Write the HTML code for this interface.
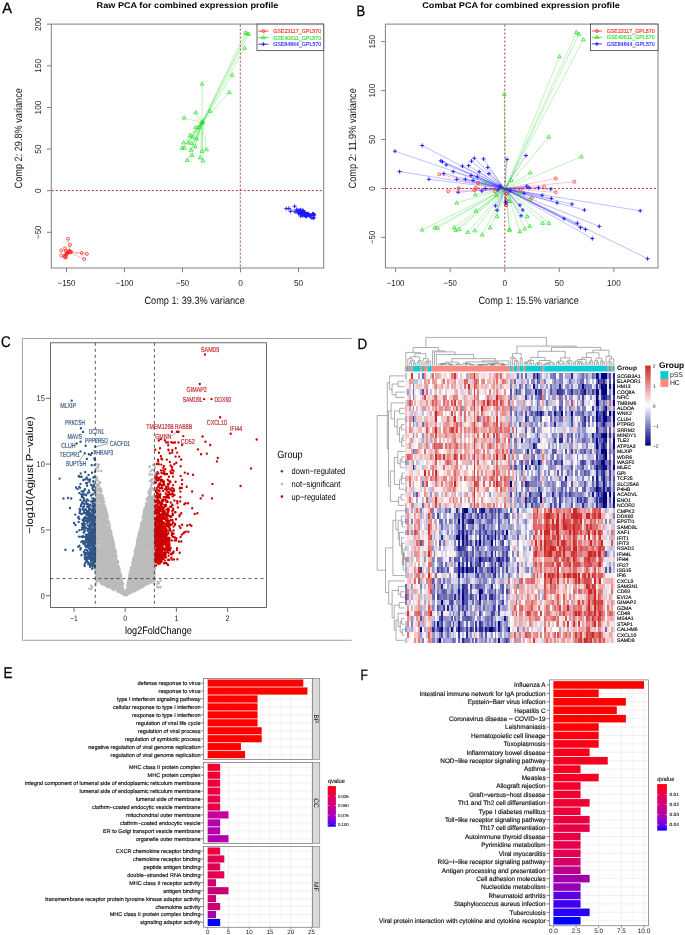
<!DOCTYPE html>
<html><head><meta charset="utf-8"><style>
html,body{margin:0;padding:0;background:#fff;width:685px;height:935px;overflow:hidden}
svg{display:block;font-family:"Liberation Sans",sans-serif;text-rendering:geometricPrecision;will-change:transform}
</style></head><body>
<svg width="685" height="935" viewBox="0 0 685 935">
<rect width="685" height="935" fill="#fff"/>
<g>
<text x="187.45" y="8.00" font-size="8.30" text-anchor="middle" font-weight="bold" textLength="181.70" lengthAdjust="spacingAndGlyphs">Raw PCA for combined expression profile</text>
<text x="2.20" y="12.80" font-size="15.00" textLength="9.80" lengthAdjust="spacingAndGlyphs" stroke="#000" stroke-width="0.3">A</text>
<path d="M68.1 238.7L69.3 252.4M70.1 244.8L69.3 252.4M65.0 248.3L69.3 252.4M61.1 250.4L69.3 252.4M61.3 255.5L69.3 252.4M81.8 253.0L69.3 252.4M86.9 253.9L69.3 252.4M84.2 259.0L69.3 252.4M66.0 251.0L69.3 252.4M67.5 252.5L69.3 252.4M69.0 251.0L69.3 252.4M70.5 251.5L69.3 252.4M66.5 254.0L69.3 252.4M65.0 256.5L69.3 252.4M65.5 255.0L69.3 252.4M67.0 253.5L69.3 252.4M68.0 252.0L69.3 252.4M64.5 257.0L69.3 252.4M66.0 257.5L69.3 252.4M70.0 252.5L69.3 252.4M71.0 251.8L69.3 252.4" stroke="#ff4040" stroke-width="0.45" fill="none" opacity="0.7"/>
<path d="M245.4 32.8L202.1 122.7M247.0 33.6L202.1 122.7M248.6 34.1L202.1 122.7M244.6 48.1L202.1 122.7M232.2 75.0L202.1 122.7M229.4 92.2L202.1 122.7M202.1 83.9L202.1 122.7M210.1 111.1L202.1 122.7M195.7 112.6L202.1 122.7M184.1 117.9L202.1 122.7M195.7 127.5L202.1 122.7M198.9 127.2L202.1 122.7M190.0 135.5L202.1 122.7M192.5 137.1L202.1 122.7M196.5 138.7L202.1 122.7M183.6 142.7L202.1 122.7M188.5 142.7L202.1 122.7M191.7 143.5L202.1 122.7M195.3 146.7L202.1 122.7M182.0 148.0L202.1 122.7M184.4 148.0L202.1 122.7M190.9 150.0L202.1 122.7M202.1 151.2L202.1 122.7M206.6 149.6L202.1 122.7M192.1 155.2L202.1 122.7M200.2 157.7L202.1 122.7M187.3 160.4L202.1 122.7M202.9 160.9L202.1 122.7M201.5 122.5L202.1 122.7M202.5 123.0L202.1 122.7M203.0 121.5L202.1 122.7" stroke="#33dd33" stroke-width="0.45" fill="none" opacity="0.7"/>
<path d="M286.2 208.7L304.0 213.6M294.6 206.3L304.0 213.6M290.6 211.4L304.0 213.6M313.6 215.4L304.0 213.6M305.4 216.2L304.0 213.6M300.8 214.2L304.0 213.6M303.8 213.5L304.0 213.6M313.5 217.6L304.0 213.6M304.8 215.3L304.0 213.6M310.1 216.1L304.0 213.6M307.6 213.9L304.0 213.6M303.3 213.1L304.0 213.6M299.0 210.1L304.0 213.6M297.7 211.4L304.0 213.6M304.2 213.6L304.0 213.6M305.3 212.5L304.0 213.6M304.6 214.5L304.0 213.6M308.4 214.3L304.0 213.6M303.2 210.8L304.0 213.6M302.7 210.4L304.0 213.6M298.6 213.6L304.0 213.6M295.1 211.9L304.0 213.6M306.5 214.4L304.0 213.6M307.1 215.8L304.0 213.6M309.7 215.7L304.0 213.6M302.3 212.5L304.0 213.6M300.6 212.7L304.0 213.6M301.5 214.5L304.0 213.6M296.6 209.8L304.0 213.6M300.7 209.8L304.0 213.6M313.6 214.0L304.0 213.6M303.7 213.1L304.0 213.6M312.5 214.2L304.0 213.6M309.8 215.0L304.0 213.6M304.3 213.1L304.0 213.6M307.9 213.7L304.0 213.6M304.6 214.7L304.0 213.6M313.3 213.9L304.0 213.6M311.9 218.1L304.0 213.6M302.8 214.0L304.0 213.6M302.9 215.9L304.0 213.6M305.9 214.3L304.0 213.6M304.0 213.7L304.0 213.6M304.2 212.8L304.0 213.6M314.3 214.9L304.0 213.6M288.8 208.4L304.0 213.6M304.3 214.6L304.0 213.6M304.1 213.8L304.0 213.6M306.5 216.2L304.0 213.6M303.0 213.1L304.0 213.6M313.7 218.1L304.0 213.6M300.6 216.0L304.0 213.6M308.5 214.7L304.0 213.6M299.7 212.8L304.0 213.6M301.3 211.5L304.0 213.6M299.2 211.5L304.0 213.6M310.0 215.5L304.0 213.6M298.5 212.9L304.0 213.6M305.3 215.6L304.0 213.6" stroke="#3333ff" stroke-width="0.45" fill="none" opacity="0.7"/>
<path d="M240.3 24.6V268.0" stroke="#a52a2a" stroke-width="1" stroke-dasharray="2 2" opacity="0.9"/>
<path d="M51.8 190.6H323.7" stroke="#a52a2a" stroke-width="1" stroke-dasharray="2 2" opacity="0.9"/>
<path d="M66.6 238.7a1.5 1.5 0 1 0 3 0a1.5 1.5 0 1 0 -3 0M68.6 244.8a1.5 1.5 0 1 0 3 0a1.5 1.5 0 1 0 -3 0M63.5 248.3a1.5 1.5 0 1 0 3 0a1.5 1.5 0 1 0 -3 0M59.6 250.4a1.5 1.5 0 1 0 3 0a1.5 1.5 0 1 0 -3 0M59.8 255.5a1.5 1.5 0 1 0 3 0a1.5 1.5 0 1 0 -3 0M80.3 253.0a1.5 1.5 0 1 0 3 0a1.5 1.5 0 1 0 -3 0M85.4 253.9a1.5 1.5 0 1 0 3 0a1.5 1.5 0 1 0 -3 0M82.7 259.0a1.5 1.5 0 1 0 3 0a1.5 1.5 0 1 0 -3 0M64.5 251.0a1.5 1.5 0 1 0 3 0a1.5 1.5 0 1 0 -3 0M66.0 252.5a1.5 1.5 0 1 0 3 0a1.5 1.5 0 1 0 -3 0M67.5 251.0a1.5 1.5 0 1 0 3 0a1.5 1.5 0 1 0 -3 0M69.0 251.5a1.5 1.5 0 1 0 3 0a1.5 1.5 0 1 0 -3 0M65.0 254.0a1.5 1.5 0 1 0 3 0a1.5 1.5 0 1 0 -3 0M63.5 256.5a1.5 1.5 0 1 0 3 0a1.5 1.5 0 1 0 -3 0M64.0 255.0a1.5 1.5 0 1 0 3 0a1.5 1.5 0 1 0 -3 0M65.5 253.5a1.5 1.5 0 1 0 3 0a1.5 1.5 0 1 0 -3 0M66.5 252.0a1.5 1.5 0 1 0 3 0a1.5 1.5 0 1 0 -3 0M63.0 257.0a1.5 1.5 0 1 0 3 0a1.5 1.5 0 1 0 -3 0M64.5 257.5a1.5 1.5 0 1 0 3 0a1.5 1.5 0 1 0 -3 0M68.5 252.5a1.5 1.5 0 1 0 3 0a1.5 1.5 0 1 0 -3 0M69.5 251.8a1.5 1.5 0 1 0 3 0a1.5 1.5 0 1 0 -3 0" stroke="#ff2020" stroke-width="0.75" fill="none"/>
<path d="M245.4 30.7l1.9 3.3h-3.8zM247.0 31.5l1.9 3.3h-3.8zM248.6 32.0l1.9 3.3h-3.8zM244.6 46.0l1.9 3.3h-3.8zM232.2 72.9l1.9 3.3h-3.8zM229.4 90.1l1.9 3.3h-3.8zM202.1 81.8l1.9 3.3h-3.8zM210.1 109.0l1.9 3.3h-3.8zM195.7 110.5l1.9 3.3h-3.8zM184.1 115.8l1.9 3.3h-3.8zM195.7 125.4l1.9 3.3h-3.8zM198.9 125.1l1.9 3.3h-3.8zM190.0 133.4l1.9 3.3h-3.8zM192.5 135.0l1.9 3.3h-3.8zM196.5 136.6l1.9 3.3h-3.8zM183.6 140.6l1.9 3.3h-3.8zM188.5 140.6l1.9 3.3h-3.8zM191.7 141.4l1.9 3.3h-3.8zM195.3 144.6l1.9 3.3h-3.8zM182.0 145.9l1.9 3.3h-3.8zM184.4 145.9l1.9 3.3h-3.8zM190.9 147.9l1.9 3.3h-3.8zM202.1 149.1l1.9 3.3h-3.8zM206.6 147.5l1.9 3.3h-3.8zM192.1 153.1l1.9 3.3h-3.8zM200.2 155.6l1.9 3.3h-3.8zM187.3 158.3l1.9 3.3h-3.8zM202.9 158.8l1.9 3.3h-3.8zM201.5 120.4l1.9 3.3h-3.8zM202.5 120.9l1.9 3.3h-3.8zM203.0 119.4l1.9 3.3h-3.8z" stroke="#22dd22" stroke-width="0.75" fill="none"/>
<path d="M284.2 208.7h4M286.2 206.7v4M292.6 206.3h4M294.6 204.3v4M288.6 211.4h4M290.6 209.4v4M311.6 215.4h4M313.6 213.4v4M303.4 216.2h4M305.4 214.2v4M298.8 214.2h4M300.8 212.2v4M301.8 213.5h4M303.8 211.5v4M311.5 217.6h4M313.5 215.6v4M302.8 215.3h4M304.8 213.3v4M308.1 216.1h4M310.1 214.1v4M305.6 213.9h4M307.6 211.9v4M301.3 213.1h4M303.3 211.1v4M297.0 210.1h4M299.0 208.1v4M295.7 211.4h4M297.7 209.4v4M302.2 213.6h4M304.2 211.6v4M303.3 212.5h4M305.3 210.5v4M302.6 214.5h4M304.6 212.5v4M306.4 214.3h4M308.4 212.3v4M301.2 210.8h4M303.2 208.8v4M300.7 210.4h4M302.7 208.4v4M296.6 213.6h4M298.6 211.6v4M293.1 211.9h4M295.1 209.9v4M304.5 214.4h4M306.5 212.4v4M305.1 215.8h4M307.1 213.8v4M307.7 215.7h4M309.7 213.7v4M300.3 212.5h4M302.3 210.5v4M298.6 212.7h4M300.6 210.7v4M299.5 214.5h4M301.5 212.5v4M294.6 209.8h4M296.6 207.8v4M298.7 209.8h4M300.7 207.8v4M311.6 214.0h4M313.6 212.0v4M301.7 213.1h4M303.7 211.1v4M310.5 214.2h4M312.5 212.2v4M307.8 215.0h4M309.8 213.0v4M302.3 213.1h4M304.3 211.1v4M305.9 213.7h4M307.9 211.7v4M302.6 214.7h4M304.6 212.7v4M311.3 213.9h4M313.3 211.9v4M309.9 218.1h4M311.9 216.1v4M300.8 214.0h4M302.8 212.0v4M300.9 215.9h4M302.9 213.9v4M303.9 214.3h4M305.9 212.3v4M302.0 213.7h4M304.0 211.7v4M302.2 212.8h4M304.2 210.8v4M312.3 214.9h4M314.3 212.9v4M286.8 208.4h4M288.8 206.4v4M302.3 214.6h4M304.3 212.6v4M302.1 213.8h4M304.1 211.8v4M304.5 216.2h4M306.5 214.2v4M301.0 213.1h4M303.0 211.1v4M311.7 218.1h4M313.7 216.1v4M298.6 216.0h4M300.6 214.0v4M306.5 214.7h4M308.5 212.7v4M297.7 212.8h4M299.7 210.8v4M299.3 211.5h4M301.3 209.5v4M297.2 211.5h4M299.2 209.5v4M308.0 215.5h4M310.0 213.5v4M296.5 212.9h4M298.5 210.9v4M303.3 215.6h4M305.3 213.6v4" stroke="#1a1aff" stroke-width="0.95" fill="none"/>
<rect x="51.3" y="24.1" width="272.4" height="243.9" fill="none" stroke="#808080" stroke-width="1"/>
<text x="66.50" y="285.70" font-size="8.60" text-anchor="middle" textLength="17.90" lengthAdjust="spacingAndGlyphs" fill="#222">−150</text>
<text x="124.50" y="285.70" font-size="8.60" text-anchor="middle" textLength="17.90" lengthAdjust="spacingAndGlyphs" fill="#222">−100</text>
<text x="182.50" y="285.70" font-size="8.60" text-anchor="middle" textLength="13.20" lengthAdjust="spacingAndGlyphs" fill="#222">−50</text>
<text x="240.50" y="285.70" font-size="8.60" text-anchor="middle" textLength="4.60" lengthAdjust="spacingAndGlyphs" fill="#222">0</text>
<text x="298.50" y="285.70" font-size="8.60" text-anchor="middle" textLength="9.20" lengthAdjust="spacingAndGlyphs" fill="#222">50</text>
<text x="0.00" y="0.00" font-size="8.60" text-anchor="middle" textLength="13.80" lengthAdjust="spacingAndGlyphs" fill="#222" transform="translate(41.0 24.2) rotate(-90)">200</text>
<text x="0.00" y="0.00" font-size="8.60" text-anchor="middle" textLength="13.80" lengthAdjust="spacingAndGlyphs" fill="#222" transform="translate(41.0 65.8) rotate(-90)">150</text>
<text x="0.00" y="0.00" font-size="8.60" text-anchor="middle" textLength="13.80" lengthAdjust="spacingAndGlyphs" fill="#222" transform="translate(41.0 107.5) rotate(-90)">100</text>
<text x="0.00" y="0.00" font-size="8.60" text-anchor="middle" textLength="9.20" lengthAdjust="spacingAndGlyphs" fill="#222" transform="translate(41.0 149.1) rotate(-90)">50</text>
<text x="0.00" y="0.00" font-size="8.60" text-anchor="middle" textLength="4.60" lengthAdjust="spacingAndGlyphs" fill="#222" transform="translate(41.0 190.7) rotate(-90)">0</text>
<text x="0.00" y="0.00" font-size="8.60" text-anchor="middle" textLength="13.20" lengthAdjust="spacingAndGlyphs" fill="#222" transform="translate(41.0 232.3) rotate(-90)">−50</text>
<path d="M66.5 268.0v4.3M124.5 268.0v4.3M182.5 268.0v4.3M240.5 268.0v4.3M298.5 268.0v4.3M51.3 24.2h-4.3M51.3 65.8h-4.3M51.3 107.5h-4.3M51.3 149.1h-4.3M51.3 190.7h-4.3M51.3 232.3h-4.3" stroke="#808080" stroke-width="1" fill="none"/>
<text x="194.65" y="304.30" font-size="10.60" text-anchor="middle" textLength="100.30" lengthAdjust="spacingAndGlyphs" fill="#111">Comp 1: 39.3% variance</text>
<text x="0.00" y="0.00" font-size="10.60" text-anchor="middle" textLength="100.30" lengthAdjust="spacingAndGlyphs" fill="#111" transform="translate(22.4 138.3) rotate(-90)">Comp 2: 29.8% variance</text>
<rect x="257.0" y="24.1" width="66.7" height="26.5" fill="#fff" stroke="#555" stroke-width="0.9"/>
<path d="M258.3 31.1H268.5" stroke="#ff2020" stroke-width="0.8"/>
<path d="M261.9 31.1a1.5 1.5 0 1 0 3 0a1.5 1.5 0 1 0 -3 0" stroke="#ff2020" stroke-width="0.75" fill="none"/>
<text x="273.20" y="33.10" font-size="5.70" textLength="48.00" lengthAdjust="spacingAndGlyphs" fill="#ff2020" stroke="#ff2020" stroke-width="0.1">GSE23117_GPL570</text>
<path d="M258.3 37.6H268.5" stroke="#22dd22" stroke-width="0.8"/>
<path d="M263.4 35.5l1.9 3.3h-3.8z" stroke="#22dd22" stroke-width="0.75" fill="none"/>
<text x="273.20" y="39.60" font-size="5.70" textLength="48.00" lengthAdjust="spacingAndGlyphs" fill="#22dd22" stroke="#22dd22" stroke-width="0.1">GSE40611_GPL570</text>
<path d="M258.3 44.2H268.5" stroke="#1a1aff" stroke-width="0.8"/>
<path d="M261.4 44.2h4M263.4 42.2v4" stroke="#1a1aff" stroke-width="0.95" fill="none"/>
<text x="273.20" y="46.20" font-size="5.70" textLength="48.00" lengthAdjust="spacingAndGlyphs" fill="#1a1aff" stroke="#1a1aff" stroke-width="0.1">GSE84844_GPL570</text>
<text x="521.00" y="8.00" font-size="8.30" text-anchor="middle" font-weight="bold" textLength="197.60" lengthAdjust="spacingAndGlyphs">Combat PCA for combined expression profile</text>
<text x="356.40" y="15.90" font-size="15.00" textLength="8.70" lengthAdjust="spacingAndGlyphs" stroke="#000" stroke-width="0.3">B</text>
<path d="M439.3 174.3L505.0 188.6M458.6 188.2L505.0 188.6M448.2 191.2L505.0 188.6M478.0 183.0L505.0 188.6M476.0 188.0L505.0 188.6M474.3 190.2L505.0 188.6M495.1 191.4L505.0 188.6M505.8 205.1L505.0 188.6M507.0 193.4L505.0 188.6M555.8 178.5L505.0 188.6M574.4 181.8L505.0 188.6M544.2 186.7L505.0 188.6M555.8 192.2L505.0 188.6M531.8 197.9L505.0 188.6M520.6 189.7L505.0 188.6M506.2 205.1L505.0 188.6M506.0 200.0L505.0 188.6" stroke="#ff5050" stroke-width="0.45" fill="none" opacity="0.7"/>
<path d="M422.2 229.9L505.8 188.3M435.0 227.7L505.8 188.3M437.5 228.2L505.8 188.3M454.2 227.7L505.8 188.3M455.7 230.2L505.8 188.3M459.1 229.4L505.8 188.3M456.7 202.9L505.8 188.3M467.8 232.4L505.8 188.3M474.8 230.7L505.8 188.3M476.0 211.0L505.8 188.3M475.3 194.7L505.8 188.3M482.2 234.9L505.8 188.3M490.2 227.7L505.8 188.3M497.1 216.5L505.8 188.3M496.4 195.4L505.8 188.3M484.7 182.3L505.8 188.3M509.5 229.9L505.8 188.3M509.5 201.4L505.8 188.3M581.4 156.7L505.8 188.3M530.3 172.8L505.8 188.3M511.2 180.3L505.8 188.3M519.4 193.4L505.8 188.3M529.8 199.6L505.8 188.3M509.4 201.4L505.8 188.3M527.3 216.5L505.8 188.3M542.7 223.2L505.8 188.3M548.9 223.2L505.8 188.3M529.8 226.2L505.8 188.3M524.8 228.9L505.8 188.3M519.9 231.4L505.8 188.3M509.4 229.9L505.8 188.3M576.4 32.3L505.8 188.3M578.8 34.0L505.8 188.3M583.3 39.7L505.8 188.3M559.5 56.6L505.8 188.3M504.1 94.3L505.8 188.3M548.6 137.0L505.8 188.3" stroke="#33dd33" stroke-width="0.45" fill="none" opacity="0.7"/>
<path d="M394.9 151.2L504.6 188.6M422.2 145.5L504.6 188.6M399.6 171.6L504.6 188.6M428.9 179.3L504.6 188.6M440.8 160.9L504.6 188.6M442.5 161.7L504.6 188.6M446.2 164.9L504.6 188.6M443.8 173.6L504.6 188.6M453.2 171.6L504.6 188.6M456.7 179.3L504.6 188.6M462.4 166.1L504.6 188.6M465.4 179.3L504.6 188.6M468.6 165.6L504.6 188.6M471.5 161.2L504.6 188.6M474.3 158.2L504.6 188.6M473.0 180.3L504.6 188.6M477.3 176.8L504.6 188.6M483.5 158.9L504.6 188.6M487.7 167.4L504.6 188.6M488.9 173.6L504.6 188.6M479.2 171.8L504.6 188.6M471.0 175.6L504.6 188.6M485.2 188.5L504.6 188.6M481.7 191.0L504.6 188.6M458.1 192.2L504.6 188.6M495.4 205.8L504.6 188.6M497.1 210.3L504.6 188.6M505.8 202.9L504.6 188.6M507.0 159.4L504.6 188.6M526.0 155.5L504.6 188.6M526.8 186.0L504.6 188.6M529.0 187.7L504.6 188.6M538.5 187.7L504.6 188.6M550.9 189.0L504.6 188.6M524.1 193.4L504.6 188.6M542.2 195.2L504.6 188.6M551.4 198.4L504.6 188.6M557.1 202.9L504.6 188.6M572.0 204.1L504.6 188.6M584.4 210.0L504.6 188.6M640.2 210.8L504.6 188.6M519.9 205.1L504.6 188.6M522.8 210.0L504.6 188.6M521.1 215.8L504.6 188.6M564.0 218.7L504.6 188.6M577.4 223.2L504.6 188.6M580.6 227.7L504.6 188.6M585.6 229.4L504.6 188.6M599.3 226.4L504.6 188.6M592.3 238.6L504.6 188.6M647.6 258.7L504.6 188.6M505.5 202.1L504.6 188.6M500.0 186.0L504.6 188.6M498.0 190.0L504.6 188.6M510.0 191.0L504.6 188.6" stroke="#3333ff" stroke-width="0.45" fill="none" opacity="0.7"/>
<path d="M504.8 24.6V267.9" stroke="#a52a2a" stroke-width="1" stroke-dasharray="2 2" opacity="0.9"/>
<path d="M385.9 188.5H658.0" stroke="#a52a2a" stroke-width="1" stroke-dasharray="2 2" opacity="0.9"/>
<path d="M437.8 174.3a1.5 1.5 0 1 0 3 0a1.5 1.5 0 1 0 -3 0M457.1 188.2a1.5 1.5 0 1 0 3 0a1.5 1.5 0 1 0 -3 0M446.7 191.2a1.5 1.5 0 1 0 3 0a1.5 1.5 0 1 0 -3 0M476.5 183.0a1.5 1.5 0 1 0 3 0a1.5 1.5 0 1 0 -3 0M474.5 188.0a1.5 1.5 0 1 0 3 0a1.5 1.5 0 1 0 -3 0M472.8 190.2a1.5 1.5 0 1 0 3 0a1.5 1.5 0 1 0 -3 0M493.6 191.4a1.5 1.5 0 1 0 3 0a1.5 1.5 0 1 0 -3 0M504.3 205.1a1.5 1.5 0 1 0 3 0a1.5 1.5 0 1 0 -3 0M505.5 193.4a1.5 1.5 0 1 0 3 0a1.5 1.5 0 1 0 -3 0M554.3 178.5a1.5 1.5 0 1 0 3 0a1.5 1.5 0 1 0 -3 0M572.9 181.8a1.5 1.5 0 1 0 3 0a1.5 1.5 0 1 0 -3 0M542.7 186.7a1.5 1.5 0 1 0 3 0a1.5 1.5 0 1 0 -3 0M554.3 192.2a1.5 1.5 0 1 0 3 0a1.5 1.5 0 1 0 -3 0M530.3 197.9a1.5 1.5 0 1 0 3 0a1.5 1.5 0 1 0 -3 0M519.1 189.7a1.5 1.5 0 1 0 3 0a1.5 1.5 0 1 0 -3 0M504.7 205.1a1.5 1.5 0 1 0 3 0a1.5 1.5 0 1 0 -3 0M504.5 200.0a1.5 1.5 0 1 0 3 0a1.5 1.5 0 1 0 -3 0" stroke="#ff2020" stroke-width="0.75" fill="none"/>
<path d="M422.2 227.8l1.9 3.3h-3.8zM435.0 225.6l1.9 3.3h-3.8zM437.5 226.1l1.9 3.3h-3.8zM454.2 225.6l1.9 3.3h-3.8zM455.7 228.1l1.9 3.3h-3.8zM459.1 227.3l1.9 3.3h-3.8zM456.7 200.8l1.9 3.3h-3.8zM467.8 230.3l1.9 3.3h-3.8zM474.8 228.6l1.9 3.3h-3.8zM476.0 208.9l1.9 3.3h-3.8zM475.3 192.6l1.9 3.3h-3.8zM482.2 232.8l1.9 3.3h-3.8zM490.2 225.6l1.9 3.3h-3.8zM497.1 214.4l1.9 3.3h-3.8zM496.4 193.3l1.9 3.3h-3.8zM484.7 180.2l1.9 3.3h-3.8zM509.5 227.8l1.9 3.3h-3.8zM509.5 199.3l1.9 3.3h-3.8zM581.4 154.6l1.9 3.3h-3.8zM530.3 170.7l1.9 3.3h-3.8zM511.2 178.2l1.9 3.3h-3.8zM519.4 191.3l1.9 3.3h-3.8zM529.8 197.5l1.9 3.3h-3.8zM509.4 199.3l1.9 3.3h-3.8zM527.3 214.4l1.9 3.3h-3.8zM542.7 221.1l1.9 3.3h-3.8zM548.9 221.1l1.9 3.3h-3.8zM529.8 224.1l1.9 3.3h-3.8zM524.8 226.8l1.9 3.3h-3.8zM519.9 229.3l1.9 3.3h-3.8zM509.4 227.8l1.9 3.3h-3.8zM576.4 30.2l1.9 3.3h-3.8zM578.8 31.9l1.9 3.3h-3.8zM583.3 37.6l1.9 3.3h-3.8zM559.5 54.5l1.9 3.3h-3.8zM504.1 92.2l1.9 3.3h-3.8zM548.6 134.9l1.9 3.3h-3.8z" stroke="#22dd22" stroke-width="0.75" fill="none"/>
<path d="M392.9 151.2h4M394.9 149.2v4M420.2 145.5h4M422.2 143.5v4M397.6 171.6h4M399.6 169.6v4M426.9 179.3h4M428.9 177.3v4M438.8 160.9h4M440.8 158.9v4M440.5 161.7h4M442.5 159.7v4M444.2 164.9h4M446.2 162.9v4M441.8 173.6h4M443.8 171.6v4M451.2 171.6h4M453.2 169.6v4M454.7 179.3h4M456.7 177.3v4M460.4 166.1h4M462.4 164.1v4M463.4 179.3h4M465.4 177.3v4M466.6 165.6h4M468.6 163.6v4M469.5 161.2h4M471.5 159.2v4M472.3 158.2h4M474.3 156.2v4M471.0 180.3h4M473.0 178.3v4M475.3 176.8h4M477.3 174.8v4M481.5 158.9h4M483.5 156.9v4M485.7 167.4h4M487.7 165.4v4M486.9 173.6h4M488.9 171.6v4M477.2 171.8h4M479.2 169.8v4M469.0 175.6h4M471.0 173.6v4M483.2 188.5h4M485.2 186.5v4M479.7 191.0h4M481.7 189.0v4M456.1 192.2h4M458.1 190.2v4M493.4 205.8h4M495.4 203.8v4M495.1 210.3h4M497.1 208.3v4M503.8 202.9h4M505.8 200.9v4M505.0 159.4h4M507.0 157.4v4M524.0 155.5h4M526.0 153.5v4M524.8 186.0h4M526.8 184.0v4M527.0 187.7h4M529.0 185.7v4M536.5 187.7h4M538.5 185.7v4M548.9 189.0h4M550.9 187.0v4M522.1 193.4h4M524.1 191.4v4M540.2 195.2h4M542.2 193.2v4M549.4 198.4h4M551.4 196.4v4M555.1 202.9h4M557.1 200.9v4M570.0 204.1h4M572.0 202.1v4M582.4 210.0h4M584.4 208.0v4M638.2 210.8h4M640.2 208.8v4M517.9 205.1h4M519.9 203.1v4M520.8 210.0h4M522.8 208.0v4M519.1 215.8h4M521.1 213.8v4M562.0 218.7h4M564.0 216.7v4M575.4 223.2h4M577.4 221.2v4M578.6 227.7h4M580.6 225.7v4M583.6 229.4h4M585.6 227.4v4M597.3 226.4h4M599.3 224.4v4M590.3 238.6h4M592.3 236.6v4M645.6 258.7h4M647.6 256.7v4M503.5 202.1h4M505.5 200.1v4M498.0 186.0h4M500.0 184.0v4M496.0 190.0h4M498.0 188.0v4M508.0 191.0h4M510.0 189.0v4" stroke="#1a1aff" stroke-width="0.95" fill="none"/>
<rect x="385.4" y="24.1" width="272.6" height="243.8" fill="none" stroke="#808080" stroke-width="1"/>
<text x="395.60" y="285.70" font-size="8.60" text-anchor="middle" textLength="17.90" lengthAdjust="spacingAndGlyphs" fill="#222">−100</text>
<text x="450.20" y="285.70" font-size="8.60" text-anchor="middle" textLength="13.20" lengthAdjust="spacingAndGlyphs" fill="#222">−50</text>
<text x="504.80" y="285.70" font-size="8.60" text-anchor="middle" textLength="4.60" lengthAdjust="spacingAndGlyphs" fill="#222">0</text>
<text x="559.30" y="285.70" font-size="8.60" text-anchor="middle" textLength="9.20" lengthAdjust="spacingAndGlyphs" fill="#222">50</text>
<text x="613.90" y="285.70" font-size="8.60" text-anchor="middle" textLength="13.80" lengthAdjust="spacingAndGlyphs" fill="#222">100</text>
<text x="0.00" y="0.00" font-size="8.60" text-anchor="middle" textLength="13.80" lengthAdjust="spacingAndGlyphs" fill="#222" transform="translate(374.7 41.7) rotate(-90)">150</text>
<text x="0.00" y="0.00" font-size="8.60" text-anchor="middle" textLength="13.80" lengthAdjust="spacingAndGlyphs" fill="#222" transform="translate(374.7 90.6) rotate(-90)">100</text>
<text x="0.00" y="0.00" font-size="8.60" text-anchor="middle" textLength="9.20" lengthAdjust="spacingAndGlyphs" fill="#222" transform="translate(374.7 139.5) rotate(-90)">50</text>
<text x="0.00" y="0.00" font-size="8.60" text-anchor="middle" textLength="4.60" lengthAdjust="spacingAndGlyphs" fill="#222" transform="translate(374.7 188.5) rotate(-90)">0</text>
<text x="0.00" y="0.00" font-size="8.60" text-anchor="middle" textLength="13.20" lengthAdjust="spacingAndGlyphs" fill="#222" transform="translate(374.7 237.4) rotate(-90)">−50</text>
<path d="M395.6 267.9v4.3M450.2 267.9v4.3M504.8 267.9v4.3M559.3 267.9v4.3M613.9 267.9v4.3M385.4 41.7h-4.3M385.4 90.6h-4.3M385.4 139.5h-4.3M385.4 188.5h-4.3M385.4 237.4h-4.3" stroke="#808080" stroke-width="1" fill="none"/>
<text x="528.65" y="304.30" font-size="10.60" text-anchor="middle" textLength="100.30" lengthAdjust="spacingAndGlyphs" fill="#111">Comp 1: 15.5% variance</text>
<text x="0.00" y="0.00" font-size="10.60" text-anchor="middle" textLength="100.30" lengthAdjust="spacingAndGlyphs" fill="#111" transform="translate(356.4 138.3) rotate(-90)">Comp 2: 11.9% variance</text>
<rect x="590.5" y="24.1" width="67.5" height="26.4" fill="#fff" stroke="#555" stroke-width="0.9"/>
<path d="M591.8 31.0H602.0" stroke="#ff2020" stroke-width="0.8"/>
<path d="M595.4 31.0a1.5 1.5 0 1 0 3 0a1.5 1.5 0 1 0 -3 0" stroke="#ff2020" stroke-width="0.75" fill="none"/>
<text x="606.70" y="33.00" font-size="5.70" textLength="48.00" lengthAdjust="spacingAndGlyphs" fill="#ff2020" stroke="#ff2020" stroke-width="0.1">GSE23117_GPL570</text>
<path d="M591.8 37.3H602.0" stroke="#22dd22" stroke-width="0.8"/>
<path d="M596.9 35.2l1.9 3.3h-3.8z" stroke="#22dd22" stroke-width="0.75" fill="none"/>
<text x="606.70" y="39.30" font-size="5.70" textLength="48.00" lengthAdjust="spacingAndGlyphs" fill="#22dd22" stroke="#22dd22" stroke-width="0.1">GSE40611_GPL570</text>
<path d="M591.8 43.9H602.0" stroke="#1a1aff" stroke-width="0.8"/>
<path d="M594.9 43.9h4M596.9 41.9v4" stroke="#1a1aff" stroke-width="0.95" fill="none"/>
<text x="606.70" y="45.90" font-size="5.70" textLength="48.00" lengthAdjust="spacingAndGlyphs" fill="#1a1aff" stroke="#1a1aff" stroke-width="0.1">GSE84844_GPL570</text>
<path d="M351.7 338.5H22.4V640.3H351.7" fill="none" stroke="#8a8a8a" stroke-width="0.8"/>
<text x="1.00" y="347.30" font-size="15.50" textLength="9.60" lengthAdjust="spacingAndGlyphs" stroke="#000" stroke-width="0.3">C</text>
<path d="M114.6 576.6h0M134.2 586.5h0M98.7 531.6h0M97.5 540.9h0M102.7 567.5h0M146.7 559.1h0M103.9 580.8h0M106.1 522.2h0M128.1 587.8h0M98.8 569.7h0M138.9 559.3h0M154.0 580.8h0M104.4 533.9h0M97.6 511.3h0M141.0 523.3h0M147.7 556.1h0M98.9 507.1h0M96.6 537.4h0M105.3 580.9h0M110.1 546.3h0M148.2 492.2h0M111.9 543.2h0M152.6 576.6h0M105.8 566.4h0M109.2 534.4h0M95.5 542.8h0M152.3 508.5h0M119.1 582.6h0M133.2 587.8h0M99.3 569.3h0M105.0 552.7h0M104.3 582.9h0M147.6 518.1h0M104.1 563.8h0M154.7 536.8h0M101.4 552.4h0M152.2 529.0h0M104.0 527.1h0M96.9 529.0h0M110.9 549.4h0M115.0 567.5h0M108.8 530.3h0M96.9 560.4h0M152.5 539.2h0M152.5 549.6h0M108.5 567.0h0M107.0 569.9h0M145.6 535.1h0M100.3 512.2h0M149.7 496.9h0M142.5 553.7h0M102.9 576.6h0M134.6 551.4h0M144.7 569.0h0M110.3 558.7h0M110.8 542.8h0M126.6 593.3h0M142.2 582.3h0M151.6 507.4h0M151.7 562.9h0M145.6 578.4h0M102.5 539.8h0M99.6 565.3h0M99.6 511.1h0M104.5 505.2h0M153.2 568.0h0M152.3 545.4h0M145.1 575.3h0M115.6 571.0h0M96.4 525.7h0M121.6 593.4h0M154.3 496.1h0M101.5 562.1h0M103.0 542.4h0M146.9 538.4h0M150.8 561.9h0M103.0 529.1h0M109.5 581.9h0M107.3 556.3h0M105.9 551.9h0M96.3 564.1h0M96.2 503.1h0M106.6 535.7h0M151.2 582.3h0M144.3 541.1h0M98.5 579.3h0M105.0 585.0h0M135.4 560.1h0M109.8 558.7h0M113.8 550.7h0M95.3 547.5h0M107.3 531.9h0M95.5 562.3h0M100.6 545.2h0M113.5 566.3h0M154.2 576.8h0M97.9 490.2h0M143.9 578.1h0M144.8 521.9h0M148.7 509.4h0M136.8 566.7h0M97.1 578.9h0M116.9 582.4h0M145.3 525.1h0M95.4 494.9h0M134.7 587.4h0M139.4 563.8h0M99.7 562.2h0M138.9 569.8h0M133.8 585.9h0M104.1 563.6h0M139.8 557.2h0M98.9 561.7h0M135.7 559.0h0M148.8 570.5h0M153.2 538.9h0M111.3 569.2h0M151.9 569.1h0M130.1 577.8h0M137.4 566.5h0M149.0 534.3h0M113.3 577.9h0M115.9 555.8h0M112.6 548.7h0M145.2 559.6h0M151.3 564.2h0M111.2 531.1h0M106.6 548.5h0M151.6 526.3h0M139.1 538.7h0M150.8 579.6h0M153.7 562.8h0M134.5 557.7h0M105.3 575.3h0M106.8 584.2h0M115.7 584.2h0M109.6 563.1h0M140.2 543.6h0M99.0 560.6h0M153.2 579.8h0M146.9 568.4h0M111.5 564.3h0M152.4 488.5h0M95.3 546.2h0M150.8 491.4h0M153.5 564.3h0M101.8 576.2h0M151.6 504.5h0M141.1 537.9h0M128.3 590.7h0M142.1 566.3h0M150.4 514.1h0M113.4 579.5h0M137.1 581.5h0M99.5 529.4h0M95.9 557.6h0M137.5 556.9h0M96.6 532.7h0M150.7 567.0h0M97.3 553.0h0M139.5 531.9h0M109.1 567.7h0M140.8 558.4h0M152.3 533.1h0M106.5 567.5h0M152.1 577.2h0M118.8 568.8h0M153.6 577.8h0M148.2 503.1h0M151.1 554.1h0M112.0 551.3h0M152.5 580.1h0M153.0 569.5h0M144.5 541.1h0M98.2 535.9h0M106.8 549.7h0M150.4 563.2h0M115.6 561.3h0M152.6 517.8h0M114.2 560.9h0M95.5 500.2h0M96.7 566.2h0M152.4 546.9h0M110.3 541.4h0M114.9 555.3h0M100.0 570.8h0M140.3 564.5h0M154.0 484.1h0M111.1 585.1h0M101.0 532.7h0M137.8 539.2h0M109.3 543.0h0M135.0 580.4h0M145.6 558.6h0M139.5 570.5h0M110.1 564.7h0M143.7 513.2h0M97.7 558.6h0M102.4 571.8h0M153.5 522.0h0M151.0 548.7h0M147.1 539.0h0M151.9 582.3h0M108.3 549.1h0M103.7 569.9h0M134.3 570.0h0M95.9 554.4h0M135.9 572.3h0M113.9 570.0h0M142.9 526.5h0M133.5 584.2h0M105.1 507.8h0M112.2 556.8h0M152.3 556.2h0M154.9 549.7h0M149.3 542.2h0M144.4 544.4h0M148.1 537.5h0M150.7 582.0h0M153.2 570.8h0M153.7 534.7h0M149.4 517.3h0M144.6 575.5h0M142.3 567.6h0M144.9 572.6h0M108.3 545.2h0M102.6 564.5h0M97.7 524.7h0M145.5 580.8h0M96.6 517.5h0M102.9 541.3h0M100.7 539.9h0M125.8 590.5h0M133.4 585.3h0M152.2 578.5h0M150.1 574.8h0M99.2 551.4h0M140.5 575.6h0M149.0 561.0h0M144.1 577.6h0M107.7 562.5h0M97.5 572.7h0M102.1 528.7h0M147.5 525.6h0M143.0 562.3h0M154.6 522.8h0M144.4 563.7h0M97.3 576.8h0M103.2 567.0h0M95.4 550.9h0M101.6 550.6h0M108.7 522.0h0M130.5 569.9h0M109.8 576.8h0M101.0 515.1h0M139.2 564.3h0M103.8 570.5h0M105.7 556.6h0M113.2 589.6h0M148.5 496.8h0M101.6 566.4h0M97.6 553.3h0M145.9 505.8h0M142.5 529.6h0M153.1 568.3h0M110.8 565.9h0M139.9 554.4h0M148.0 554.2h0M107.9 517.0h0M115.9 577.8h0M99.2 521.1h0M99.2 486.1h0M151.8 582.2h0M107.6 581.6h0M97.3 488.6h0M133.1 559.4h0M101.2 583.3h0M140.6 569.8h0M96.5 563.3h0M153.0 532.1h0M146.2 517.6h0M97.1 543.5h0M146.9 584.2h0M144.4 574.2h0M95.3 570.2h0M95.5 533.7h0M106.3 533.2h0M112.2 568.6h0M101.8 515.3h0M100.1 496.2h0M96.8 569.7h0M148.2 566.2h0M114.8 576.1h0M145.8 512.1h0M139.7 574.3h0M129.9 579.8h0M109.5 571.5h0M145.8 576.2h0M104.6 564.4h0M104.9 554.3h0M138.9 582.8h0M133.5 582.2h0M107.6 546.6h0M97.3 545.3h0M140.1 542.5h0M148.0 497.9h0M146.3 509.8h0M101.1 542.7h0M133.0 564.1h0M106.2 513.0h0M141.9 546.6h0M97.5 527.1h0M151.6 530.1h0M101.3 523.1h0M144.9 529.8h0M116.5 588.5h0M111.7 545.2h0M96.0 542.8h0M116.3 562.2h0M151.6 529.1h0M118.7 568.9h0M103.0 497.6h0M153.0 551.1h0M144.1 536.6h0M111.3 548.2h0M110.4 541.9h0M138.5 560.2h0M109.9 557.6h0M142.2 578.0h0M145.0 515.7h0M152.3 512.8h0M110.2 582.9h0M103.8 566.2h0M141.8 551.9h0M142.7 574.5h0M148.6 518.8h0M148.8 496.1h0M109.3 578.1h0M145.6 548.3h0M99.8 515.2h0M151.0 554.0h0M154.1 531.2h0M97.3 505.0h0M107.9 540.7h0M144.8 558.7h0M144.8 544.7h0M115.1 555.6h0M97.6 504.4h0M127.9 589.4h0M101.3 572.8h0M97.5 497.8h0M113.3 542.4h0M98.5 524.0h0M97.6 580.7h0M143.8 523.0h0M150.3 539.3h0M96.1 546.8h0M154.0 535.6h0M120.0 582.8h0M133.9 568.9h0M95.5 509.3h0M139.2 572.0h0M98.3 497.9h0M96.1 513.5h0M144.2 585.6h0M112.8 588.0h0M153.6 506.9h0M148.5 548.1h0M95.3 562.5h0M97.8 490.4h0M147.2 523.4h0M150.0 551.9h0M100.3 525.8h0M143.0 570.4h0M107.6 563.5h0M122.8 584.6h0M130.6 571.8h0M106.8 572.9h0M137.2 549.9h0M117.7 582.3h0M104.6 520.3h0M141.9 541.9h0M151.9 498.8h0M153.0 563.6h0M97.5 570.3h0M106.1 585.1h0M98.3 525.3h0M147.4 537.8h0M110.6 551.2h0M98.6 577.4h0M135.8 558.0h0M101.6 554.8h0M110.6 580.0h0M109.5 577.6h0M138.2 571.1h0M151.2 486.2h0M103.6 539.2h0M145.7 516.3h0M144.6 535.4h0M132.9 577.7h0M111.2 543.7h0M104.6 561.4h0M145.5 553.4h0M105.3 533.7h0M107.9 535.4h0M112.4 563.1h0M107.3 549.7h0M101.1 559.1h0M138.8 558.6h0M143.6 552.6h0M145.1 529.2h0M106.4 540.7h0M149.9 568.1h0M129.5 578.3h0M137.9 570.8h0M111.7 569.7h0M143.9 522.1h0M139.1 544.1h0M138.5 588.7h0M143.8 553.3h0M124.8 593.7h0M149.8 535.5h0M147.5 562.1h0M117.2 575.0h0M95.5 530.0h0M102.5 505.4h0M147.1 555.1h0M137.9 547.5h0M140.3 588.0h0M106.2 582.7h0M137.1 571.1h0M96.3 520.0h0M137.3 582.7h0M102.6 533.3h0M102.6 544.5h0M103.5 520.9h0M146.8 577.1h0M151.4 546.6h0M109.6 553.4h0M98.5 530.3h0M99.4 541.0h0M125.5 593.1h0M97.3 514.6h0M150.6 517.2h0M110.3 530.0h0M112.5 557.1h0M134.0 580.5h0M104.1 580.0h0M103.1 558.6h0M109.8 584.6h0M134.2 570.3h0M137.8 537.5h0M109.8 567.7h0M109.5 525.4h0M154.4 558.4h0M141.5 575.7h0M99.0 546.7h0M101.8 567.3h0M115.4 551.2h0M95.5 499.0h0M138.6 558.7h0M106.3 557.3h0M103.9 523.0h0M130.1 584.6h0M150.4 554.8h0M152.7 569.9h0M150.4 498.0h0M155.1 530.3h0M152.0 510.2h0M144.1 574.1h0M144.7 530.9h0M104.6 559.1h0M106.5 572.7h0M133.4 590.4h0M95.5 557.2h0M145.7 521.6h0M135.3 570.9h0M102.5 575.9h0M140.7 582.2h0M101.2 574.2h0M141.4 554.9h0M138.1 551.0h0M105.4 562.0h0M152.7 540.2h0M132.4 564.2h0M144.1 557.3h0M109.8 546.5h0M138.3 567.7h0M109.8 573.8h0M116.7 572.1h0M153.4 559.0h0M128.9 581.2h0M119.4 587.4h0M116.3 564.8h0M106.7 559.9h0M135.0 552.6h0M102.9 539.7h0M104.8 551.1h0M138.5 548.1h0M152.7 569.4h0M152.2 531.9h0M108.9 538.5h0M103.1 506.4h0M149.1 521.5h0M117.3 564.6h0M131.7 568.8h0M147.5 580.2h0M118.6 584.8h0M101.8 524.7h0M113.0 587.4h0M113.9 567.1h0M102.8 505.2h0M146.8 579.0h0M106.1 581.1h0M149.9 503.0h0M105.0 570.7h0M113.4 547.6h0M97.6 556.4h0M133.5 573.0h0M145.5 523.7h0M138.2 563.5h0M146.4 519.0h0M98.1 564.8h0M136.9 546.0h0M112.1 584.3h0M151.9 542.1h0M151.0 508.3h0M145.0 516.3h0M122.4 588.8h0M137.1 541.6h0M153.3 515.2h0M98.8 550.5h0M119.9 570.3h0M113.9 578.4h0M109.5 565.2h0M151.3 551.3h0M103.7 524.5h0M105.4 511.5h0M102.1 559.1h0M116.8 569.6h0M98.9 560.2h0M122.1 581.4h0M117.0 574.5h0M129.0 582.0h0M106.6 527.1h0M134.3 563.9h0M110.0 578.2h0M96.9 497.9h0M113.0 572.2h0M150.8 574.4h0M139.7 554.4h0M114.4 549.1h0M145.1 565.5h0M97.7 524.1h0M151.9 533.2h0M100.1 508.8h0M142.4 542.0h0M149.4 574.9h0M113.0 539.7h0M107.0 585.0h0M152.3 535.0h0M134.0 557.9h0M96.9 571.8h0M100.4 512.3h0M102.1 572.9h0M148.6 526.5h0M110.4 583.7h0M108.8 523.3h0M102.0 530.9h0M130.5 585.6h0M119.7 586.4h0M140.6 581.2h0M145.0 546.2h0M109.4 548.7h0M96.2 520.6h0M108.0 557.8h0M137.6 541.9h0M148.5 517.2h0M147.5 524.6h0M139.9 552.6h0M144.7 580.2h0M131.4 583.1h0M135.7 563.5h0M106.8 539.3h0M145.5 522.3h0M136.4 547.6h0M96.1 552.4h0M104.3 532.3h0M97.4 572.7h0M144.3 509.9h0M131.8 586.1h0M115.0 568.4h0M148.8 521.3h0M97.9 574.3h0M96.5 537.7h0M104.0 510.9h0M111.6 561.2h0M97.3 524.9h0M136.1 557.3h0M119.6 588.1h0M115.4 554.9h0M154.5 534.9h0M117.2 564.9h0M109.3 551.6h0M147.4 538.5h0M113.4 574.4h0M99.2 557.6h0M130.2 585.6h0M106.0 522.4h0M154.4 550.6h0M141.6 541.6h0M111.8 563.2h0M96.6 574.9h0M108.3 545.2h0M107.2 519.5h0M147.0 513.8h0M152.9 519.8h0M100.0 493.4h0M115.7 578.4h0M106.5 527.9h0M147.7 514.9h0M150.5 568.9h0M135.9 553.0h0M98.7 543.4h0M98.0 516.6h0M123.0 594.0h0M150.7 524.4h0M115.0 583.9h0M104.6 577.7h0M141.2 584.3h0M144.0 542.2h0M139.6 563.1h0M141.7 556.6h0M141.6 549.9h0M154.5 566.9h0M140.6 584.3h0M96.9 578.8h0M98.9 532.3h0M151.5 549.5h0M104.2 573.3h0M141.9 565.1h0M154.1 532.7h0M143.2 537.6h0M132.8 567.4h0M110.3 562.6h0M133.7 558.0h0M154.8 568.3h0M129.4 575.9h0M144.5 560.0h0M148.6 575.3h0M148.1 569.2h0M148.2 550.2h0M154.8 558.1h0M149.9 576.6h0M139.3 583.4h0M105.4 509.4h0M100.7 552.8h0M150.3 505.2h0M121.0 582.5h0M147.9 580.5h0M136.3 577.0h0M139.5 532.4h0M102.0 551.0h0M116.2 568.5h0M111.6 573.3h0M111.1 587.0h0M97.8 531.4h0M147.6 505.0h0M153.5 546.8h0M95.6 518.9h0M150.7 563.5h0M109.7 570.6h0M98.2 508.0h0M95.3 501.4h0M154.8 566.1h0M149.7 535.9h0M109.5 573.9h0M144.5 537.5h0M97.8 547.5h0M102.6 576.3h0M110.3 582.7h0M100.5 545.7h0M155.0 507.9h0M140.7 576.8h0M136.0 549.3h0M107.3 523.6h0M98.7 573.2h0M138.3 561.0h0M114.7 565.1h0M145.2 584.2h0M107.3 542.2h0M142.7 517.6h0M117.5 590.2h0M137.9 558.4h0M143.8 551.2h0M150.6 571.5h0M153.4 505.8h0M135.1 554.1h0M148.6 540.1h0M144.6 511.0h0M139.6 545.0h0M97.7 509.8h0M141.4 580.8h0M108.5 586.0h0M144.2 582.9h0M100.5 500.5h0M98.5 509.7h0M98.5 508.4h0M104.0 553.5h0M126.3 594.9h0M154.5 561.0h0M111.0 556.2h0M120.4 589.2h0M110.6 570.2h0M98.4 527.9h0M128.6 589.2h0M114.6 561.1h0M142.9 558.9h0M151.2 539.5h0M131.0 572.9h0M150.5 524.8h0M143.2 532.8h0M112.9 569.0h0M145.5 577.3h0M150.2 569.6h0M101.3 583.7h0M136.3 576.1h0M145.3 558.6h0M154.0 546.2h0M97.2 547.7h0M133.6 567.5h0M127.9 583.9h0M112.7 551.7h0M140.2 533.0h0M100.5 578.0h0M145.9 567.0h0M134.6 589.4h0M113.1 586.9h0M128.7 583.6h0M97.3 530.8h0M101.1 514.0h0M103.2 522.7h0M135.0 575.0h0M147.6 535.0h0M104.2 583.8h0M147.9 580.9h0M102.3 536.6h0M105.1 528.1h0M107.1 544.7h0M107.4 579.6h0M142.6 523.6h0M136.5 566.7h0M140.2 576.3h0M100.3 522.6h0M99.0 564.7h0M97.7 517.6h0M119.6 584.6h0M135.9 576.6h0M115.9 578.0h0M107.1 568.0h0M149.6 500.8h0M107.2 516.7h0M100.8 505.1h0M147.4 557.9h0M152.8 528.5h0M151.9 581.1h0M145.5 566.4h0M107.1 537.9h0M109.4 533.5h0M149.6 509.1h0M137.8 546.2h0M144.7 544.4h0M100.5 513.3h0M145.3 552.8h0M124.5 593.6h0M115.3 568.7h0M100.5 561.5h0M137.3 539.9h0M102.5 509.4h0M117.0 567.4h0M148.6 518.6h0M148.8 545.9h0M105.0 529.1h0M95.3 573.5h0M151.9 538.3h0M143.7 564.0h0M116.4 583.0h0M99.8 516.9h0M149.6 532.8h0M97.4 554.6h0M148.6 577.4h0M98.0 546.1h0M135.8 547.6h0M152.9 506.0h0M111.9 575.2h0M142.8 551.8h0M103.6 530.5h0M147.8 575.2h0M139.5 574.1h0M113.9 588.9h0M113.1 547.3h0M107.1 555.2h0M121.5 582.0h0M110.8 545.9h0M111.2 569.9h0M149.7 538.8h0M145.4 515.2h0M141.9 555.9h0M111.7 549.9h0M150.2 528.8h0M111.2 565.0h0M99.4 526.4h0M101.9 556.9h0M141.7 545.9h0M116.2 572.2h0M147.5 528.5h0M149.3 578.8h0M115.5 587.4h0M146.3 511.3h0M145.5 576.6h0M149.1 501.8h0M103.1 506.7h0M99.3 519.5h0M144.6 561.2h0M108.0 567.4h0M100.9 510.3h0M137.1 586.6h0M145.5 554.6h0M95.5 516.2h0M103.6 560.9h0M98.8 539.4h0M115.6 553.9h0M142.8 569.3h0M127.4 591.8h0M99.0 516.1h0M99.5 535.3h0M103.3 538.3h0M106.6 544.8h0M112.2 571.2h0M137.4 570.8h0M150.4 504.4h0M99.0 569.7h0M133.0 562.4h0M116.5 575.0h0M113.6 590.1h0M105.7 550.8h0M101.4 582.2h0M144.5 579.5h0M101.8 524.5h0M149.7 506.0h0M154.0 540.5h0M139.1 547.2h0M108.1 521.7h0M123.0 590.2h0M148.5 528.2h0M99.5 554.8h0M107.6 564.9h0M149.5 547.4h0M101.5 521.0h0M102.8 570.4h0M121.6 587.2h0M138.6 588.9h0M131.1 587.8h0M108.9 546.1h0M98.2 565.3h0M151.0 568.0h0M111.0 576.3h0M143.6 575.1h0M146.3 525.5h0M144.5 532.2h0M143.1 585.9h0M98.5 526.8h0M112.7 545.5h0M134.2 569.5h0M120.9 581.8h0M153.7 526.7h0M116.4 583.8h0M146.1 582.9h0M140.9 577.0h0M99.7 581.3h0M97.1 509.7h0M146.2 541.3h0M147.9 573.0h0M151.7 539.9h0M137.6 563.8h0M113.3 551.7h0M114.7 583.7h0M110.2 543.6h0M96.5 566.5h0M142.8 528.5h0M104.9 528.6h0M151.4 544.2h0M150.0 508.6h0M100.6 568.9h0M96.1 562.8h0M105.8 540.4h0M110.1 563.2h0M96.9 508.4h0M136.9 557.3h0M96.1 550.0h0M103.8 581.4h0M136.4 561.2h0M141.3 573.2h0M101.2 557.4h0M135.4 560.6h0M95.8 571.7h0M149.5 575.7h0M134.9 572.9h0M103.9 583.4h0M154.1 547.3h0M108.6 587.5h0M152.9 549.8h0M138.5 578.2h0M142.5 563.9h0M101.9 564.3h0M142.9 559.7h0M108.7 571.2h0M108.4 547.2h0M98.3 511.9h0M145.4 566.0h0M97.0 540.3h0M102.2 537.6h0M137.9 583.9h0M102.3 535.1h0M105.7 566.5h0M121.6 580.8h0M99.3 550.1h0M128.5 586.7h0M151.8 529.4h0M109.6 574.1h0M147.0 568.9h0M100.2 562.2h0M150.6 537.5h0M139.1 586.3h0M116.9 580.6h0M154.2 534.9h0M96.7 536.3h0M109.3 532.7h0M151.9 502.2h0M106.1 567.0h0M100.2 568.3h0M97.4 540.2h0M103.7 571.5h0M151.5 544.9h0M152.1 566.3h0M152.1 533.5h0M154.7 517.2h0M152.8 555.0h0M117.6 575.2h0M137.9 578.3h0M109.7 580.5h0M152.8 576.9h0M103.5 529.7h0M98.7 566.1h0M105.3 521.7h0M148.5 512.1h0M119.7 589.2h0M150.0 582.5h0M96.3 559.1h0M147.4 542.6h0M143.6 513.2h0M106.8 586.1h0M149.0 523.6h0M110.6 565.8h0M135.8 586.4h0M142.3 566.3h0M107.7 544.0h0M139.3 550.3h0M102.9 567.6h0M108.1 562.1h0M97.4 578.5h0M99.9 522.1h0M151.7 522.8h0M124.1 593.5h0M135.7 575.4h0M113.3 563.4h0M144.5 519.8h0M130.5 570.6h0M96.1 528.1h0M138.7 561.3h0M109.0 562.2h0M96.4 581.3h0M104.2 553.3h0M100.3 575.2h0M100.7 516.9h0M137.0 562.5h0M128.8 589.2h0M104.5 508.2h0M138.2 566.7h0M100.9 521.6h0M109.1 583.9h0M103.5 571.4h0M130.1 582.1h0M133.2 565.3h0M110.7 542.2h0M149.3 569.8h0M110.9 575.8h0M98.6 518.7h0M107.1 580.6h0M108.5 555.5h0M141.4 548.7h0M151.2 517.5h0M101.5 538.1h0M133.4 560.5h0M103.0 536.8h0M99.4 500.9h0M121.4 584.9h0M118.8 583.8h0M103.3 582.2h0M99.5 575.0h0M105.4 573.8h0M141.1 541.9h0M115.5 580.1h0M102.3 562.9h0M149.4 536.0h0M152.5 519.4h0M103.0 571.2h0M144.0 552.9h0M110.1 563.5h0M114.5 573.9h0M139.9 552.5h0M106.5 542.8h0M144.3 562.1h0M101.9 567.0h0M149.7 543.8h0M140.5 564.8h0M150.3 494.1h0M144.0 563.7h0M145.5 578.8h0M144.4 552.1h0M147.9 578.1h0M151.5 501.7h0M134.3 589.6h0M147.4 526.5h0M147.4 568.6h0M115.6 564.2h0M101.3 554.4h0M139.6 570.6h0M148.8 536.3h0M147.6 523.3h0M101.6 521.5h0M144.9 530.2h0M148.0 511.6h0M107.7 549.9h0M136.9 579.9h0M138.2 541.5h0M100.8 529.5h0M116.6 567.6h0M154.7 540.9h0M150.9 570.2h0M113.3 554.1h0M139.1 572.1h0M135.3 577.6h0M147.3 550.0h0M150.6 569.5h0M96.7 532.2h0M152.5 531.2h0M151.1 525.0h0M103.9 516.0h0M143.4 542.2h0M111.8 542.6h0M140.1 565.8h0M110.6 530.4h0M105.8 519.5h0M149.4 570.2h0M137.8 561.3h0M103.8 537.6h0M109.9 570.6h0M104.9 543.9h0M104.9 568.1h0M100.3 571.3h0M106.2 535.1h0M130.7 577.4h0M136.6 546.2h0M146.1 503.7h0M152.1 577.3h0M142.6 521.2h0M135.8 552.7h0M151.8 526.3h0M119.4 572.7h0M148.9 551.5h0M110.9 548.9h0M149.9 527.6h0M111.8 553.7h0M144.5 575.5h0M143.5 577.1h0M152.0 526.1h0M150.7 540.9h0M146.7 547.0h0M98.6 580.0h0M96.6 506.2h0M102.0 575.2h0M106.1 518.7h0M110.4 566.3h0M105.7 573.0h0M104.4 551.4h0M139.4 588.3h0M97.3 540.2h0M142.6 523.0h0M128.8 577.7h0M105.7 547.3h0M126.1 595.0h0M143.1 543.4h0M138.9 544.1h0M117.8 561.7h0M149.4 495.6h0M136.5 555.5h0M140.6 562.6h0M131.8 575.7h0M146.6 534.0h0M140.6 576.9h0M149.6 521.6h0M111.8 581.3h0M147.4 539.9h0M138.8 563.3h0M101.1 533.3h0M138.5 568.6h0M134.4 560.6h0M140.1 577.4h0M136.0 588.9h0M154.5 527.4h0M139.6 579.1h0M97.2 535.3h0M100.5 488.1h0M97.3 537.0h0M138.9 552.3h0M151.1 572.3h0M102.4 572.2h0M121.8 583.3h0M150.0 493.9h0M139.9 566.4h0M119.5 574.5h0M103.5 536.3h0M154.1 578.0h0M107.5 580.0h0M136.3 549.9h0M152.1 515.6h0M135.4 550.2h0M153.3 564.8h0M95.8 525.8h0M107.6 531.6h0M95.8 543.2h0M149.3 521.2h0M107.4 573.1h0M145.1 582.9h0M151.1 561.9h0M148.0 530.6h0M99.3 490.8h0M104.1 549.7h0M134.4 575.3h0M110.5 577.8h0M104.7 576.8h0M104.8 532.2h0M140.6 565.1h0M144.6 565.2h0M100.8 535.4h0M141.1 567.6h0M150.6 519.4h0M100.2 553.8h0M100.6 513.7h0M109.9 576.2h0M113.5 554.7h0M149.8 506.5h0M134.1 575.9h0M132.7 588.3h0M101.4 501.9h0M134.9 584.1h0M108.6 545.4h0M107.1 584.6h0M115.3 562.1h0M135.4 567.6h0M121.0 576.0h0M99.5 527.1h0M144.0 535.9h0M103.7 534.6h0M102.9 509.1h0M102.0 555.0h0M98.5 522.0h0M138.6 551.7h0M136.9 549.4h0M137.9 560.7h0M153.8 540.4h0M133.4 576.1h0M154.9 555.5h0M149.7 496.4h0M108.6 560.7h0M106.4 528.5h0M150.7 531.2h0M144.3 534.7h0M139.0 568.8h0M113.6 550.3h0M107.7 566.2h0M136.8 561.2h0M98.9 550.1h0M143.4 566.7h0M115.4 582.0h0M111.4 534.1h0M106.2 575.8h0M146.3 553.8h0M141.5 548.4h0M96.5 546.4h0M132.7 571.9h0M96.5 510.5h0M149.7 566.2h0M102.6 568.8h0M113.9 543.1h0M117.8 590.9h0M98.5 547.7h0M143.2 582.5h0M100.7 537.4h0M154.1 574.3h0M112.3 585.0h0M152.5 549.0h0M102.1 512.8h0M152.6 550.1h0M119.3 575.2h0M97.0 567.9h0M152.8 509.5h0M105.6 514.2h0M136.8 563.0h0M133.9 578.5h0M132.0 574.0h0M103.3 556.7h0M101.6 518.4h0M138.9 561.9h0M145.9 573.3h0M144.8 529.9h0M145.0 508.7h0M146.9 570.0h0M149.1 552.9h0M96.8 553.2h0M132.6 580.4h0M104.8 558.7h0M154.5 540.1h0M142.9 560.2h0M150.7 493.3h0M108.9 584.1h0M150.7 525.9h0M103.8 507.4h0M142.3 538.1h0M145.0 564.4h0M136.9 545.7h0M108.7 568.3h0M152.4 549.2h0M96.8 500.5h0M147.7 550.6h0M107.8 551.8h0M142.4 570.7h0M138.5 551.1h0M143.9 583.8h0M143.1 563.6h0M145.0 525.9h0M152.3 571.8h0M101.3 543.7h0M118.5 576.9h0M106.2 522.7h0M106.6 535.7h0M97.5 498.7h0M142.0 557.0h0M138.8 566.9h0M99.2 514.4h0M136.7 576.3h0M101.3 489.7h0M98.3 564.3h0M100.3 563.8h0M100.4 533.9h0M110.2 557.8h0M102.1 567.5h0M95.7 554.1h0M101.7 507.6h0M154.9 569.3h0M151.0 546.1h0M114.0 586.5h0M152.0 531.0h0M100.0 549.1h0M96.0 516.5h0M138.9 569.9h0M102.9 511.0h0M143.7 581.1h0M139.0 587.1h0M138.6 549.1h0M106.0 545.8h0M102.6 529.7h0M145.1 546.0h0M140.5 560.5h0M107.4 540.1h0M140.9 560.8h0M104.4 530.1h0M149.0 565.6h0M97.3 539.6h0M150.1 557.4h0M96.4 548.3h0M102.8 535.9h0M96.2 576.6h0M108.6 585.4h0M100.7 571.1h0M144.4 543.0h0M110.3 565.3h0M139.7 583.4h0M151.8 544.1h0M138.4 560.6h0M109.0 581.2h0M138.3 548.5h0M151.8 563.2h0M144.0 518.4h0M128.7 585.7h0M147.0 573.5h0M106.9 537.3h0M138.0 583.6h0M134.8 582.5h0M136.4 590.3h0M135.4 574.2h0M104.6 523.9h0M107.9 553.2h0M101.4 576.1h0M138.2 567.4h0M146.0 554.1h0M146.1 557.5h0M111.3 545.8h0M96.0 540.7h0M146.9 548.3h0M101.2 506.0h0M148.4 580.0h0M143.9 576.2h0M119.2 571.5h0M143.9 524.1h0M117.5 582.8h0M151.0 514.1h0M141.8 539.4h0M114.3 581.8h0M148.7 579.6h0M103.4 533.4h0M155.0 539.4h0M142.8 515.9h0M122.4 593.4h0M152.4 543.4h0M107.4 553.3h0M98.6 542.3h0M145.4 507.6h0M145.4 521.7h0M118.2 562.6h0M132.4 587.4h0M101.4 503.3h0M131.1 581.1h0M147.9 511.7h0M150.9 524.1h0M150.0 524.2h0M96.1 555.2h0M109.5 547.5h0M152.4 497.3h0M110.1 530.5h0M143.4 573.6h0M111.5 533.4h0M151.3 575.1h0M145.6 545.5h0M99.1 554.1h0M104.6 578.8h0M130.0 580.3h0M143.3 531.6h0M144.4 568.3h0M95.3 486.1h0M101.1 498.9h0M154.2 554.3h0M148.5 565.1h0M102.5 497.4h0M113.6 583.3h0M104.8 582.2h0M140.3 584.2h0M135.3 585.2h0M147.6 544.0h0M122.2 591.8h0M115.7 565.1h0M142.2 528.5h0M137.1 579.6h0M108.1 554.6h0M151.5 538.9h0M110.6 563.0h0M101.4 532.3h0M141.3 575.9h0M117.8 580.1h0M150.6 512.3h0M112.5 539.4h0M96.7 488.6h0M139.0 584.5h0M153.8 567.7h0M151.9 515.7h0M117.1 582.1h0M99.4 530.2h0M154.1 543.4h0M98.5 575.6h0M148.5 565.8h0M142.0 539.9h0M144.4 557.6h0M99.3 525.8h0M134.4 567.4h0M97.9 534.2h0M97.3 502.6h0M112.0 539.4h0M109.2 572.2h0M133.5 583.0h0M115.3 566.6h0M113.3 566.4h0M137.4 558.0h0M138.6 551.5h0M141.4 555.9h0M124.6 591.1h0M141.4 568.1h0M135.3 569.7h0M138.9 570.7h0M113.9 552.4h0M101.0 551.7h0M101.0 563.9h0M115.0 555.1h0M107.1 541.3h0M145.3 556.7h0M108.0 581.0h0M117.2 580.6h0M106.0 564.1h0M142.6 524.7h0M131.7 583.2h0M137.2 565.6h0M135.1 571.4h0M154.1 572.0h0M111.7 580.8h0M104.2 529.0h0M101.0 517.0h0M146.8 579.7h0M152.6 552.3h0M131.2 583.1h0M143.4 536.1h0M143.9 557.7h0M127.9 592.5h0M146.7 510.1h0M100.2 506.7h0M150.6 540.3h0M150.6 561.5h0M97.7 578.4h0M103.1 543.5h0M120.4 588.5h0M97.8 507.8h0M109.6 537.6h0M148.6 531.1h0M114.9 556.1h0M102.7 542.9h0M147.9 507.6h0M140.7 557.6h0M138.9 569.7h0M141.7 574.5h0M102.3 569.1h0M101.6 504.3h0M150.4 513.8h0M129.5 579.4h0M96.3 504.5h0M117.2 565.5h0M96.2 485.3h0M112.4 536.9h0M114.6 588.3h0M143.0 536.4h0M118.5 566.2h0M146.6 581.3h0M138.1 537.7h0M139.1 587.0h0M143.7 511.6h0M151.1 517.8h0M101.2 521.3h0M109.0 552.4h0M152.3 554.3h0M131.6 581.7h0M97.3 580.0h0M149.2 530.6h0M104.6 562.6h0M105.2 571.4h0M103.1 568.7h0M140.8 544.7h0M118.1 561.4h0M107.6 573.3h0M137.8 541.0h0M99.4 562.9h0M110.1 558.9h0M112.0 551.9h0M134.4 581.4h0M97.9 574.9h0M144.5 521.7h0M102.3 513.2h0M113.0 583.0h0M153.9 514.5h0M136.1 560.1h0M111.6 584.7h0M106.4 540.6h0M151.0 564.4h0M105.1 516.2h0M101.9 573.7h0M109.7 530.8h0M123.3 590.4h0M114.3 577.6h0M103.0 558.5h0M146.2 508.6h0M119.7 576.1h0M134.7 555.4h0M103.3 574.9h0M119.4 579.7h0M143.2 584.6h0M141.1 528.0h0M142.4 523.4h0M102.3 563.4h0M127.5 583.0h0M114.3 577.3h0M115.6 555.1h0M148.1 551.1h0M136.8 544.7h0M146.9 499.7h0M117.0 561.1h0M100.3 571.1h0M143.8 528.9h0M101.4 578.2h0M95.9 565.8h0M141.9 576.4h0M104.6 529.1h0M152.8 496.8h0M104.2 553.0h0M134.1 590.0h0M110.9 539.1h0M145.5 525.1h0M102.7 552.0h0M102.8 542.3h0M154.3 490.3h0M108.5 567.7h0M96.6 561.1h0M98.6 529.0h0M144.1 534.0h0M105.8 561.4h0M131.1 581.5h0M145.8 553.0h0M149.7 554.1h0M113.5 573.5h0M153.1 521.2h0M151.9 562.4h0M110.5 549.3h0M99.5 507.7h0M150.7 528.4h0M154.0 503.4h0M145.7 544.0h0M96.7 527.8h0M129.7 577.2h0M150.5 540.2h0M106.3 543.7h0M138.0 579.0h0M107.8 586.2h0M136.9 582.1h0M108.6 540.2h0M154.3 554.7h0M105.0 544.9h0M137.2 554.8h0M143.0 572.4h0M101.3 516.5h0M101.5 501.4h0M117.4 579.5h0M139.5 564.4h0M147.2 570.0h0M99.2 557.0h0M121.1 592.3h0M110.2 555.2h0M148.1 532.5h0M97.4 557.9h0M145.0 510.7h0M127.1 593.2h0M115.6 551.6h0M120.3 581.6h0M100.8 489.3h0M146.6 580.5h0M154.1 543.3h0M140.2 567.1h0M114.7 552.6h0M121.3 579.5h0M155.0 533.0h0M141.2 553.2h0M113.9 580.1h0M98.2 505.1h0M132.1 569.7h0M132.3 567.0h0M111.4 576.9h0M147.1 515.8h0M151.1 574.0h0M111.1 531.4h0M98.8 557.5h0M149.7 522.8h0M142.3 549.4h0M102.8 581.6h0M124.8 594.9h0M110.8 547.4h0M110.8 564.9h0M96.4 489.9h0M124.8 595.3h0M102.6 532.4h0M128.9 580.9h0M141.3 574.0h0M116.0 570.4h0M145.1 547.5h0M151.3 562.8h0M109.2 547.5h0M103.4 560.6h0M140.3 569.2h0M109.7 577.1h0M99.9 551.5h0M148.4 512.8h0M100.5 568.0h0M154.4 498.5h0M108.2 523.9h0M142.1 567.8h0M151.6 539.2h0M113.7 582.4h0M105.5 539.6h0M112.1 551.3h0M95.6 578.9h0M107.6 549.1h0M153.1 540.2h0M144.9 553.5h0M130.1 587.3h0M139.9 548.5h0M133.8 559.9h0M150.3 549.1h0M108.6 561.5h0M102.2 569.1h0M142.9 586.2h0M104.3 533.0h0M98.2 575.0h0M147.6 523.2h0M147.0 576.6h0M101.7 562.4h0M150.5 504.3h0M152.4 520.6h0M109.6 578.4h0M103.7 505.0h0M151.5 479.2h0M99.4 546.6h0M103.5 531.8h0M101.5 538.1h0M106.4 560.4h0M131.8 583.7h0M140.2 542.2h0M150.7 567.5h0M147.8 567.0h0M99.8 546.6h0M153.5 550.9h0M101.1 522.4h0M145.0 508.4h0M102.7 495.7h0M131.1 580.7h0M108.2 579.3h0M101.9 495.5h0M95.6 519.1h0M100.0 582.2h0M153.0 522.3h0M109.5 524.3h0M146.5 549.1h0M154.4 515.0h0M106.1 522.2h0M112.5 563.4h0M110.1 586.7h0M146.5 509.9h0M136.2 575.5h0M101.4 568.3h0M150.6 525.7h0M150.3 536.5h0M124.5 595.4h0M116.4 570.7h0M140.9 584.7h0M97.1 507.2h0M97.4 538.6h0M145.3 519.7h0M97.9 580.0h0M149.4 526.9h0M105.1 506.4h0M147.1 514.2h0M143.6 584.6h0M115.7 577.5h0M99.1 525.3h0M152.4 517.7h0M147.7 582.4h0M129.8 572.7h0M115.1 576.8h0M123.0 589.9h0M147.3 527.1h0M151.3 533.5h0M154.2 527.6h0M149.3 533.5h0M137.8 537.6h0M111.8 542.6h0M138.1 566.8h0M104.7 534.6h0M134.7 587.3h0M113.6 584.9h0M136.9 579.4h0M96.6 551.3h0M149.6 513.1h0M139.7 561.9h0M145.2 527.2h0M110.5 543.8h0M116.9 586.0h0M147.7 509.1h0M110.7 567.5h0M135.4 552.6h0M151.4 481.8h0M101.5 550.3h0M99.7 532.3h0M98.4 488.9h0M148.9 554.4h0M95.8 497.3h0M134.5 586.3h0M106.9 515.5h0M98.9 524.8h0M139.5 575.8h0M152.0 505.2h0M105.9 553.0h0M142.1 559.0h0M98.9 554.3h0M146.5 528.4h0M104.0 531.7h0M143.1 541.1h0M134.2 577.2h0M110.8 542.4h0M140.5 540.7h0M152.3 571.6h0M103.2 526.4h0M97.6 510.2h0M113.2 541.0h0M112.7 538.0h0M100.4 581.5h0M104.0 572.5h0M106.2 512.1h0M109.3 564.7h0M106.2 577.5h0M121.7 584.1h0M100.5 497.9h0M107.8 579.5h0M147.6 517.9h0M120.7 577.3h0M100.0 534.2h0M107.4 572.3h0M102.0 535.9h0M151.6 546.3h0M148.1 522.5h0M116.0 559.8h0M145.6 547.9h0M139.3 575.1h0M129.1 593.5h0M96.6 575.0h0M154.6 512.3h0M126.5 594.0h0M152.6 533.9h0M145.3 535.6h0M108.2 544.4h0M99.7 522.3h0M105.7 508.5h0M152.2 553.0h0M144.5 509.9h0M123.1 583.4h0M145.7 584.6h0M148.1 567.3h0M103.3 500.5h0M136.6 581.6h0M140.8 527.1h0M116.4 583.4h0M100.8 527.6h0M143.6 535.1h0M146.7 572.1h0M138.8 539.0h0M108.6 534.7h0M137.6 550.0h0M107.6 576.4h0M146.2 530.4h0M97.8 561.4h0M131.0 581.5h0M100.6 526.4h0M131.6 572.6h0M141.1 560.6h0M135.2 574.4h0M145.5 575.4h0M154.3 549.4h0M152.5 570.3h0M102.7 550.5h0M100.3 536.2h0M145.8 574.1h0M105.4 555.1h0M108.4 570.9h0M141.2 523.3h0M144.8 584.7h0M146.0 531.6h0M133.1 565.6h0M136.9 544.4h0M103.6 557.7h0M138.1 554.1h0M140.1 586.5h0M107.6 566.4h0M148.9 549.8h0M151.1 516.0h0M102.0 530.1h0M132.5 586.5h0M152.7 523.3h0M145.9 507.6h0M107.6 536.6h0M99.9 563.5h0M147.3 563.2h0M151.1 548.7h0M111.1 582.3h0M144.6 564.2h0M152.6 510.0h0M99.8 490.5h0M115.6 579.6h0M129.0 578.7h0M109.7 535.7h0M148.5 579.4h0M154.7 517.7h0M148.1 508.6h0M154.6 504.4h0M146.1 582.1h0M99.0 535.3h0M148.6 560.1h0M111.7 572.4h0M150.3 579.8h0M154.7 557.3h0M99.2 564.2h0M125.3 593.8h0M110.4 536.0h0M136.1 576.2h0M102.6 554.0h0M100.7 580.3h0M101.4 494.7h0M97.8 494.1h0M134.2 557.8h0M144.4 585.4h0M100.9 514.0h0M104.0 511.6h0M135.5 566.5h0M147.4 516.0h0M95.5 529.9h0M148.0 530.6h0M102.4 563.0h0M114.0 551.0h0M155.0 503.0h0M104.8 516.2h0M152.7 548.3h0M141.2 573.5h0M107.3 552.7h0M105.9 535.5h0M103.1 513.2h0M136.3 554.3h0M96.7 489.8h0M147.9 558.6h0M98.3 559.9h0M103.9 520.9h0M140.1 573.0h0M128.3 585.5h0M106.5 573.7h0M153.4 575.6h0M103.7 547.5h0M143.5 583.2h0M142.5 527.0h0M143.1 553.2h0M141.0 570.6h0M112.0 569.0h0M136.2 570.8h0M97.8 514.8h0M141.3 533.8h0M97.2 526.6h0M118.9 567.8h0M148.3 538.0h0M145.9 579.8h0M142.0 546.8h0M116.0 581.4h0M148.6 511.9h0M140.4 578.8h0M154.9 522.3h0M131.0 571.7h0M100.7 506.6h0M135.2 563.5h0M99.7 542.8h0M99.9 531.3h0M142.9 580.9h0M115.8 569.3h0M104.0 568.0h0M151.4 525.1h0M152.3 541.8h0M120.3 592.8h0M102.1 557.8h0M100.8 535.2h0M98.1 572.9h0M99.7 526.1h0M153.8 506.4h0M110.6 540.5h0M129.0 584.3h0M139.4 547.5h0M137.9 570.5h0M106.8 573.6h0M97.3 497.1h0M141.8 576.8h0M100.2 529.6h0M106.0 524.0h0M153.3 563.7h0M112.0 573.8h0M149.1 549.9h0M147.7 524.6h0M137.9 539.0h0M97.8 515.3h0M154.8 550.6h0M142.5 534.4h0M122.8 587.8h0M118.0 578.6h0M121.3 588.1h0M131.6 566.9h0M95.9 551.3h0M154.8 552.7h0M142.8 533.6h0M102.3 567.3h0M96.0 533.6h0M151.0 544.4h0M140.4 530.1h0M97.8 571.4h0M103.6 562.0h0M142.6 553.2h0M109.5 556.6h0M146.1 582.8h0M102.6 565.0h0M103.1 559.6h0M140.4 536.0h0M110.5 571.5h0M98.2 534.3h0M103.6 501.3h0M145.5 511.1h0M152.7 522.5h0M143.4 553.0h0M130.9 567.6h0M100.0 501.8h0M102.7 525.1h0M111.1 562.6h0M147.7 517.6h0M138.3 555.1h0M98.8 516.0h0M96.3 579.4h0M96.3 525.7h0M126.7 595.2h0M99.4 512.9h0M145.6 514.7h0M151.6 509.6h0M150.1 581.0h0M144.5 555.3h0M150.4 495.7h0M140.5 546.3h0M98.7 527.6h0M139.3 547.5h0M111.4 559.6h0M120.0 592.3h0M97.0 564.6h0M105.7 534.4h0M100.3 512.7h0M151.4 551.3h0M146.2 566.6h0M144.7 539.3h0M117.6 566.6h0M98.5 561.5h0M151.1 560.0h0M154.1 579.4h0M108.7 574.1h0M102.0 556.5h0M103.3 541.1h0M133.8 579.0h0M148.3 578.0h0M99.3 517.6h0M96.6 502.6h0M153.3 549.6h0M154.1 536.4h0M146.5 545.1h0M153.4 500.3h0M152.4 528.5h0M143.4 533.2h0M131.5 591.4h0M155.0 504.4h0M140.4 542.5h0M149.7 573.3h0M141.5 547.5h0M139.6 557.7h0M135.9 549.0h0M142.1 533.3h0M148.9 529.4h0M148.6 546.9h0M154.4 546.4h0M142.6 525.0h0M133.7 557.9h0M108.4 564.0h0M146.3 514.6h0M106.3 527.3h0M114.7 562.5h0M139.6 550.1h0M117.7 591.7h0M145.7 526.0h0M148.9 520.4h0M95.8 516.9h0M145.0 579.0h0M145.8 556.5h0M101.6 561.9h0M105.5 559.2h0M135.3 587.4h0M150.7 508.4h0M119.8 588.7h0M100.5 551.2h0M113.3 544.4h0M119.3 569.2h0M106.5 535.4h0M141.6 581.1h0M108.5 566.6h0M113.4 554.2h0M142.7 545.9h0M100.7 545.9h0M98.4 508.5h0M139.8 562.5h0M99.9 525.7h0M141.6 580.9h0M101.2 509.1h0M147.5 555.1h0M110.4 531.9h0M115.2 575.0h0M133.4 568.0h0M96.9 578.5h0M105.7 527.4h0M96.0 529.0h0M110.4 584.1h0M98.6 576.6h0M119.3 574.6h0M114.6 586.6h0M104.1 504.7h0M146.1 547.7h0M107.5 577.9h0M150.9 556.7h0M101.6 549.6h0M142.5 520.5h0M151.0 548.2h0M106.8 583.7h0M99.3 527.0h0M139.2 541.6h0M106.2 541.8h0M148.7 554.7h0M96.7 511.7h0M135.2 583.8h0M105.3 514.7h0M127.9 590.2h0M102.3 514.4h0M140.0 539.3h0M150.7 518.9h0M98.0 580.9h0M134.7 570.9h0M155.0 512.7h0M136.9 585.1h0M117.2 574.7h0M138.8 568.8h0M151.3 582.2h0M107.2 516.5h0M106.3 535.5h0M145.3 517.6h0M109.8 553.5h0M122.3 589.1h0M100.1 491.0h0M107.1 555.6h0M99.8 555.5h0M155.0 524.0h0M97.8 578.7h0M135.5 579.2h0M131.0 580.7h0M136.9 572.9h0M105.7 551.6h0M96.8 508.4h0M101.0 520.1h0M138.0 543.2h0M143.6 562.1h0M149.3 556.1h0M152.5 522.1h0M108.2 529.9h0M103.9 574.1h0M100.4 554.0h0M96.5 575.5h0M146.2 578.6h0M153.1 545.3h0M145.9 583.2h0M148.6 511.0h0M138.1 539.8h0M151.6 571.3h0M144.0 544.6h0M140.2 563.3h0M137.7 559.7h0M109.5 541.5h0M140.0 532.0h0M98.6 551.6h0M117.1 572.6h0M148.2 555.4h0M98.8 570.5h0M147.9 520.0h0M140.4 546.5h0M104.9 552.3h0M101.8 514.9h0M113.1 572.1h0M120.0 587.4h0M143.7 563.3h0M121.9 591.8h0M143.6 528.3h0M112.6 574.1h0M101.6 567.5h0M112.1 549.7h0M101.3 523.2h0M132.6 563.2h0M99.4 550.5h0M144.2 540.8h0M97.7 513.8h0M136.3 581.5h0M150.6 508.2h0M105.8 527.2h0M154.7 498.1h0M145.6 507.8h0M119.8 581.2h0M121.7 591.9h0M113.0 582.7h0M112.6 568.8h0M106.5 510.7h0M145.2 513.1h0M95.9 544.5h0M141.2 579.1h0M138.6 581.6h0M153.6 501.2h0M137.1 544.1h0M152.0 540.3h0M103.9 580.1h0M136.4 578.7h0M98.1 522.1h0M100.1 505.2h0M144.8 531.6h0M112.7 588.0h0M117.8 578.0h0M152.2 499.5h0M154.3 540.5h0M104.6 533.4h0M142.3 564.1h0M153.4 568.9h0M111.7 544.0h0M150.6 575.6h0M96.8 540.1h0M136.1 562.7h0M119.3 587.5h0M114.2 572.3h0M133.9 581.8h0M143.9 542.9h0M154.0 557.0h0M118.6 577.0h0M96.1 498.5h0M99.2 579.8h0M147.3 531.5h0M141.3 537.4h0M140.1 530.8h0M139.7 533.3h0M101.4 524.3h0M150.9 565.1h0M141.7 563.5h0M138.0 560.1h0M109.9 556.9h0M138.8 549.2h0M130.6 577.3h0M135.3 568.6h0M149.7 540.9h0M115.9 571.5h0M109.9 533.8h0M103.9 565.7h0M137.8 563.0h0M103.7 543.7h0M103.0 513.5h0M137.9 567.9h0M140.8 540.5h0M103.6 507.7h0M111.2 575.1h0M140.9 541.0h0M104.5 566.7h0M104.7 525.0h0M150.7 507.0h0M100.9 562.5h0M147.4 559.7h0M149.2 490.4h0M103.7 542.3h0M145.2 556.4h0M107.9 563.0h0M133.2 573.9h0M120.4 579.2h0M101.5 506.1h0M111.5 564.5h0M108.5 536.9h0M97.9 580.7h0M120.1 577.0h0M150.9 521.0h0M144.8 526.2h0M121.3 575.4h0M141.5 566.2h0M146.3 524.2h0M103.4 529.9h0M141.5 567.4h0M104.1 520.6h0M150.6 570.3h0M98.0 527.8h0M149.9 563.4h0M113.3 571.4h0M117.1 580.8h0M100.5 567.5h0M98.7 519.7h0M153.5 504.5h0M149.4 561.0h0M108.1 546.2h0M141.4 523.2h0M150.2 540.9h0M143.3 523.7h0M151.4 540.1h0M144.3 510.0h0M112.4 582.2h0M106.2 562.4h0M106.7 523.6h0M114.1 568.5h0M147.8 549.1h0M128.3 591.9h0M128.6 592.5h0M153.5 549.2h0M142.4 574.5h0M108.8 538.7h0M101.0 530.2h0M116.3 566.3h0M101.2 525.8h0M105.4 560.1h0M113.1 548.7h0M144.0 529.7h0M106.3 568.8h0M100.6 559.8h0M97.7 543.2h0M129.6 581.2h0M140.5 538.6h0M102.5 526.4h0M117.4 567.4h0M98.3 543.8h0M114.3 585.0h0M148.8 583.2h0M98.7 532.2h0M112.5 543.5h0M113.5 573.1h0M101.4 512.5h0M137.8 571.0h0M131.5 590.1h0M98.5 531.6h0M150.6 506.5h0M110.8 579.0h0M118.8 584.9h0M141.4 545.1h0M148.4 546.5h0M96.7 569.8h0M112.4 545.8h0M124.1 592.5h0M150.5 528.6h0M147.6 511.7h0M98.7 556.4h0M108.3 587.2h0M147.1 511.4h0M147.5 577.5h0M132.9 566.3h0M149.4 494.6h0M114.5 551.3h0M143.0 559.8h0M105.1 563.4h0M106.9 582.2h0M144.4 532.0h0M102.9 565.1h0M134.7 565.2h0M141.9 571.1h0M143.6 566.9h0M95.9 564.9h0M100.4 502.0h0M144.8 508.3h0M151.7 538.6h0M101.1 521.6h0M117.8 561.2h0M143.8 514.7h0M112.3 557.0h0M153.1 509.0h0M142.0 541.7h0M118.9 589.0h0M153.2 530.6h0M134.2 576.4h0M108.1 536.2h0M118.3 569.0h0M114.0 582.5h0M154.4 547.0h0M138.4 537.7h0M119.1 567.2h0M104.4 536.0h0M133.6 582.3h0M100.0 568.9h0M150.0 549.5h0M115.0 549.4h0M138.5 534.5h0M102.2 536.2h0M112.9 574.6h0M154.1 568.7h0M95.7 523.9h0M136.9 547.4h0M147.0 560.4h0M103.1 503.0h0M110.9 581.8h0M143.8 582.0h0M136.4 573.5h0M137.5 588.9h0M142.2 567.2h0M137.5 547.0h0M108.8 557.5h0M111.6 571.8h0M147.6 547.8h0M135.9 575.9h0M154.0 552.4h0M143.1 584.6h0M99.6 515.3h0M142.4 567.5h0M126.9 593.4h0M111.8 559.2h0M143.7 547.1h0M99.1 548.7h0M133.2 577.9h0M100.0 559.6h0M101.8 516.9h0M116.3 559.3h0M152.9 540.9h0M100.6 531.8h0M102.9 544.0h0M125.8 590.6h0M141.1 582.8h0M117.9 568.0h0M150.4 566.2h0M138.4 541.5h0M143.5 586.4h0M144.3 558.8h0M143.2 522.4h0M120.1 577.8h0M117.5 563.2h0M100.9 563.9h0M133.7 578.2h0M107.6 578.6h0M153.1 549.3h0M149.1 508.6h0M149.2 561.1h0M153.9 579.0h0M149.2 530.9h0M103.3 502.6h0M148.1 553.3h0M110.6 548.8h0M146.0 513.8h0M124.6 593.7h0M141.0 543.3h0M109.5 546.9h0M135.6 575.3h0M95.3 552.5h0M104.2 574.1h0M105.6 582.9h0M100.3 532.3h0M145.6 521.2h0M103.0 515.9h0M100.2 577.8h0M95.8 528.7h0M105.9 560.5h0M103.9 510.5h0M143.5 538.9h0M144.3 509.1h0M139.2 554.6h0M98.5 538.8h0M150.0 526.0h0M152.4 502.4h0M103.7 562.3h0M105.5 512.6h0M101.9 533.2h0M111.8 545.0h0M132.2 588.1h0M148.8 506.7h0M148.5 501.4h0M118.4 569.1h0M140.5 579.2h0M107.3 569.5h0M139.9 564.0h0M148.5 543.7h0M106.8 543.2h0M96.6 543.1h0M117.9 590.8h0M146.7 542.5h0M146.6 504.0h0M140.5 539.8h0M146.1 559.5h0M153.3 565.1h0M146.0 512.7h0M150.4 557.8h0M148.2 507.5h0M106.8 530.2h0M113.4 565.4h0M145.7 572.7h0M141.1 570.9h0M102.8 522.2h0M99.3 510.2h0M139.8 547.6h0M135.0 551.6h0M99.6 513.7h0M98.8 565.5h0M98.1 573.9h0M140.0 561.9h0M154.3 560.4h0M150.5 528.6h0M106.5 584.8h0M114.2 560.3h0M126.7 591.3h0M149.2 493.4h0M133.6 591.7h0M154.0 507.5h0M148.6 520.3h0M96.1 571.2h0M99.4 522.1h0M106.7 549.7h0M142.8 553.7h0M151.4 553.2h0M132.8 563.4h0M138.6 559.9h0M144.9 578.0h0M105.6 568.9h0M109.3 533.0h0M95.5 551.2h0M142.9 568.9h0M119.2 589.6h0M101.6 513.3h0M144.5 509.8h0M146.9 511.6h0M104.9 565.9h0M100.4 581.7h0M145.2 571.4h0M130.6 570.8h0M99.1 567.9h0M96.8 493.7h0M104.2 581.2h0M97.5 567.5h0M111.1 580.9h0M103.5 527.7h0M143.8 523.6h0M116.4 579.1h0M105.8 564.9h0M155.0 534.9h0M113.4 581.3h0M105.7 532.3h0M110.4 545.2h0M111.5 564.3h0M102.6 554.0h0M141.4 569.8h0M111.5 578.4h0M108.8 579.1h0M105.1 580.2h0M150.0 528.4h0M102.7 520.0h0M111.5 566.1h0M113.4 545.6h0M146.8 576.1h0M146.5 540.5h0M142.7 545.8h0M152.5 502.1h0M116.2 558.1h0M148.5 540.7h0M107.4 574.7h0M105.5 557.5h0M122.8 591.2h0M98.5 534.9h0M149.5 513.2h0M115.1 579.1h0M140.7 527.6h0M143.6 540.0h0M99.5 535.8h0M98.3 547.6h0M136.7 546.8h0M98.3 577.0h0M113.1 575.1h0M150.8 570.0h0M109.5 577.6h0M107.7 567.2h0M135.0 565.4h0M111.2 542.8h0M135.6 589.5h0M114.5 588.9h0M104.6 577.6h0M107.7 553.9h0M101.4 517.9h0M107.2 531.2h0M97.8 508.2h0M112.7 585.1h0M145.8 564.4h0M151.3 536.9h0M137.6 567.4h0M150.5 527.1h0M111.7 573.1h0M151.5 551.2h0M117.0 566.4h0M107.0 531.6h0M150.2 523.6h0M109.6 536.7h0M101.7 577.8h0M115.9 585.7h0M116.0 566.3h0M143.9 547.5h0M109.0 560.4h0M150.2 576.3h0M110.8 583.2h0M106.6 546.9h0M130.6 577.3h0M117.8 577.6h0M114.5 557.9h0M133.3 589.6h0M135.7 559.3h0M107.8 580.9h0M112.9 556.7h0M140.6 551.2h0M115.3 565.2h0M146.7 539.3h0M146.2 534.1h0M98.1 538.3h0M107.6 585.1h0M105.9 585.7h0M106.5 512.5h0M105.5 540.6h0M104.2 584.1h0M116.5 586.6h0M131.5 570.2h0M146.2 574.6h0M107.1 532.4h0M107.5 531.7h0M105.2 521.3h0M152.0 536.4h0M115.2 573.3h0M150.2 519.2h0M148.1 577.2h0M142.5 580.8h0M103.2 580.4h0M106.6 565.0h0M155.0 521.5h0M112.5 538.2h0M103.4 534.9h0M96.0 537.5h0M122.8 593.9h0M104.3 532.5h0M98.5 554.7h0M116.1 582.6h0M131.2 567.9h0M96.1 532.8h0M134.9 567.4h0M105.3 533.0h0M152.5 568.0h0M120.8 580.5h0M151.1 531.7h0M146.5 561.3h0M96.4 574.7h0M146.0 564.6h0M151.8 538.0h0M149.1 555.8h0M148.7 555.8h0M136.2 575.7h0M133.5 557.7h0M154.8 511.7h0M102.2 501.3h0M96.3 537.6h0M101.2 515.4h0M151.2 523.2h0M132.3 562.4h0M104.5 554.5h0M97.3 570.3h0M140.8 577.8h0M107.6 529.6h0M136.4 556.0h0M107.6 579.9h0M143.0 565.4h0M112.2 537.6h0M148.3 505.7h0M106.3 511.3h0M142.9 543.9h0M139.6 558.7h0M99.1 530.8h0M99.8 538.0h0M146.3 522.8h0M111.2 568.9h0M149.4 574.0h0M117.8 572.2h0M106.9 555.2h0M97.3 530.3h0M115.9 581.1h0M133.1 587.8h0M98.2 529.3h0M109.0 552.2h0M138.2 545.6h0M95.4 500.4h0M137.4 542.8h0M114.6 580.9h0M141.3 576.4h0M107.5 515.2h0M150.8 516.0h0M141.1 552.1h0M149.7 497.6h0M113.9 582.1h0M153.3 567.7h0M148.9 553.6h0M106.7 522.8h0M132.2 582.9h0M113.8 581.6h0M135.9 563.0h0M152.2 528.0h0M96.5 507.1h0M141.2 532.8h0M112.1 575.6h0M99.8 527.3h0M127.0 585.7h0M104.3 529.6h0M103.5 582.4h0M142.5 554.5h0M102.9 535.5h0M149.0 525.1h0M108.3 572.2h0M109.5 557.9h0M97.0 554.8h0M124.2 594.2h0M121.6 581.1h0M150.1 581.2h0M98.5 558.1h0M129.4 587.4h0M106.6 524.1h0M106.9 513.6h0M95.9 549.8h0M150.8 512.6h0M142.8 579.3h0M148.3 533.8h0M117.1 567.2h0M110.4 578.7h0M148.6 583.7h0M147.3 526.0h0M154.3 540.1h0M148.0 567.4h0M148.1 553.6h0M151.2 523.0h0M116.8 562.5h0M109.3 582.7h0M113.2 555.6h0M104.7 508.1h0M139.8 574.3h0M147.9 556.3h0M100.9 576.7h0M107.5 579.0h0M140.4 586.4h0M105.7 572.5h0M114.1 552.9h0M100.7 546.9h0M153.0 518.0h0M134.3 571.4h0M144.2 570.4h0M99.9 520.3h0M101.0 489.5h0M112.4 577.4h0M117.9 574.9h0M100.1 528.1h0M149.4 504.0h0M113.5 586.3h0M108.6 532.5h0M98.6 534.8h0M149.5 527.7h0M154.4 576.9h0M141.3 526.2h0M114.5 579.7h0M154.4 571.2h0M115.4 580.6h0M98.9 541.8h0M99.1 512.7h0M133.2 569.7h0M106.0 545.6h0M99.0 506.3h0M101.5 548.0h0M145.3 571.5h0M138.1 541.4h0M105.3 537.3h0M148.1 535.7h0M101.7 508.7h0M98.5 574.5h0M146.2 575.9h0M150.3 577.1h0M138.4 536.2h0M148.2 501.1h0M138.1 583.4h0M104.3 566.9h0M139.8 554.8h0M100.7 566.2h0M130.8 593.0h0M97.6 542.0h0M133.1 568.7h0M137.8 586.2h0M98.6 483.6h0M132.4 585.3h0M147.4 534.0h0M98.4 510.2h0M117.9 561.0h0M103.7 513.5h0M140.2 532.2h0M104.9 561.8h0M102.8 516.6h0M111.6 534.5h0M128.1 593.4h0M101.9 570.4h0M100.5 575.2h0M154.3 574.8h0M143.2 521.6h0M101.1 532.2h0M106.6 541.2h0M104.9 559.4h0M153.3 516.3h0M106.4 518.7h0M110.1 586.3h0M134.7 581.5h0M103.7 510.0h0M140.1 577.7h0M96.5 503.4h0M96.0 576.7h0M98.1 544.3h0M114.5 571.4h0M144.1 582.5h0M133.1 577.6h0M134.4 579.4h0M111.2 538.7h0M128.1 581.0h0M118.0 587.8h0M154.7 538.3h0M103.6 576.4h0M143.6 569.6h0M108.9 543.7h0M138.7 576.7h0M106.5 569.1h0M98.9 533.7h0M98.5 570.6h0M106.5 547.2h0M113.3 557.3h0M99.5 549.1h0M142.2 526.7h0M148.8 517.7h0M145.3 538.9h0M103.6 567.4h0M106.1 516.5h0M130.6 590.8h0M113.1 551.0h0M143.3 549.9h0M150.0 534.3h0M147.2 579.4h0M119.5 591.4h0M153.4 546.9h0M113.6 578.3h0M135.3 582.0h0M133.8 571.6h0M97.5 575.3h0M103.2 548.5h0M118.2 565.6h0M152.6 563.6h0M107.4 546.0h0M154.1 538.3h0M146.2 538.1h0M149.1 506.6h0M98.4 534.4h0M98.0 557.9h0M107.1 574.7h0M104.7 527.6h0M102.2 533.3h0M106.8 586.6h0M145.3 511.0h0M105.6 534.0h0M149.1 557.7h0M98.1 515.5h0M150.3 496.9h0M96.0 508.0h0M108.7 563.2h0M133.4 577.3h0M140.4 542.7h0M136.9 553.5h0M114.1 574.4h0M151.4 559.5h0M96.8 508.5h0M144.3 511.5h0M136.1 554.2h0M106.9 513.1h0M129.3 589.7h0M104.9 541.3h0M100.6 529.4h0M99.3 520.3h0M154.7 519.1h0M154.2 566.3h0M108.5 554.4h0M109.3 575.5h0M110.5 532.4h0M97.6 498.9h0M146.8 578.7h0M110.5 557.3h0M150.1 488.4h0M123.5 588.6h0M109.3 577.9h0M102.2 578.7h0M114.4 589.3h0M109.7 531.4h0M129.1 580.8h0M98.6 557.7h0M113.2 541.4h0M136.6 588.8h0M96.7 554.2h0M117.7 574.6h0M100.1 542.8h0M152.0 509.4h0M135.4 558.1h0M111.6 548.5h0M143.8 520.4h0M105.8 549.2h0M104.7 570.7h0M140.5 551.1h0M106.7 559.6h0M134.1 556.6h0M142.8 548.1h0M112.7 569.5h0M114.8 582.4h0M106.7 529.1h0M114.9 582.1h0M98.7 558.3h0M110.8 547.8h0M149.2 515.5h0M96.8 565.0h0M109.7 570.1h0M142.8 529.5h0M113.2 576.4h0M106.5 522.0h0M146.8 499.7h0M104.0 576.1h0M97.2 512.4h0M102.4 571.3h0M108.9 584.9h0M146.6 521.2h0M116.9 568.0h0M152.9 547.0h0M139.3 549.8h0M100.6 576.0h0M142.9 556.7h0M137.3 541.5h0M137.8 559.6h0M100.5 511.4h0M110.6 569.9h0M148.6 507.6h0M103.0 558.0h0M131.3 569.2h0M117.3 591.5h0M140.9 568.1h0M141.8 524.4h0M103.7 540.5h0M107.3 518.6h0M105.6 576.5h0M149.0 581.6h0M97.1 563.9h0M152.7 559.6h0M103.6 579.2h0M152.2 543.3h0M97.9 548.6h0M146.3 541.0h0M98.9 564.2h0M108.8 551.4h0M136.8 586.2h0M135.7 567.7h0M136.2 577.9h0M122.7 584.9h0M100.8 511.3h0M152.1 559.0h0M105.9 576.0h0M137.3 589.3h0M113.0 544.7h0M139.6 557.1h0M108.6 536.3h0M104.0 525.2h0M102.0 551.7h0M105.6 533.2h0M148.0 538.8h0M154.0 530.6h0M98.7 574.8h0M118.4 586.6h0M148.5 566.3h0M109.4 554.2h0M109.7 528.4h0M112.1 580.5h0M137.0 562.6h0M152.1 544.5h0M149.2 548.9h0M139.2 553.8h0M154.8 557.8h0M112.4 543.4h0M106.6 526.9h0M148.0 562.9h0M154.0 541.9h0M120.7 581.0h0M151.4 536.1h0M113.4 579.3h0M130.1 571.6h0M153.2 535.1h0M153.4 538.9h0M96.3 537.3h0M105.0 547.3h0M108.6 540.8h0M150.4 565.9h0M95.5 507.1h0M144.6 526.6h0M137.3 580.0h0M115.4 556.2h0M100.1 493.3h0M95.8 530.9h0M96.6 526.8h0M95.7 557.4h0M114.9 579.8h0M122.5 584.8h0M104.4 529.6h0M106.0 529.8h0M135.4 577.9h0M104.4 554.0h0M144.5 511.8h0M100.6 545.2h0M104.0 518.4h0M100.0 537.0h0M120.1 574.0h0M107.6 571.6h0M101.2 530.7h0M118.3 580.0h0M145.7 517.6h0M143.9 530.7h0M101.9 545.0h0M118.6 590.4h0M97.2 549.7h0M153.7 564.0h0M150.4 546.9h0M153.0 539.9h0M114.1 577.3h0M108.9 570.9h0M140.2 559.3h0M108.8 559.9h0M100.1 571.0h0M144.9 537.5h0M144.3 572.2h0M142.0 584.6h0M146.1 508.2h0M147.5 557.3h0M106.1 564.8h0M136.4 564.7h0M152.8 567.6h0M155.1 555.2h0M144.4 523.4h0M104.6 565.8h0M113.4 568.8h0M147.3 581.7h0M96.2 493.3h0M95.3 567.2h0M100.5 562.9h0M108.6 523.8h0M111.0 532.4h0M106.5 552.3h0M120.3 584.5h0M113.9 551.3h0M103.3 584.6h0M148.3 499.7h0M149.6 545.0h0M105.5 584.2h0M100.4 540.4h0M100.1 568.6h0M151.7 555.2h0M149.6 534.3h0M100.5 577.3h0M140.1 566.1h0M153.8 547.7h0M136.4 569.6h0M107.0 539.1h0M150.9 539.1h0M150.3 508.2h0M106.6 512.5h0M106.6 537.4h0M104.3 543.4h0M153.2 520.2h0M112.3 568.9h0M147.5 534.0h0M98.0 532.9h0M100.7 570.4h0M103.0 534.5h0M120.4 573.1h0M99.5 499.6h0M140.9 544.9h0M151.7 557.3h0M114.4 588.2h0M104.1 559.3h0M97.0 532.8h0M146.1 504.7h0M153.9 557.2h0M114.3 562.1h0M102.7 533.5h0M146.9 534.3h0M107.3 520.7h0M133.7 581.2h0M122.0 588.7h0M127.6 583.4h0M143.6 557.9h0M152.4 554.2h0M103.9 511.1h0M111.1 585.3h0M109.5 568.1h0M104.8 543.1h0M146.4 577.8h0M149.2 553.8h0M112.0 543.2h0M152.5 536.6h0M139.1 532.9h0M98.6 513.8h0M136.6 578.7h0M110.4 582.2h0M104.4 537.9h0M111.9 564.0h0M138.1 541.4h0M116.3 581.1h0M145.0 575.0h0M150.6 552.4h0M104.4 507.6h0M153.2 517.3h0M148.4 538.4h0M112.0 575.6h0M146.3 526.0h0M152.9 520.1h0M110.7 580.3h0M149.1 563.8h0M105.2 529.0h0M98.1 497.0h0M100.7 556.9h0M109.8 557.5h0M120.9 578.0h0M115.3 552.2h0M154.5 544.9h0M143.0 531.6h0M138.3 575.9h0M111.0 544.9h0M141.9 563.0h0M112.6 561.2h0M146.8 568.7h0M96.2 546.3h0M100.3 537.3h0M103.0 537.7h0M105.3 539.5h0M107.8 539.7h0M117.5 585.2h0M118.2 572.2h0M130.5 580.6h0M105.3 542.9h0M155.0 547.3h0M153.1 510.7h0M133.6 586.5h0M140.5 541.0h0M109.0 553.1h0M101.9 562.7h0M104.0 576.3h0M153.5 514.6h0M130.7 572.8h0M108.7 555.1h0M110.0 558.3h0M108.7 552.3h0M138.9 560.4h0M96.9 523.5h0M114.0 569.2h0M97.9 527.0h0M141.4 536.2h0M140.0 585.2h0M134.0 580.8h0M120.7 579.3h0M113.3 589.1h0M127.6 584.1h0M147.1 515.3h0M109.9 572.2h0M102.9 532.4h0M143.0 541.4h0M124.8 593.8h0M96.7 526.0h0M97.4 517.2h0M136.6 567.5h0M155.1 535.8h0M112.0 549.3h0M131.0 587.3h0M149.4 497.5h0M105.9 543.7h0M139.9 552.5h0M111.3 585.0h0M107.2 555.2h0M114.4 579.9h0M130.8 576.2h0M108.2 550.1h0M149.4 511.0h0M122.6 582.5h0M95.7 504.3h0M110.5 570.5h0M129.6 593.0h0M113.1 539.9h0M144.7 564.6h0M131.3 581.2h0M143.8 571.7h0M106.5 568.1h0M105.8 557.0h0M132.8 573.3h0M99.2 557.0h0M111.2 586.5h0M129.4 576.1h0M151.4 555.5h0M132.9 591.4h0M111.7 548.4h0M106.4 567.7h0M96.6 544.9h0M102.3 566.2h0M97.7 526.7h0M143.3 565.6h0M121.2 577.2h0M105.7 558.3h0M128.9 588.2h0M113.9 577.1h0M145.2 546.2h0M115.0 571.3h0M136.5 588.1h0M134.1 566.7h0M106.5 517.9h0M118.6 588.5h0M109.9 578.9h0M155.1 554.7h0M154.5 567.0h0M97.1 513.7h0M101.9 573.4h0M103.0 577.9h0M97.8 541.6h0M100.9 506.9h0M97.9 542.9h0M104.2 535.1h0M116.3 587.1h0M144.1 530.1h0M141.8 532.7h0M136.6 572.6h0M148.3 544.0h0M140.8 574.1h0M106.2 534.0h0M96.2 540.8h0M102.9 570.6h0M95.4 540.2h0M101.3 548.2h0M135.5 578.5h0M146.1 548.2h0M151.9 550.1h0M119.1 569.3h0M153.6 572.6h0M100.3 546.1h0M140.6 568.2h0M116.8 566.5h0M106.5 534.9h0M141.4 551.8h0M102.8 510.3h0M149.6 548.8h0M146.5 554.0h0M109.7 549.2h0M154.4 553.1h0M132.2 566.4h0M146.6 503.1h0M115.1 587.3h0M143.7 541.6h0M134.4 591.1h0M151.4 559.9h0M107.2 534.2h0M138.3 572.4h0M142.9 554.6h0M142.8 542.2h0M146.0 573.7h0M151.8 506.1h0M110.2 569.5h0M114.0 568.7h0M153.4 529.0h0M113.8 553.7h0M154.4 522.0h0M154.6 555.7h0M116.0 556.9h0M151.9 553.3h0M96.8 513.6h0M95.4 530.2h0M114.7 589.5h0M104.8 553.9h0M128.6 589.8h0M135.1 550.9h0M131.6 573.6h0M116.7 561.8h0M134.4 556.5h0M116.1 568.6h0M105.6 565.9h0M103.7 546.0h0M141.0 528.5h0M130.4 589.7h0M150.9 568.7h0M140.0 556.9h0M102.6 508.6h0M110.8 584.4h0M102.2 583.6h0M151.9 547.3h0M143.1 569.4h0M132.5 567.6h0M109.2 548.5h0M103.8 576.4h0M111.6 542.9h0M149.8 542.2h0M111.6 584.9h0M142.8 532.7h0M101.9 530.0h0M96.6 505.6h0M95.5 539.6h0M114.7 575.9h0M111.7 566.9h0M122.1 585.2h0M143.1 565.4h0M120.2 590.0h0M97.1 489.7h0M111.6 552.1h0M134.3 561.0h0M103.3 513.1h0M153.7 570.1h0M118.9 577.0h0M149.1 521.6h0M147.6 512.7h0M101.0 529.2h0M100.8 516.1h0M142.7 547.2h0M145.7 509.1h0M116.2 588.7h0M135.8 567.4h0M115.7 563.2h0M145.1 538.2h0M128.2 580.8h0M102.7 552.9h0M97.3 500.9h0M139.5 560.2h0M114.0 543.9h0M98.6 542.7h0M102.1 511.6h0M115.2 554.5h0M108.3 564.1h0M131.1 574.2h0M148.4 557.7h0M98.0 559.3h0M139.5 566.8h0M114.4 549.4h0M105.0 516.0h0M144.4 566.8h0M107.1 522.3h0M152.2 553.3h0M129.5 591.1h0M144.6 581.7h0M111.2 538.0h0M139.7 574.9h0M150.5 530.2h0M144.1 519.2h0M150.8 548.0h0M150.5 495.4h0M115.5 560.9h0M106.7 574.1h0M127.1 588.8h0M119.5 570.0h0M146.7 525.7h0M96.3 489.1h0M95.7 524.3h0M154.2 514.3h0M147.8 562.7h0M121.1 581.9h0M114.1 568.9h0M148.8 521.8h0M140.7 557.5h0M105.0 556.0h0M103.6 499.0h0M133.7 568.1h0M103.1 498.3h0M154.2 496.7h0M151.8 575.5h0M133.5 576.6h0M153.2 535.6h0M151.1 485.1h0M106.6 547.1h0M145.1 580.5h0M113.9 589.1h0M143.8 554.8h0M154.6 580.7h0M100.2 532.5h0M96.8 572.9h0M110.0 540.9h0M144.4 511.9h0M109.4 546.7h0M141.2 525.4h0M101.7 550.2h0M96.7 538.1h0M109.1 557.6h0M103.1 541.6h0M138.8 561.8h0M103.1 526.5h0M145.1 567.3h0M141.1 549.7h0M143.5 521.1h0M149.5 534.9h0M154.4 581.0h0M109.0 534.5h0M150.8 545.6h0M107.7 529.5h0M114.1 585.8h0M143.6 538.2h0M145.7 582.5h0M115.5 580.9h0M145.9 539.2h0M131.5 589.3h0M137.4 565.9h0M154.2 554.1h0M115.8 588.5h0M97.6 480.2h0M132.0 578.8h0M106.8 555.3h0M97.3 552.5h0M112.2 554.5h0M145.4 525.1h0M155.1 556.9h0M99.4 499.4h0M144.2 548.7h0M144.0 583.1h0M146.0 553.3h0M152.1 564.9h0M100.9 502.9h0M142.9 545.6h0M136.1 569.1h0M150.8 501.5h0M104.3 543.5h0M101.6 537.8h0M96.0 541.0h0M106.9 544.0h0M113.6 553.5h0M112.8 560.6h0M140.8 584.1h0M154.7 577.4h0M149.8 576.0h0M151.5 531.3h0M102.7 526.7h0M145.4 533.1h0M107.1 569.0h0M107.7 543.0h0M137.5 582.7h0M107.8 534.7h0M141.5 560.8h0M139.5 566.7h0M128.2 592.5h0M102.7 548.6h0M150.4 546.8h0M148.9 558.7h0M139.9 576.1h0M139.8 576.2h0M153.1 557.2h0M146.4 574.9h0M154.3 527.8h0M99.0 537.3h0M95.4 556.9h0M112.3 542.4h0M112.3 571.4h0M108.6 533.7h0M148.1 568.3h0M152.8 511.9h0M106.9 515.9h0M116.8 574.6h0M103.2 582.6h0M97.1 570.5h0M95.4 528.4h0M154.2 576.5h0M139.1 582.3h0M95.9 493.1h0M97.7 534.5h0M117.4 583.5h0M120.2 578.1h0M114.5 581.6h0M147.6 505.8h0M154.8 573.8h0M113.0 543.1h0M142.0 576.2h0M137.8 565.9h0M139.3 532.3h0M100.9 582.5h0M97.9 559.7h0M148.5 526.2h0M143.9 548.9h0M134.1 568.2h0M108.9 562.0h0M131.1 590.6h0M142.7 582.3h0M107.6 578.8h0M149.6 505.6h0M112.8 585.3h0M145.9 526.1h0M152.1 564.0h0M102.0 513.4h0M98.1 485.0h0M143.3 563.1h0M126.9 588.9h0M107.0 575.8h0M115.2 554.8h0M99.5 514.6h0M141.6 525.6h0M129.3 588.5h0M119.8 589.2h0M99.3 565.9h0M96.8 565.6h0M107.1 550.9h0M117.2 579.2h0M136.3 549.7h0M121.2 576.1h0M153.3 560.6h0M103.6 548.7h0M114.3 571.8h0M137.0 541.3h0M95.6 570.3h0M102.4 561.9h0M99.8 495.7h0M127.3 594.7h0M105.1 540.7h0M141.5 554.1h0M140.3 550.3h0M141.9 531.6h0M105.9 532.7h0M116.0 588.0h0M141.9 570.9h0M105.2 578.6h0M97.5 559.4h0M152.6 555.3h0M142.4 557.8h0M109.0 537.6h0M142.4 532.8h0M95.6 537.1h0M148.9 574.6h0M115.0 573.9h0M96.8 557.3h0M108.3 536.0h0M142.3 524.8h0M153.3 531.9h0M153.1 518.5h0M115.7 573.2h0M151.2 499.4h0M96.3 557.6h0M120.6 584.1h0M107.5 529.3h0M113.4 566.3h0M107.9 586.3h0M135.9 584.9h0M105.1 579.2h0M113.9 545.2h0M152.4 554.4h0M98.8 559.0h0M136.6 584.3h0M147.8 512.7h0M150.7 568.8h0M100.4 537.9h0M146.6 518.1h0M97.0 548.7h0M154.8 566.6h0M147.0 561.9h0M118.3 581.3h0M111.1 536.4h0M151.7 550.7h0M99.4 502.2h0M116.7 555.7h0M105.8 560.8h0M119.0 578.5h0M151.4 480.4h0M105.4 513.3h0M155.2 504.5h0M147.3 525.5h0M147.6 551.1h0M144.7 540.9h0M145.7 511.6h0M96.9 495.3h0M147.1 562.7h0M106.8 533.2h0M98.8 485.5h0M97.3 558.0h0M112.3 570.3h0M147.4 525.8h0M114.5 558.4h0M104.7 538.7h0M117.2 590.0h0M148.2 557.4h0M101.7 556.2h0M145.5 564.4h0M144.9 571.4h0M148.9 546.4h0M98.8 549.9h0M143.3 533.4h0M152.3 576.2h0M139.2 545.5h0M108.0 553.4h0M142.7 545.2h0M97.3 491.1h0M130.1 588.8h0M108.5 587.5h0M105.5 556.4h0M98.7 560.2h0M135.9 552.5h0M109.3 530.4h0M151.6 515.0h0M144.7 575.3h0M99.1 537.7h0M109.8 526.8h0M101.4 491.4h0M132.2 567.2h0M113.8 586.3h0M107.1 568.0h0M102.5 518.6h0M148.1 526.7h0M113.5 547.4h0M141.7 544.0h0M147.6 580.7h0M114.0 573.4h0M142.5 574.7h0M142.9 528.3h0M150.3 544.1h0M141.5 541.4h0M98.5 529.8h0M146.0 579.7h0M99.9 533.0h0M114.4 562.3h0M149.6 517.8h0M128.6 584.7h0M109.0 558.9h0M153.6 543.2h0M110.7 567.0h0M97.4 538.7h0M151.0 503.6h0M144.5 556.2h0M110.2 562.5h0M143.9 535.3h0M143.1 527.3h0M96.7 512.0h0M144.7 563.6h0M139.9 551.2h0M129.6 583.9h0M106.2 579.5h0M149.8 551.5h0M136.9 584.9h0M102.1 504.4h0M144.0 544.5h0M148.3 582.3h0M97.0 527.1h0M104.6 570.4h0M148.6 524.8h0M149.2 583.1h0M98.9 567.4h0M105.5 571.1h0M147.9 579.3h0M144.3 526.0h0M119.0 584.4h0M111.5 584.2h0M109.1 570.6h0M148.2 570.2h0M108.7 529.2h0M139.9 542.5h0M106.2 569.2h0M95.9 551.2h0M99.7 557.5h0M102.5 534.9h0M143.0 550.8h0M127.4 585.0h0M117.3 565.8h0M107.8 568.3h0M148.8 531.3h0M151.9 504.1h0M99.8 489.5h0M149.5 555.9h0M135.3 566.5h0M98.4 553.7h0M114.1 578.3h0M147.4 537.6h0M151.7 560.4h0M96.2 544.3h0M101.9 557.8h0M120.4 579.0h0M105.3 551.7h0M147.3 508.3h0M147.1 566.3h0M116.1 563.9h0M101.2 547.0h0M141.3 574.9h0M138.4 538.7h0M148.4 571.0h0M131.7 574.3h0M148.1 573.9h0M97.1 566.2h0M100.2 533.5h0M138.7 575.2h0M106.9 516.1h0M114.0 556.1h0M120.9 582.0h0M138.0 574.4h0M96.0 567.2h0M154.1 568.8h0M149.5 557.8h0M147.9 538.4h0M142.7 587.0h0M98.0 559.3h0M95.7 506.5h0M99.9 568.4h0M144.6 546.5h0M97.3 505.9h0M153.2 555.8h0M146.8 537.4h0M152.5 527.1h0M106.4 546.2h0M105.8 551.7h0M153.9 536.7h0M99.8 520.7h0M151.5 519.4h0M109.8 568.8h0M143.5 562.1h0M151.0 541.4h0M101.2 503.6h0M127.8 590.6h0M114.4 563.8h0M111.9 550.6h0M111.8 549.4h0M136.2 566.2h0M134.4 557.1h0M149.6 576.6h0M135.6 566.2h0M115.6 559.7h0M107.7 518.8h0M102.0 566.6h0M100.7 508.6h0M141.8 550.2h0M103.5 572.5h0M151.0 567.8h0M138.0 546.5h0M114.4 567.8h0M102.9 577.1h0M146.2 562.7h0M98.7 570.8h0M140.0 587.7h0M109.8 575.2h0M153.2 551.7h0M145.2 558.1h0M142.1 557.1h0M141.6 581.0h0M134.9 574.7h0M127.8 591.0h0M107.5 532.7h0M103.3 530.5h0M153.0 564.0h0M96.7 507.6h0M116.1 558.2h0M143.5 525.8h0M95.9 534.8h0M149.4 534.2h0M112.2 574.7h0M106.7 559.6h0M137.7 563.4h0M144.8 538.6h0M122.6 591.5h0M113.8 584.0h0M147.4 545.2h0M134.1 558.0h0M102.8 568.0h0M141.2 527.5h0M106.8 572.5h0M101.7 579.4h0M143.7 568.0h0M96.6 522.0h0M111.3 538.5h0M101.9 523.0h0M117.7 590.0h0M133.3 590.3h0M146.9 512.2h0M140.9 560.1h0M151.6 521.7h0M145.8 515.8h0M112.2 540.8h0M115.7 556.8h0M150.0 516.5h0M101.8 573.2h0M117.7 570.8h0M104.4 530.5h0M97.5 521.2h0M109.3 560.9h0M116.8 563.5h0M96.6 490.7h0M114.1 552.2h0M151.0 562.3h0M103.9 573.6h0M137.0 552.1h0M104.8 567.2h0M132.2 566.0h0M98.2 496.1h0M152.5 506.5h0M115.9 572.4h0M115.3 585.3h0M150.4 518.3h0M137.6 554.8h0M96.6 544.6h0M139.5 565.2h0M142.0 568.9h0M137.9 589.4h0M143.2 551.6h0M136.5 586.9h0M104.0 542.3h0M152.8 552.6h0M153.4 539.5h0M143.7 534.7h0M139.8 573.5h0M117.3 573.7h0M118.0 582.5h0M149.4 541.5h0M148.4 527.8h0M101.4 557.4h0M117.7 572.1h0M109.1 533.3h0M150.6 537.3h0M97.0 484.7h0M140.6 562.9h0M132.1 576.7h0M135.8 580.4h0M150.8 521.3h0M154.8 565.8h0M137.1 581.6h0M143.1 582.4h0M138.5 545.1h0M104.7 563.7h0M148.1 516.5h0M118.6 590.8h0M108.2 528.1h0M146.0 503.1h0M105.9 534.5h0M101.9 533.2h0M112.4 567.7h0M113.3 564.5h0M152.9 574.4h0M143.2 568.0h0M102.5 527.2h0M151.0 544.0h0M117.1 582.0h0M150.8 534.9h0M134.3 584.0h0M145.4 550.3h0M110.6 531.5h0M105.9 517.8h0M146.6 578.3h0M142.0 586.4h0M148.6 561.3h0M111.5 540.0h0M132.7 584.0h0M136.2 554.3h0M98.6 507.7h0M152.1 532.2h0M98.0 527.1h0M147.1 528.9h0M104.1 577.3h0M144.4 566.6h0M113.5 549.4h0M115.3 550.3h0M107.1 514.6h0M103.8 532.5h0M150.2 521.5h0M95.3 499.2h0M145.5 553.8h0M148.2 525.2h0M99.4 521.5h0M143.4 551.1h0M136.4 573.7h0M101.4 571.4h0M142.7 575.9h0M136.8 541.8h0M150.6 506.1h0M141.4 581.4h0M153.7 517.1h0M143.8 546.4h0M102.5 556.8h0M102.0 568.3h0M148.9 502.2h0M114.7 589.0h0M100.0 577.0h0M103.4 544.0h0M123.4 592.8h0M129.2 574.9h0M140.0 549.8h0M100.9 508.9h0M115.5 577.0h0M135.8 559.8h0M153.7 580.5h0M113.8 546.0h0M152.9 545.1h0M149.2 533.9h0M145.0 557.2h0M109.2 537.5h0M96.4 577.3h0M99.6 556.0h0M152.2 482.7h0M98.4 566.4h0M113.9 548.3h0M102.5 550.9h0M149.6 503.3h0M115.2 567.7h0M144.9 561.9h0M146.3 566.2h0M139.2 535.1h0M97.0 557.3h0M137.1 581.9h0M143.2 551.1h0M148.2 565.7h0M107.5 538.1h0M101.4 523.1h0M150.4 527.4h0M106.1 556.8h0M149.7 542.7h0M100.2 559.7h0M129.5 574.9h0M135.0 560.6h0M106.5 536.9h0M106.1 525.0h0M106.3 528.8h0M111.9 578.3h0M103.4 525.0h0M136.0 586.1h0M100.3 514.7h0M103.3 533.7h0M102.8 579.5h0M104.2 558.3h0M110.1 563.6h0M152.5 513.8h0M103.2 559.2h0M153.3 572.5h0M110.2 555.9h0M135.6 586.1h0M144.8 584.6h0M106.3 530.2h0M107.7 581.4h0M147.3 573.3h0M139.0 560.1h0M119.0 577.6h0M149.0 559.2h0M147.7 575.6h0M131.1 569.3h0M98.2 529.6h0M131.1 572.1h0M149.0 548.3h0M110.6 544.3h0M151.3 577.4h0M151.9 573.3h0M96.9 515.2h0M154.9 579.0h0M121.0 587.8h0M137.3 581.1h0M101.9 569.8h0M150.4 507.2h0M106.8 585.3h0M100.6 560.0h0M128.4 586.8h0M113.5 585.8h0M113.3 574.1h0M141.4 584.9h0M108.8 557.3h0M116.3 577.5h0M150.5 527.0h0M150.6 554.1h0M146.3 531.7h0M115.5 579.2h0M131.8 579.6h0M116.2 580.6h0M97.3 501.1h0M95.6 572.1h0M107.9 547.7h0M107.3 553.1h0M115.3 578.5h0M96.2 511.6h0M98.1 539.0h0M101.9 558.5h0M104.4 502.1h0M128.2 580.4h0M141.9 587.4h0M104.5 574.3h0M113.5 542.2h0M98.1 552.7h0M114.6 565.1h0M151.0 504.2h0M147.9 529.6h0M141.2 563.2h0M113.9 543.4h0M96.5 576.7h0M100.7 568.2h0M150.8 578.4h0M105.6 525.5h0M146.6 522.0h0M135.4 583.6h0M139.9 573.9h0M149.0 577.5h0M96.2 507.1h0M142.0 528.8h0M134.0 578.2h0M116.4 576.0h0M143.3 530.2h0M155.1 568.8h0M154.1 513.7h0M128.2 582.2h0M99.2 532.9h0M102.6 515.7h0M134.0 589.5h0M146.8 509.6h0M108.2 548.4h0M99.7 505.6h0M132.5 580.5h0M100.3 551.6h0M137.7 581.0h0M148.9 506.1h0M101.5 535.5h0M137.8 586.5h0M104.0 540.0h0M113.6 549.6h0M108.4 545.6h0M154.0 578.0h0M98.4 500.0h0M98.5 518.3h0M139.9 586.5h0M109.0 564.2h0M153.8 520.5h0M118.0 584.5h0M96.0 546.1h0M121.2 584.9h0M139.9 550.3h0M149.4 499.2h0M136.2 561.5h0M114.5 572.3h0M101.9 504.1h0M149.4 572.3h0M122.2 586.7h0M97.1 552.4h0M96.6 549.1h0M150.9 527.2h0M97.4 496.1h0M114.3 559.2h0M104.6 514.5h0M154.3 532.1h0M151.7 562.2h0M102.9 560.1h0M144.3 554.5h0M147.4 577.7h0M107.3 517.7h0M109.3 583.6h0M113.0 547.1h0M154.5 535.1h0M108.1 555.8h0M105.7 563.4h0M101.1 521.6h0M147.5 553.3h0M154.4 562.8h0M140.5 577.1h0M134.1 584.9h0M96.9 532.4h0M145.8 528.1h0M134.8 567.3h0M109.2 533.7h0M111.6 571.6h0M95.9 540.0h0M111.2 551.4h0M101.8 578.9h0M141.6 570.3h0M153.3 528.6h0M140.8 579.5h0M153.1 521.0h0M149.2 518.3h0M112.6 556.3h0M113.1 554.2h0M151.4 522.7h0M99.0 519.4h0M142.1 585.4h0M151.0 533.6h0M97.3 561.1h0M137.9 549.9h0M141.8 527.2h0M103.1 583.9h0M98.3 552.5h0M147.5 522.6h0M117.9 569.5h0M146.6 549.9h0M98.5 546.6h0M97.6 509.7h0M97.5 569.6h0M106.8 513.1h0M96.7 576.0h0M113.6 586.0h0M143.6 523.0h0M144.9 536.6h0M128.6 592.1h0M151.2 556.0h0M149.8 544.6h0M144.9 516.2h0M101.2 545.1h0M146.3 546.3h0M105.4 538.0h0M139.3 586.6h0M112.3 550.8h0M151.2 534.8h0M102.2 523.5h0M151.6 513.5h0M97.4 560.6h0M154.5 544.3h0M95.8 509.4h0M104.8 581.0h0M107.1 550.4h0M108.2 547.1h0M122.2 586.9h0M140.3 552.8h0M100.5 536.5h0M146.4 567.6h0M148.7 539.6h0M115.7 577.0h0M108.5 546.7h0M97.9 521.0h0M145.6 580.1h0M144.6 520.9h0M131.1 583.3h0M110.7 570.7h0M146.7 528.1h0M147.8 573.7h0M149.3 542.8h0M148.3 518.6h0M115.6 550.8h0M101.9 525.9h0M114.4 547.0h0M99.9 551.1h0M147.6 527.4h0M107.8 581.4h0M152.8 510.4h0M142.6 558.2h0M135.3 574.7h0M102.5 500.6h0M154.2 574.3h0M107.3 536.0h0M100.9 581.7h0M130.1 575.0h0M152.9 578.5h0M137.0 585.0h0M147.0 554.7h0M98.6 511.2h0M100.3 552.9h0M111.7 576.0h0M101.9 566.9h0M103.5 581.1h0M151.9 561.2h0M152.4 558.5h0M101.2 555.2h0M151.5 546.0h0M101.7 521.7h0M151.8 511.6h0M106.3 573.0h0M139.7 559.5h0M138.4 555.0h0M140.3 558.4h0M97.5 551.1h0M141.3 536.1h0M108.3 527.0h0M103.5 506.1h0M109.1 573.4h0M102.0 532.1h0M149.6 526.8h0M110.6 567.6h0M139.4 580.3h0M109.2 535.3h0M104.3 547.1h0M150.9 567.9h0M144.0 572.9h0M144.3 574.2h0M146.7 498.6h0M141.7 554.4h0M109.3 545.0h0M96.1 534.9h0M99.2 578.8h0M112.7 581.3h0M108.2 551.1h0M146.7 581.6h0M96.2 542.9h0M153.1 510.6h0M120.4 580.9h0M139.0 547.1h0M98.5 546.4h0M96.9 521.4h0M151.2 511.7h0M152.7 524.4h0M96.6 556.0h0M149.2 506.5h0M154.3 518.7h0M99.6 529.9h0M112.9 545.2h0M129.5 581.6h0M99.5 518.4h0M108.8 521.5h0M109.5 528.8h0M150.4 530.9h0M105.5 526.3h0M145.8 580.2h0M104.0 514.6h0M110.6 580.3h0M147.0 578.4h0M99.6 560.3h0M96.8 496.7h0M150.5 522.4h0M135.7 580.0h0M151.7 541.2h0M140.4 569.7h0M154.1 564.2h0M120.2 578.4h0M119.5 580.3h0M132.7 587.4h0M111.7 588.9h0M136.2 580.3h0M103.5 511.2h0M100.5 520.8h0M148.1 545.1h0M114.5 589.3h0M138.0 583.5h0M95.8 540.9h0M138.5 538.9h0M140.3 578.6h0M107.4 573.0h0M128.7 591.0h0M142.4 571.9h0M140.1 585.9h0M150.7 526.5h0M96.4 506.0h0M149.8 541.3h0M102.5 533.2h0M104.5 558.3h0M113.1 571.5h0M144.1 555.1h0M130.8 590.7h0M132.4 583.5h0M141.9 524.0h0M149.5 543.0h0M137.0 576.5h0M101.2 579.4h0M119.1 576.9h0M97.7 524.1h0M113.8 560.0h0M96.8 531.3h0M141.8 540.6h0M100.4 515.0h0M153.8 548.8h0M103.1 528.8h0M99.7 548.7h0M95.3 578.6h0M128.2 591.0h0M152.5 547.8h0M141.8 558.6h0M106.5 524.7h0M149.3 553.6h0M99.2 482.0h0M152.4 550.3h0M116.0 552.2h0M143.2 543.8h0M105.3 520.5h0M155.1 533.8h0M148.7 542.5h0M147.0 531.3h0M113.6 555.8h0M115.3 564.7h0M104.1 554.3h0M114.7 560.3h0M99.5 541.1h0M119.8 591.8h0M124.3 595.2h0M100.7 530.6h0M149.0 545.6h0M109.6 536.7h0M105.7 510.5h0M95.3 547.2h0M98.2 522.0h0M100.4 555.7h0M148.5 549.6h0M149.0 503.3h0M152.9 561.8h0M151.4 575.4h0M101.8 555.1h0M104.8 551.5h0M153.1 520.6h0M136.8 553.4h0M107.3 586.3h0M99.0 495.4h0M150.1 527.2h0M152.2 574.4h0M140.4 528.6h0M107.6 556.8h0M114.0 549.3h0M115.8 571.2h0M102.4 535.5h0M99.4 539.7h0M103.7 535.6h0M103.1 565.0h0M140.9 577.6h0M97.3 523.5h0M147.6 563.5h0M91.3 589.1h0M157.1 586.7h0M158.4 587.6h0M89.4 588.8h0M154.1 584.1h0M91.2 585.8h0M157.5 583.4h0M160.4 580.7h0M96.4 583.3h0M160.5 587.2h0M157.3 583.9h0M159.0 583.2h0M160.1 586.9h0M96.5 580.8h0M157.7 581.7h0M154.0 583.8h0M95.5 585.5h0M92.1 587.3h0M99.6 489.5h0M154.0 465.1h0M153.6 470.3h0M154.9 467.0h0M150.7 471.3h0M150.0 489.6h0M95.6 478.6h0M97.2 464.3h0M152.1 474.4h0M95.7 469.9h0M99.1 464.6h0M95.5 483.0h0M152.0 479.3h0M98.3 471.1h0M95.8 468.5h0M155.1 467.9h0M97.1 478.9h0M149.9 481.0h0M96.0 480.4h0M97.6 466.7h0M101.1 471.0h0M154.8 488.7h0M149.5 474.2h0M149.8 475.1h0M149.3 467.3h0M98.2 468.0h0M96.0 487.7h0M153.3 482.6h0M96.8 477.0h0M154.8 480.3h0M152.3 489.5h0M97.5 486.0h0M98.5 465.5h0M149.8 466.2h0M154.9 473.0h0M152.2 469.4h0M100.3 482.7h0M152.3 483.2h0M153.1 464.9h0M152.4 479.2h0" stroke="#BBBBBB" stroke-width="2.36" stroke-linecap="round" fill="none"/>
<path d="M92.5 514.7h0M87.3 522.8h0M89.1 512.9h0M88.5 515.6h0M94.4 520.1h0M93.1 498.5h0M94.3 553.8h0M93.5 522.2h0M89.3 526.8h0M90.3 534.3h0M86.1 537.5h0M91.9 535.5h0M92.9 539.9h0M92.6 551.6h0M94.8 547.5h0M95.1 543.4h0M86.1 502.1h0M93.2 519.5h0M91.8 551.1h0M93.2 564.3h0M88.7 554.0h0M89.1 506.7h0M86.1 542.1h0M85.5 509.9h0M91.2 518.6h0M78.7 521.9h0M93.3 481.1h0M93.4 559.6h0M80.0 487.7h0M91.3 555.9h0M88.0 534.5h0M87.5 551.5h0M87.8 479.5h0M83.7 532.8h0M91.1 501.5h0M89.0 525.9h0M94.6 465.1h0M89.3 529.4h0M85.6 509.9h0M83.8 512.7h0M92.9 503.5h0M92.9 531.9h0M85.9 537.6h0M95.1 561.5h0M92.5 553.5h0M77.6 489.1h0M75.2 514.6h0M84.0 510.6h0M90.7 525.0h0M94.8 504.3h0M84.2 552.2h0M83.3 536.5h0M87.3 546.0h0M93.4 561.3h0M87.3 506.8h0M88.0 505.0h0M92.9 532.3h0M95.1 559.0h0M93.9 527.8h0M94.5 530.5h0M93.4 546.0h0M89.9 513.0h0M83.8 552.0h0M94.7 552.2h0M94.4 543.7h0M81.2 504.4h0M95.0 532.7h0M92.0 554.7h0M93.8 535.6h0M84.7 526.4h0M92.5 537.2h0M82.7 508.9h0M88.7 545.7h0M84.0 500.4h0M87.9 545.0h0M93.7 530.0h0M90.5 543.2h0M87.8 528.9h0M89.5 540.0h0M93.4 562.2h0M79.4 545.7h0M94.4 517.1h0M84.1 506.3h0M89.5 481.8h0M92.3 498.4h0M82.7 519.9h0M92.1 509.4h0M83.3 480.0h0M91.1 542.2h0M84.4 499.5h0M93.0 518.7h0M88.1 541.3h0M89.8 515.5h0M81.7 491.3h0M92.5 522.6h0M91.3 555.2h0M94.1 560.1h0M90.8 538.7h0M93.5 544.1h0M94.2 546.8h0M91.7 523.8h0M94.8 511.0h0M91.5 551.7h0M92.0 523.2h0M90.4 564.9h0M90.3 531.0h0M90.0 566.7h0M92.3 537.8h0M93.9 546.6h0M95.1 527.6h0M83.5 510.2h0M94.1 510.1h0M87.7 541.4h0M93.0 511.4h0M85.9 553.2h0M83.5 529.1h0M79.6 509.0h0M93.6 559.3h0M87.5 559.2h0M94.3 511.9h0M94.8 555.2h0M82.2 502.8h0M90.7 559.0h0M92.6 501.1h0M88.6 536.0h0M90.5 536.1h0M93.1 565.4h0M82.8 503.2h0M94.1 552.3h0M90.9 546.0h0M95.1 471.8h0M88.9 555.8h0M91.5 521.6h0M82.1 527.6h0M83.0 536.1h0M83.7 509.8h0M89.9 558.8h0M87.2 511.3h0M85.3 537.0h0M93.8 484.8h0M93.2 560.9h0M90.9 495.5h0M94.6 550.7h0M87.7 562.0h0M82.1 524.5h0M94.3 561.9h0M87.9 562.2h0M86.3 514.6h0M91.5 541.0h0M92.7 518.9h0M93.8 523.0h0M88.2 510.7h0M88.9 542.1h0M85.7 546.1h0M91.1 551.2h0M88.1 504.2h0M83.2 527.1h0M92.4 506.5h0M91.4 526.3h0M82.7 496.4h0M89.8 538.0h0M94.9 525.2h0M80.5 483.9h0M92.1 568.7h0M93.5 507.0h0M89.8 523.4h0M84.5 564.6h0M93.7 557.8h0M89.3 518.9h0M89.7 517.2h0M81.3 536.8h0M94.3 499.9h0M89.8 515.6h0M84.8 552.7h0M91.4 526.8h0M92.3 535.7h0M88.0 542.8h0M86.1 483.3h0M83.8 494.4h0M95.2 539.2h0M94.1 562.8h0M94.7 521.2h0M94.0 526.5h0M94.7 509.4h0M89.6 509.3h0M87.0 504.1h0M92.6 555.5h0M92.6 551.3h0M78.7 476.2h0M94.8 490.7h0M88.2 521.0h0M94.4 458.5h0M89.4 532.5h0M94.7 535.5h0M93.5 561.5h0M91.9 545.0h0M93.9 486.5h0M94.0 534.5h0M92.0 472.8h0M89.6 556.5h0M89.4 527.3h0M85.2 549.9h0M86.0 553.6h0M91.9 511.4h0M87.5 525.4h0M85.9 501.7h0M89.0 545.3h0M92.5 486.4h0M80.7 473.4h0M91.9 560.0h0M93.4 531.5h0M82.2 523.8h0M93.2 564.6h0M82.9 520.0h0M87.7 493.0h0M89.3 480.0h0M86.5 517.5h0M93.6 537.9h0M81.5 555.3h0M87.2 483.0h0M87.0 521.3h0M88.7 520.7h0M92.6 532.9h0M93.2 548.2h0M92.8 535.7h0M86.1 539.5h0M89.4 509.6h0M80.2 510.4h0M88.5 538.3h0M92.5 530.5h0M88.9 546.5h0M93.8 546.7h0M89.0 506.0h0M92.9 519.3h0M92.7 513.0h0M93.5 513.8h0M91.7 542.9h0M89.7 516.5h0M95.1 459.9h0M91.1 532.4h0M85.2 513.0h0M89.1 543.4h0M92.9 515.1h0M85.2 543.9h0M94.8 492.2h0M88.9 547.2h0M94.6 567.7h0M81.7 476.8h0M79.7 476.8h0M94.3 501.2h0M79.8 512.0h0M92.8 521.9h0M92.0 516.1h0M94.6 477.0h0M93.4 481.5h0M86.0 558.7h0M90.9 537.0h0M92.0 510.8h0M90.5 531.0h0M89.2 509.8h0M91.7 537.0h0M91.2 565.4h0M94.6 512.3h0M92.4 510.6h0M88.1 512.6h0M94.6 540.0h0M90.5 517.3h0M90.0 558.8h0M87.1 485.8h0M92.5 546.0h0M93.8 510.5h0M84.7 503.9h0M86.7 512.5h0M94.4 499.0h0M81.9 514.1h0M86.9 458.9h0M93.1 532.6h0M88.5 556.0h0M87.6 547.1h0M86.3 528.2h0M84.6 557.6h0M91.5 558.7h0M95.0 539.8h0M93.7 509.2h0M94.1 556.3h0M95.1 558.4h0M81.3 541.9h0M85.2 472.0h0M93.3 508.1h0M91.3 526.8h0M87.8 554.0h0M93.2 521.1h0M86.8 514.8h0M83.0 526.5h0M78.3 546.8h0M94.9 552.2h0M88.8 507.9h0M92.7 550.4h0M88.9 553.0h0M87.7 537.9h0M83.7 518.4h0M81.3 494.4h0M89.8 525.3h0M86.3 501.7h0M95.0 556.9h0M92.4 539.6h0M81.5 494.6h0M85.1 559.2h0M89.3 553.5h0M91.7 563.4h0M88.9 512.3h0M78.2 517.8h0M91.1 533.1h0M92.9 547.5h0M93.1 524.8h0M95.0 565.5h0M87.0 558.5h0M85.5 518.1h0M84.9 524.0h0M95.1 557.5h0M83.6 520.9h0M93.0 529.7h0M94.2 531.2h0M95.0 509.6h0M79.2 487.0h0M94.4 541.2h0M90.1 479.5h0M93.6 530.3h0M93.6 508.5h0M94.6 551.2h0M89.7 518.7h0M90.4 530.4h0M88.8 490.4h0M85.8 509.1h0M93.2 540.8h0M90.9 552.9h0M85.4 554.7h0M85.1 520.5h0M87.8 530.9h0M92.8 494.3h0M90.3 551.9h0M92.2 520.9h0M85.8 545.6h0M88.0 543.9h0M88.9 558.1h0M84.9 544.7h0M86.1 521.1h0M92.1 553.7h0M94.3 549.8h0M90.9 548.6h0M84.9 489.1h0M90.3 564.5h0M86.1 556.7h0M94.8 542.8h0M84.2 531.6h0M86.1 512.7h0M86.0 539.3h0M88.9 517.4h0M95.1 553.5h0M92.7 537.6h0M90.9 561.3h0M94.8 524.5h0M94.3 510.5h0M94.1 536.2h0M91.5 556.1h0M85.0 494.5h0M93.2 556.6h0M92.2 517.8h0M93.0 489.9h0M83.7 507.1h0M83.9 522.9h0M94.8 559.5h0M87.3 518.7h0M80.8 548.2h0M94.4 534.0h0M92.0 511.1h0M87.1 518.7h0M90.0 543.4h0M83.8 522.8h0M92.6 506.0h0M87.6 562.0h0M87.1 550.3h0M94.9 533.0h0M91.0 484.8h0M92.0 557.2h0M91.1 558.3h0M82.9 537.1h0M85.3 479.2h0M93.8 511.5h0M86.6 547.3h0M92.5 566.2h0M90.1 515.8h0M90.5 541.2h0M89.9 528.4h0M81.7 529.6h0M94.0 533.8h0M88.9 514.1h0M94.8 550.3h0M91.4 545.0h0M91.5 534.0h0M86.4 560.9h0M91.5 520.7h0M81.4 514.0h0M85.3 562.9h0M92.6 488.2h0M92.4 536.7h0M79.3 493.1h0M90.1 550.1h0M85.7 557.2h0M89.5 514.2h0M86.9 546.6h0M92.0 516.2h0M80.2 510.0h0M88.3 541.7h0M92.6 494.5h0M89.8 533.3h0M94.0 519.6h0M87.6 551.5h0M92.3 559.0h0M94.7 527.0h0M92.1 555.2h0M94.2 551.0h0M90.9 514.1h0M88.6 545.4h0M89.1 548.5h0M91.4 565.3h0M83.2 543.5h0M89.9 543.6h0M81.9 496.9h0M95.1 517.3h0M79.4 530.2h0M79.5 513.1h0M80.9 506.3h0M90.5 553.9h0M91.2 537.0h0M76.0 487.5h0M83.7 527.3h0M88.4 552.4h0M91.3 557.8h0M95.0 549.3h0M79.3 518.7h0M91.7 543.7h0M84.4 541.3h0M92.1 452.9h0M94.3 505.7h0M94.6 532.7h0M93.4 501.8h0M84.9 530.7h0M88.2 556.4h0M91.7 465.2h0M86.7 477.5h0M88.6 474.9h0M91.1 541.4h0M91.8 553.3h0M82.1 494.2h0M92.9 511.3h0M94.4 538.3h0M92.1 560.4h0M89.2 518.8h0M94.8 566.0h0M94.1 517.2h0M95.0 538.6h0M84.3 541.4h0M76.8 531.9h0M93.4 477.4h0M91.7 528.5h0M88.4 500.6h0M82.3 541.1h0M93.6 541.2h0M82.8 501.6h0M86.4 535.6h0M90.2 509.5h0M94.4 544.9h0M83.2 506.9h0M91.1 534.9h0M85.0 517.2h0M88.9 533.2h0M86.4 536.4h0M83.3 491.7h0M90.4 504.8h0M88.0 511.1h0M89.6 518.8h0M84.7 566.0h0M93.2 525.2h0M94.6 518.1h0M93.9 558.6h0M84.5 490.3h0M83.9 543.3h0M90.7 540.2h0M89.5 545.5h0M91.3 551.2h0M91.8 536.8h0M78.9 536.6h0M95.2 550.3h0M93.7 542.8h0M88.6 557.8h0M95.0 550.9h0M89.2 516.2h0M94.5 530.8h0M94.9 539.8h0M88.8 454.2h0M91.7 550.3h0M95.0 529.7h0M85.2 528.0h0M92.6 540.0h0M93.4 539.6h0M93.7 548.1h0M80.4 549.5h0M93.4 545.9h0M83.9 524.6h0M91.6 554.9h0M90.8 454.8h0M78.6 516.7h0M90.5 520.0h0M80.5 499.9h0M94.0 540.3h0M95.0 548.2h0M94.3 550.7h0M91.9 549.8h0M85.3 553.5h0M90.4 531.2h0M89.4 492.4h0M92.5 535.1h0M89.3 538.1h0M91.9 530.9h0M87.4 558.2h0M92.1 538.9h0M94.0 560.4h0M89.6 512.6h0M89.6 563.5h0M91.6 537.1h0M86.9 540.5h0M90.6 538.5h0M85.9 534.7h0M88.4 504.9h0M84.6 554.7h0M94.7 520.7h0M87.2 499.4h0M88.0 536.9h0M89.4 536.4h0M88.3 564.2h0M94.0 553.2h0M85.4 555.2h0M87.7 503.9h0M90.1 524.6h0M92.8 556.4h0M89.0 521.3h0M94.4 515.7h0M92.0 558.2h0M89.7 505.6h0M91.4 540.8h0M94.8 517.4h0M86.2 495.2h0M88.9 510.4h0M83.5 498.0h0M94.6 536.3h0M91.7 548.4h0M87.1 550.1h0M86.8 539.0h0M89.8 508.2h0M85.6 546.6h0M94.6 523.0h0M87.8 538.7h0M71.7 400.6h0M80.9 428.2h0M83.1 431.9h0M80.5 441.8h0M76.7 443.5h0M85.7 445.7h0M95.3 446.8h0M80.5 451.4h0M84.8 453.3h0M59.6 478.6h0M63.5 498.5h0M68.0 498.0h0M71.2 498.5h0M70.0 508.0h0M65.4 549.7h0M73.0 550.5h0M74.0 523.0h0M75.5 525.0h0" stroke="#2f5688" stroke-width="2.36" stroke-linecap="round" fill="none"/>
<path d="M165.9 534.1h0M158.8 440.5h0M168.8 547.3h0M171.8 540.5h0M156.1 509.0h0M212.4 483.9h0M166.9 541.9h0M172.8 473.2h0M161.4 555.4h0M157.0 554.4h0M161.0 543.0h0M158.7 538.7h0M157.6 501.7h0M157.1 513.3h0M164.9 543.0h0M161.5 472.9h0M164.0 481.5h0M162.3 540.3h0M162.8 543.2h0M168.0 512.2h0M160.7 535.5h0M166.4 523.6h0M155.4 512.2h0M180.0 487.6h0M162.3 528.0h0M157.7 493.2h0M169.4 539.7h0M155.7 556.2h0M157.4 516.0h0M177.2 501.1h0M172.8 514.4h0M160.8 537.6h0M159.1 502.3h0M162.9 509.5h0M159.7 551.4h0M167.6 479.6h0M159.6 538.5h0M164.4 471.9h0M169.5 538.2h0M155.8 518.2h0M159.6 496.6h0M156.8 517.6h0M155.4 538.5h0M167.8 520.5h0M157.5 538.5h0M180.6 536.9h0M173.1 508.6h0M156.5 539.1h0M158.4 507.8h0M166.6 563.5h0M164.1 535.2h0M169.1 497.7h0M176.0 519.3h0M168.6 552.7h0M162.0 559.5h0M163.0 513.2h0M157.3 546.4h0M161.4 556.3h0M182.1 524.8h0M165.6 542.6h0M155.9 550.8h0M155.7 477.4h0M160.2 529.4h0M157.9 501.2h0M164.6 549.0h0M174.4 500.5h0M157.1 554.7h0M168.9 476.8h0M163.7 522.4h0M164.4 553.4h0M162.1 556.9h0M162.3 488.2h0M168.6 494.5h0M170.6 465.5h0M157.3 543.0h0M161.0 514.8h0M173.2 522.2h0M158.4 563.7h0M157.3 530.3h0M155.9 549.8h0M155.6 519.1h0M156.2 501.8h0M176.3 538.4h0M158.1 459.8h0M160.0 527.9h0M157.8 521.9h0M158.5 518.3h0M166.4 515.7h0M158.6 542.0h0M155.9 545.4h0M167.9 497.5h0M159.9 544.0h0M161.8 485.3h0M179.6 514.9h0M175.5 512.3h0M158.2 536.1h0M157.1 545.7h0M165.2 474.3h0M185.6 503.2h0M172.6 513.5h0M160.7 560.1h0M156.5 510.9h0M166.3 542.0h0M157.6 496.9h0M159.2 542.9h0M167.0 496.1h0M157.2 551.2h0M164.1 556.3h0M159.0 541.7h0M159.9 546.2h0M157.0 478.0h0M158.9 551.0h0M162.2 545.3h0M158.0 512.6h0M164.7 529.9h0M158.7 560.2h0M155.4 531.6h0M170.4 530.2h0M163.5 540.5h0M159.9 483.2h0M156.6 546.4h0M160.9 551.6h0M158.0 490.2h0M160.9 504.6h0M155.3 478.3h0M160.8 553.5h0M159.1 561.5h0M163.1 516.1h0M165.3 548.3h0M156.8 525.1h0M156.1 565.5h0M156.1 542.0h0M164.0 483.8h0M159.6 533.3h0M169.0 483.8h0M159.4 522.3h0M160.2 497.7h0M177.4 503.2h0M173.3 536.9h0M158.4 532.4h0M169.6 549.9h0M160.2 532.6h0M163.0 523.5h0M167.6 511.6h0M155.4 506.8h0M163.5 549.9h0M175.1 512.2h0M166.6 489.9h0M161.2 524.5h0M164.0 466.1h0M159.0 518.5h0M156.4 504.8h0M162.3 480.0h0M164.9 539.4h0M160.8 439.1h0M181.3 513.2h0M164.8 506.8h0M160.7 506.0h0M182.0 484.3h0M163.8 528.1h0M157.7 506.7h0M173.5 470.8h0M181.3 541.5h0M167.8 545.6h0M165.4 526.6h0M166.6 535.3h0M157.5 533.0h0M172.7 496.4h0M166.8 459.6h0M155.6 553.7h0M166.3 529.0h0M159.4 541.5h0M164.5 514.5h0M183.6 533.2h0M156.7 562.3h0M160.5 559.0h0M160.2 484.3h0M166.7 547.7h0M158.5 525.5h0M158.8 548.4h0M162.1 519.7h0M158.3 551.9h0M161.6 547.3h0M161.6 487.6h0M157.0 493.6h0M155.7 530.7h0M156.7 510.8h0M161.9 522.4h0M161.6 555.3h0M159.4 551.7h0M160.9 515.9h0M180.7 476.1h0M167.7 550.8h0M162.0 527.7h0M166.5 531.5h0M158.0 510.4h0M156.1 511.1h0M161.4 526.8h0M169.7 524.8h0M158.1 480.5h0M158.4 533.7h0M156.2 559.6h0M157.8 521.2h0M168.6 497.3h0M163.3 525.6h0M158.5 527.8h0M158.6 531.7h0M163.2 543.8h0M163.4 552.8h0M158.8 535.6h0M160.0 510.7h0M160.1 549.1h0M157.0 539.9h0M155.6 527.4h0M181.2 459.5h0M165.5 513.5h0M157.7 501.9h0M157.4 528.4h0M163.2 490.9h0M171.5 488.3h0M162.5 537.5h0M162.4 523.1h0M159.3 554.4h0M157.7 497.5h0M162.5 522.7h0M179.8 488.6h0M159.8 563.5h0M169.3 547.6h0M159.7 550.9h0M155.7 562.4h0M163.3 470.4h0M168.4 533.2h0M167.0 474.0h0M158.2 532.4h0M157.1 539.0h0M168.2 523.6h0M162.5 557.0h0M161.1 476.6h0M158.0 542.8h0M182.1 479.9h0M166.4 509.6h0M162.6 522.5h0M162.4 545.5h0M157.9 506.7h0M177.9 507.4h0M161.3 544.6h0M156.7 511.7h0M173.6 530.4h0M160.4 549.8h0M156.6 524.3h0M166.0 562.9h0M158.6 550.6h0M157.4 472.1h0M158.3 543.8h0M161.6 561.7h0M161.5 505.1h0M166.8 526.0h0M155.4 529.2h0M157.8 545.4h0M157.0 510.4h0M156.0 527.7h0M161.9 540.4h0M161.3 532.9h0M166.0 524.7h0M194.7 513.9h0M162.1 459.2h0M175.9 540.4h0M159.7 520.3h0M163.4 508.3h0M181.8 487.9h0M157.2 547.6h0M155.4 542.3h0M166.8 513.5h0M167.3 501.1h0M159.9 533.2h0M158.7 540.2h0M157.7 527.1h0M162.8 526.2h0M171.8 535.0h0M157.6 558.6h0M157.8 542.1h0M158.5 522.1h0M162.2 540.2h0M164.1 514.2h0M174.0 559.4h0M164.8 560.4h0M155.4 554.9h0M168.5 526.7h0M159.4 537.4h0M168.6 494.8h0M156.5 559.1h0M156.7 531.0h0M176.9 549.9h0M157.0 527.2h0M161.2 525.5h0M158.8 511.0h0M162.6 507.1h0M156.0 560.8h0M158.4 530.8h0M162.0 503.1h0M156.5 527.8h0M160.1 511.0h0M156.4 518.3h0M169.6 545.7h0M164.9 535.2h0M177.3 501.5h0M158.5 536.0h0M164.4 515.1h0M158.2 503.6h0M157.0 534.6h0M159.7 540.3h0M158.9 550.6h0M160.2 508.8h0M175.6 456.6h0M163.8 544.5h0M155.4 543.3h0M170.9 473.1h0M156.7 538.4h0M172.2 491.3h0M169.5 521.4h0M165.1 489.1h0M172.2 505.4h0M160.7 545.4h0M165.8 553.9h0M166.1 505.7h0M164.8 557.5h0M165.9 542.1h0M157.0 531.9h0M155.2 534.0h0M161.7 551.1h0M163.7 533.8h0M179.4 526.1h0M161.6 531.2h0M161.5 540.4h0M155.9 482.2h0M168.1 549.3h0M163.6 473.1h0M161.4 519.5h0M168.3 543.7h0M192.1 491.5h0M158.2 548.0h0M184.2 532.5h0M167.9 539.2h0M201.1 454.2h0M165.1 550.3h0M162.2 556.8h0M161.3 502.2h0M160.9 542.9h0M174.8 537.5h0M161.4 547.2h0M168.3 515.5h0M171.8 532.5h0M159.1 540.6h0M155.3 545.8h0M163.5 510.7h0M161.4 464.6h0M160.5 510.3h0M163.4 536.5h0M161.5 544.7h0M156.4 524.1h0M156.5 543.6h0M168.4 449.6h0M159.4 537.5h0M157.7 506.9h0M155.7 496.5h0M159.3 534.9h0M165.4 499.6h0M157.2 543.3h0M171.5 516.5h0M162.7 517.0h0M165.4 555.9h0M157.8 539.5h0M161.9 536.0h0M158.7 519.8h0M157.4 547.5h0M157.0 555.2h0M160.2 556.8h0M160.2 557.5h0M168.0 520.5h0M170.6 471.4h0M176.1 538.1h0M157.2 535.8h0M163.7 473.7h0M156.8 549.8h0M156.8 558.1h0M166.4 520.4h0M165.2 513.5h0M179.7 552.7h0M156.3 554.0h0M159.7 479.6h0M159.8 545.2h0M156.3 519.5h0M164.9 440.2h0M159.0 452.8h0M172.8 522.8h0M167.0 530.8h0M158.3 528.0h0M161.5 479.8h0M162.3 539.1h0M158.9 515.1h0M162.3 504.1h0M161.2 539.7h0M188.1 503.3h0M165.7 497.5h0M156.6 501.1h0M155.5 525.6h0M173.5 533.8h0M155.2 532.9h0M156.2 561.0h0M163.1 558.8h0M155.5 500.8h0M167.8 522.4h0M167.0 501.4h0M155.4 543.4h0M160.3 556.1h0M162.2 541.8h0M157.3 550.0h0M164.0 526.7h0M156.9 540.2h0M157.2 498.1h0M157.5 543.9h0M187.8 473.7h0M157.4 516.2h0M156.6 474.1h0M167.2 539.6h0M161.2 539.6h0M158.3 494.0h0M167.6 501.9h0M163.4 553.6h0M163.2 513.6h0M167.2 541.2h0M156.5 528.2h0M170.6 494.1h0M159.9 488.2h0M170.7 516.1h0M156.9 551.0h0M168.0 508.5h0M164.3 532.2h0M166.9 548.5h0M169.9 528.7h0M160.9 456.2h0M165.3 532.2h0M167.3 551.8h0M157.5 552.7h0M165.4 549.4h0M158.2 539.0h0M161.8 488.2h0M168.0 565.0h0M175.1 524.7h0M162.6 549.8h0M155.4 536.5h0M187.2 525.5h0M155.3 540.0h0M155.3 512.3h0M163.4 513.0h0M161.2 538.6h0M165.8 543.7h0M159.8 543.6h0M156.3 532.8h0M159.2 542.9h0M159.7 532.5h0M171.5 554.4h0M158.6 539.3h0M197.4 513.2h0M161.5 549.5h0M162.3 530.9h0M158.6 484.4h0M173.5 442.7h0M156.2 495.9h0M158.6 519.5h0M156.2 525.5h0M163.7 497.1h0M160.1 541.4h0M156.7 487.9h0M165.4 552.5h0M161.4 541.2h0M167.0 501.0h0M155.7 531.7h0M157.2 525.6h0M170.4 482.1h0M170.2 481.4h0M161.0 470.4h0M179.4 516.2h0M163.1 543.6h0M158.4 510.7h0M163.8 510.2h0M158.2 544.8h0M157.4 521.5h0M170.8 502.5h0M160.2 556.2h0M155.8 546.1h0M160.6 562.1h0M164.6 539.3h0M167.5 518.2h0M170.4 520.1h0M164.8 514.3h0M158.7 537.4h0M166.4 501.8h0M156.4 552.5h0M160.5 555.9h0M172.0 467.0h0M157.7 542.9h0M168.4 488.8h0M163.4 500.8h0M169.8 523.9h0M171.9 469.4h0M156.8 464.0h0M170.4 489.8h0M157.3 561.0h0M162.3 516.4h0M171.3 442.1h0M172.4 520.0h0M159.5 533.5h0M162.0 524.2h0M191.4 525.7h0M167.2 521.4h0M163.2 513.1h0M156.8 480.0h0M160.2 503.9h0M181.8 534.6h0M156.4 490.5h0M160.3 510.1h0M165.3 469.3h0M155.6 561.0h0M162.5 512.6h0M156.8 545.8h0M157.8 554.2h0M158.8 500.6h0M155.5 555.9h0M158.0 521.5h0M158.7 508.7h0M156.9 542.1h0M159.6 521.1h0M168.2 549.8h0M155.5 533.4h0M159.4 558.9h0M165.0 523.7h0M157.1 532.5h0M173.9 489.4h0M157.7 532.5h0M173.0 553.0h0M169.1 492.0h0M155.5 482.7h0M165.4 530.7h0M174.8 540.4h0M172.7 493.4h0M156.2 536.3h0M159.2 539.9h0M158.0 547.1h0M161.5 518.4h0M162.1 552.0h0M159.9 516.1h0M170.7 517.0h0M161.6 519.6h0M156.0 545.9h0M180.7 466.2h0M174.4 495.0h0M168.6 508.9h0M159.6 526.1h0M168.6 511.2h0M158.8 509.8h0M159.2 502.1h0M161.9 509.7h0M159.0 520.7h0M165.8 539.1h0M165.3 527.9h0M163.3 467.7h0M158.8 464.3h0M180.3 497.1h0M172.9 522.6h0M168.7 555.6h0M155.9 524.3h0M158.2 461.5h0M158.5 556.4h0M162.7 482.3h0M159.7 534.6h0M157.7 502.5h0M163.5 543.9h0M155.7 511.7h0M162.9 532.8h0M159.6 491.3h0M165.7 534.7h0M159.1 543.0h0M160.7 520.2h0M158.7 558.1h0M158.9 512.8h0M158.1 540.9h0M164.5 539.0h0M158.6 560.5h0M162.2 541.2h0M168.9 509.6h0M158.8 561.4h0M162.2 540.2h0M156.5 560.1h0M165.5 523.9h0M155.4 501.7h0M159.2 524.5h0M156.9 548.6h0M157.4 509.7h0M156.0 522.7h0M166.9 544.6h0M166.2 557.4h0M168.1 486.1h0M166.6 514.5h0M155.9 524.4h0M157.1 520.0h0M160.9 546.0h0M161.5 527.9h0M155.9 518.5h0M158.5 520.5h0M156.3 545.9h0M159.8 517.1h0M170.3 525.3h0M157.5 554.3h0M157.5 545.0h0M164.3 484.7h0M166.7 537.4h0M162.3 549.0h0M159.8 558.8h0M156.4 540.3h0M173.6 526.6h0M159.5 524.6h0M159.0 546.3h0M155.3 509.4h0M169.9 462.0h0M162.4 531.7h0M172.5 552.6h0M158.4 534.7h0M172.0 524.4h0M157.8 518.6h0M155.2 519.2h0M156.7 524.3h0M166.8 514.4h0M164.2 543.4h0M161.9 535.4h0M174.0 490.7h0M163.7 529.5h0M161.4 517.1h0M180.4 528.0h0M160.1 554.4h0M156.5 522.6h0M162.8 541.5h0M163.7 518.6h0M155.3 536.7h0M162.5 535.9h0M158.4 546.6h0M158.9 548.7h0M158.6 490.4h0M162.3 531.8h0M167.2 546.9h0M160.7 542.5h0M157.9 500.9h0M170.7 548.2h0M159.9 517.5h0M158.1 513.6h0M167.4 494.8h0M175.6 481.7h0M158.7 514.3h0M162.6 531.1h0M160.3 550.1h0M166.0 504.7h0M169.6 494.6h0M156.3 558.9h0M156.9 519.9h0M169.4 559.7h0M170.1 506.6h0M159.4 539.6h0M157.3 493.4h0M157.6 535.0h0M156.5 475.5h0M189.7 524.6h0M163.8 499.8h0M155.3 559.1h0M157.8 535.8h0M164.9 514.2h0M157.6 552.5h0M155.5 513.7h0M158.7 548.9h0M161.2 480.9h0M165.6 496.9h0M156.9 532.4h0M165.0 542.3h0M157.6 518.2h0M162.9 485.4h0M155.8 556.0h0M176.3 462.7h0M156.8 516.8h0M161.2 507.2h0M193.0 474.8h0M156.4 492.6h0M159.6 534.7h0M159.0 527.5h0M161.5 557.9h0M155.7 520.1h0M180.4 491.6h0M166.6 545.2h0M161.5 544.1h0M178.8 541.5h0M172.3 450.0h0M169.2 541.1h0M155.9 506.0h0M160.1 548.3h0M163.0 547.7h0M162.3 518.1h0M169.1 541.4h0M159.4 529.3h0M162.4 513.3h0M158.2 512.1h0M160.8 540.3h0M164.4 505.1h0M158.0 559.5h0M155.5 539.0h0M185.8 531.6h0M157.6 518.9h0M166.3 534.5h0M162.7 554.9h0M186.7 486.8h0M161.4 524.4h0M167.9 483.9h0M164.6 518.6h0M168.5 480.5h0M166.2 486.7h0M165.3 553.8h0M172.5 536.4h0M159.2 540.5h0M169.8 516.1h0M157.6 518.9h0M161.8 500.6h0M159.4 548.3h0M160.8 532.4h0M158.3 486.5h0M158.5 517.0h0M160.0 448.3h0M157.4 550.3h0M159.7 546.1h0M158.2 548.2h0M173.7 551.8h0M161.6 510.6h0M161.1 549.3h0M163.5 541.3h0M157.9 522.6h0M160.8 533.1h0M164.0 563.3h0M155.2 449.7h0M184.8 472.6h0M168.9 530.6h0M164.5 541.4h0M155.9 530.3h0M182.1 445.0h0M161.9 550.1h0M168.0 509.4h0M160.3 548.3h0M161.2 537.7h0M155.7 544.8h0M155.3 521.9h0M156.7 506.0h0M155.6 538.6h0M160.5 494.2h0M164.9 552.5h0M156.3 535.1h0M159.0 506.5h0M160.2 559.3h0M160.1 514.2h0M156.7 531.3h0M159.6 510.7h0M166.2 540.3h0M160.4 529.4h0M164.2 517.6h0M165.1 518.9h0M159.7 544.2h0M159.9 495.9h0M160.8 554.7h0M179.2 456.6h0M162.3 499.8h0M161.1 531.2h0M165.7 537.2h0M167.8 524.8h0M168.6 488.1h0M159.3 537.2h0M163.6 536.7h0M157.5 551.2h0M159.0 509.5h0M155.6 540.7h0M158.8 531.1h0M157.8 535.9h0M159.2 554.5h0M155.3 558.4h0M172.4 504.8h0M166.5 529.8h0M156.7 529.8h0M159.2 540.0h0M157.5 515.5h0M165.6 493.5h0M164.9 563.1h0M167.8 538.2h0M161.7 507.2h0M156.2 529.6h0M161.3 556.5h0M167.2 538.6h0M161.4 458.8h0M160.4 518.5h0M161.2 544.2h0M167.3 522.6h0M173.0 476.6h0M155.5 531.0h0M167.3 548.7h0M175.0 523.9h0M158.6 495.7h0M163.6 535.4h0M155.8 528.5h0M165.4 557.4h0M166.1 546.1h0M167.8 514.0h0M160.2 532.0h0M168.1 559.9h0M156.5 500.6h0M159.4 517.5h0M156.5 531.4h0M158.1 553.1h0M166.4 534.0h0M160.2 549.2h0M162.8 532.8h0M162.7 547.4h0M162.8 525.9h0M174.3 464.2h0M171.0 553.9h0M168.5 537.7h0M167.5 491.6h0M168.2 445.3h0M157.2 541.4h0M173.0 514.7h0M166.1 488.0h0M167.4 522.8h0M159.8 502.6h0M165.2 524.0h0M157.4 496.9h0M162.7 535.0h0M172.2 452.5h0M158.9 541.6h0M162.1 541.1h0M155.5 553.1h0M171.4 557.7h0M157.3 543.4h0M158.6 537.6h0M163.7 554.2h0M165.9 520.5h0M172.5 488.1h0M162.2 547.5h0M167.6 534.2h0M161.9 523.7h0M164.9 528.5h0M155.8 555.9h0M155.6 490.8h0M160.9 523.0h0M160.1 550.0h0M168.6 450.3h0M157.7 531.6h0M156.4 530.4h0M163.1 514.9h0M161.1 534.4h0M156.7 559.6h0M160.0 522.7h0M159.3 478.3h0M166.5 516.9h0M159.2 547.6h0M164.8 511.9h0M157.9 526.2h0M158.4 536.1h0M159.3 479.5h0M156.5 555.5h0M157.0 531.5h0M160.6 545.3h0M161.9 520.5h0M155.6 560.3h0M177.4 559.2h0M156.5 532.7h0M188.3 531.7h0M169.8 453.3h0M156.1 545.7h0M184.3 504.3h0M157.3 520.1h0M163.7 534.1h0M167.5 496.4h0M155.5 552.9h0M159.1 528.6h0M158.9 545.9h0M160.4 507.0h0M177.2 452.6h0M156.4 556.8h0M172.3 559.6h0M159.3 477.8h0M159.5 510.4h0M159.4 539.4h0M161.1 527.9h0M158.0 558.7h0M158.1 477.9h0M177.0 548.2h0M164.7 528.3h0M175.7 448.2h0M167.5 515.5h0M164.3 540.4h0M156.6 476.5h0M164.7 517.7h0M180.2 501.4h0M163.5 485.0h0M163.1 501.0h0M159.4 540.7h0M173.0 485.1h0M172.3 510.7h0M173.3 510.1h0M169.4 543.7h0M157.5 502.0h0M171.2 506.7h0M169.4 528.0h0M162.0 521.2h0M165.7 529.9h0M161.1 542.3h0M170.1 550.6h0M156.2 553.0h0M165.5 534.6h0M156.7 546.9h0M164.3 517.4h0M172.1 494.3h0M159.4 531.3h0M157.7 499.1h0M160.9 530.3h0M159.2 485.6h0M158.4 473.4h0M158.3 533.0h0M157.0 532.6h0M204.9 354.5h0M199.8 384.0h0M204.1 399.1h0M211.5 399.1h0M220.1 417.2h0M230.7 433.7h0M171.9 431.8h0M177.0 431.8h0M178.6 431.8h0M183.3 436.1h0M166.2 442.4h0M168.0 442.4h0M171.6 442.4h0M175.0 442.4h0M178.5 442.4h0M202.6 436.5h0M256.7 439.5h0M205.5 441.8h0M210.2 445.0h0M197.9 449.4h0M206.8 453.6h0M217.8 458.0h0M216.9 461.4h0M251.0 468.4h0M240.6 486.0h0M212.1 498.4h0M202.6 495.5h0M192.2 508.3h0M200.7 498.4h0" stroke="#CC0000" stroke-width="2.36" stroke-linecap="round" fill="none"/>
<path d="M95.3 342.8V607.5M154.4 342.8V607.5M50.5 578.6H266.5" stroke="#3a3a3a" stroke-width="0.85" stroke-dasharray="3 3" fill="none"/>
<rect x="50.5" y="342.8" width="216.0" height="264.7" fill="none" stroke="#444" stroke-width="0.8"/>
<text x="44.80" y="598.60" font-size="8.20" text-anchor="end" textLength="4.00" lengthAdjust="spacingAndGlyphs" fill="#222">0</text>
<text x="44.80" y="532.80" font-size="8.20" text-anchor="end" textLength="4.00" lengthAdjust="spacingAndGlyphs" fill="#222">5</text>
<text x="44.80" y="467.00" font-size="8.20" text-anchor="end" textLength="8.20" lengthAdjust="spacingAndGlyphs" fill="#222">10</text>
<text x="44.80" y="401.20" font-size="8.20" text-anchor="end" textLength="8.20" lengthAdjust="spacingAndGlyphs" fill="#222">15</text>
<text x="74.00" y="621.20" font-size="8.00" text-anchor="middle" textLength="7.60" lengthAdjust="spacingAndGlyphs" fill="#222">−1</text>
<text x="125.20" y="621.20" font-size="8.00" text-anchor="middle" textLength="4.00" lengthAdjust="spacingAndGlyphs" fill="#222">0</text>
<text x="176.40" y="621.20" font-size="8.00" text-anchor="middle" textLength="4.00" lengthAdjust="spacingAndGlyphs" fill="#222">1</text>
<text x="227.60" y="621.20" font-size="8.00" text-anchor="middle" textLength="4.00" lengthAdjust="spacingAndGlyphs" fill="#222">2</text>
<path d="M45.8 595.7H50.5M45.8 529.9H50.5M45.8 464.1H50.5M45.8 398.3H50.5M74.0 607.5V611.9M125.2 607.5V611.9M176.4 607.5V611.9M227.6 607.5V611.9" stroke="#444" stroke-width="0.8" fill="none"/>
<text x="125.00" y="633.70" font-size="10.80" textLength="66.80" lengthAdjust="spacingAndGlyphs">log2FoldChange</text>
<text x="0.00" y="0.00" font-size="10.00" text-anchor="middle" textLength="117.30" lengthAdjust="spacingAndGlyphs" transform="translate(33.3 475.0) rotate(-90)">−log10(Agjust P−value)</text>
<text x="60.20" y="408.15" font-size="7.30" textLength="15.80" lengthAdjust="spacingAndGlyphs" fill="#2f5688" stroke="#2f5688" stroke-width="0.18">MLXIP</text>
<text x="65.10" y="425.25" font-size="7.30" textLength="19.70" lengthAdjust="spacingAndGlyphs" fill="#2f5688" stroke="#2f5688" stroke-width="0.18">PRKCSH</text>
<text x="89.00" y="434.15" font-size="7.30" textLength="14.90" lengthAdjust="spacingAndGlyphs" fill="#2f5688" stroke="#2f5688" stroke-width="0.18">DCTN1</text>
<text x="67.50" y="438.65" font-size="7.30" textLength="14.40" lengthAdjust="spacingAndGlyphs" fill="#2f5688" stroke="#2f5688" stroke-width="0.18">MAVS</text>
<text x="84.80" y="443.25" font-size="7.30" textLength="23.00" lengthAdjust="spacingAndGlyphs" fill="#2f5688" stroke="#2f5688" stroke-width="0.18">PPP2R5D</text>
<text x="109.80" y="445.85" font-size="7.30" textLength="20.40" lengthAdjust="spacingAndGlyphs" fill="#2f5688" stroke="#2f5688" stroke-width="0.18">CACFD1</text>
<text x="61.20" y="447.55" font-size="7.30" textLength="14.40" lengthAdjust="spacingAndGlyphs" fill="#2f5688" stroke="#2f5688" stroke-width="0.18">CLUH</text>
<text x="93.10" y="454.85" font-size="7.30" textLength="20.00" lengthAdjust="spacingAndGlyphs" fill="#2f5688" stroke="#2f5688" stroke-width="0.18">THRAP3</text>
<text x="59.50" y="456.75" font-size="7.30" textLength="20.50" lengthAdjust="spacingAndGlyphs" fill="#2f5688" stroke="#2f5688" stroke-width="0.18">TECPR1</text>
<text x="65.80" y="465.95" font-size="7.30" textLength="20.30" lengthAdjust="spacingAndGlyphs" fill="#2f5688" stroke="#2f5688" stroke-width="0.18">SUPT5H</text>
<text x="201.10" y="351.75" font-size="7.30" textLength="18.20" lengthAdjust="spacingAndGlyphs" fill="#c0272d" stroke="#c0272d" stroke-width="0.18">SAMD9</text>
<text x="186.50" y="392.05" font-size="7.30" textLength="20.30" lengthAdjust="spacingAndGlyphs" fill="#c0272d" stroke="#c0272d" stroke-width="0.18">GIMAP2</text>
<text x="182.70" y="402.05" font-size="7.30" textLength="19.90" lengthAdjust="spacingAndGlyphs" fill="#c0272d" stroke="#c0272d" stroke-width="0.18">SAMD9L</text>
<text x="214.60" y="402.05" font-size="7.30" textLength="16.50" lengthAdjust="spacingAndGlyphs" fill="#c0272d" stroke="#c0272d" stroke-width="0.18">DDX60</text>
<text x="206.80" y="425.25" font-size="7.30" textLength="20.10" lengthAdjust="spacingAndGlyphs" fill="#c0272d" stroke="#c0272d" stroke-width="0.18">CXCL10</text>
<text x="230.10" y="431.15" font-size="7.30" textLength="12.00" lengthAdjust="spacingAndGlyphs" fill="#c0272d" stroke="#c0272d" stroke-width="0.18">IFI44</text>
<text x="146.30" y="429.05" font-size="7.30" textLength="27.50" lengthAdjust="spacingAndGlyphs" fill="#c0272d" stroke="#c0272d" stroke-width="0.18">TMEM126B</text>
<text x="175.10" y="429.05" font-size="7.30" textLength="17.10" lengthAdjust="spacingAndGlyphs" fill="#c0272d" stroke="#c0272d" stroke-width="0.18">RAB8B</text>
<text x="155.20" y="439.25" font-size="7.30" textLength="16.10" lengthAdjust="spacingAndGlyphs" fill="#c0272d" stroke="#c0272d" stroke-width="0.18">GMNN</text>
<text x="180.80" y="444.35" font-size="7.30" textLength="13.90" lengthAdjust="spacingAndGlyphs" fill="#c0272d" stroke="#c0272d" stroke-width="0.18">CD52</text>
<path d="M95.3 446.8L108.5 443.7M84.8 453.3L78.9 461.5" stroke="#2f5688" stroke-width="0.5" fill="none"/>
<path d="M171.3 436.0L177 431.8" stroke="#c0272d" stroke-width="0.5" fill="none"/>
<text x="277.20" y="458.10" font-size="10.40" textLength="25.50" lengthAdjust="spacingAndGlyphs">Group</text>
<circle cx="281.9" cy="471.3" r="1.3" fill="#2f5688"/>
<text x="291.60" y="474.30" font-size="8.80" textLength="53.70" lengthAdjust="spacingAndGlyphs">down−regulated</text>
<circle cx="281.9" cy="484.1" r="1.3" fill="#BBBBBB"/>
<text x="291.60" y="487.10" font-size="8.80" textLength="48.80" lengthAdjust="spacingAndGlyphs">not−significant</text>
<circle cx="281.9" cy="496.6" r="1.3" fill="#CC0000"/>
<text x="291.60" y="499.60" font-size="8.80" textLength="44.20" lengthAdjust="spacingAndGlyphs">up−regulated</text>
<text x="357.40" y="349.00" font-size="15.00" textLength="9.80" lengthAdjust="spacingAndGlyphs" stroke="#000" stroke-width="0.3">D</text>
<g transform="translate(404.90 373.20) scale(1.90727 5.3960)" shape-rendering="crispEdges">
<path fill="rgb(0,0,128)" d="M105 14h1v1h-1z"/>
<path fill="rgb(0,0,128)" d="M109 3h1v1h-1zM109 7h1v1h-1zM104 23h1v1h-1z"/>
<path fill="rgb(0,0,128)" d="M103 0h1v1h-1zM109 2h1v1h-1zM104 14h1v1h-1zM104 17h1v1h-1zM104 24h1v1h-1z"/>
<path fill="rgb(0,0,128)" d="M103 2h1v1h-1zM104 3h2v1h-2zM100 8h1v1h-1zM105 8h1v1h-1zM109 8h1v1h-1zM100 13h1v1h-1zM104 22h2v1h-2z"/>
<path fill="rgb(0,0,128)" d="M100 0h1v1h-1zM104 0h1v1h-1zM105 2h1v1h-1zM100 5h1v1h-1zM87 7h1v1h-1zM100 7h1v1h-1zM104 7h1v1h-1zM104 11h1v1h-1zM109 13h1v1h-1zM103 14h1v1h-1zM104 16h1v1h-1zM109 17h1v1h-1zM107 22h1v1h-1zM105 23h1v1h-1zM109 23h1v1h-1zM30 30h1v1h-1zM47 30h1v1h-1zM45 31h1v1h-1zM28 35h1v1h-1zM28 37h1v1h-1zM49 46h1v1h-1zM28 47h1v1h-1z"/>
<path fill="rgb(0,0,128)" d="M69 0h1v1h-1zM105 0h1v1h-1zM101 1h1v1h-1zM93 2h1v1h-1zM100 3h2v1h-2zM100 4h1v1h-1zM109 5h1v1h-1zM82 7h1v1h-1zM107 7h1v1h-1zM104 8h1v1h-1zM105 11h1v1h-1zM100 12h1v1h-1zM109 12h1v1h-1zM105 15h1v1h-1zM70 16h1v1h-1zM103 16h1v1h-1zM55 20h1v1h-1zM100 21h1v1h-1zM71 23h1v1h-1zM31 25h2v1h-2zM28 27h1v1h-1zM53 29h1v1h-1zM28 30h1v1h-1zM39 31h1v1h-1zM39 34h1v1h-1zM30 36h1v1h-1zM32 36h1v1h-1zM39 40h1v1h-1zM30 41h1v1h-1zM39 41h1v1h-1zM19 42h1v1h-1zM8 47h1v1h-1zM19 47h1v1h-1zM44 47h2v1h-2zM18 49h1v1h-1z"/>
<path fill="rgb(21,21,139)" d="M67 2h1v1h-1zM104 2h1v1h-1zM107 2h1v1h-1zM68 3h1v1h-1zM94 3h1v1h-1zM103 3h1v1h-1zM104 4h1v1h-1zM101 5h1v1h-1zM105 6h1v1h-1zM71 7h1v1h-1zM78 7h1v1h-1zM104 9h1v1h-1zM103 11h1v1h-1zM105 12h1v1h-1zM67 13h1v1h-1zM104 13h1v1h-1zM66 16h1v1h-1zM63 17h1v1h-1zM100 17h1v1h-1zM105 17h1v1h-1zM84 19h1v1h-1zM100 19h1v1h-1zM104 19h1v1h-1zM104 20h1v1h-1zM104 21h1v1h-1zM71 22h1v1h-1zM98 22h1v1h-1zM101 22h1v1h-1zM90 23h1v1h-1zM105 24h1v1h-1zM109 24h1v1h-1zM40 25h2v1h-2zM30 26h1v1h-1zM30 27h1v1h-1zM35 27h1v1h-1zM30 28h1v1h-1zM30 29h1v1h-1zM47 29h1v1h-1zM27 30h1v1h-1zM32 30h1v1h-1zM30 31h1v1h-1zM28 32h1v1h-1zM49 34h1v1h-1zM28 36h1v1h-1zM37 36h1v1h-1zM45 36h1v1h-1zM28 40h1v1h-1zM30 40h1v1h-1zM40 40h1v1h-1zM30 42h1v1h-1zM52 45h1v1h-1zM17 46h1v1h-1zM28 46h1v1h-1zM24 47h1v1h-1zM42 47h1v1h-1zM49 47h1v1h-1zM54 47h1v1h-1zM49 49h1v1h-1z"/>
<path fill="rgb(42,42,149)" d="M87 0h1v1h-1zM101 0h1v1h-1zM109 0h1v1h-1zM104 1h1v1h-1zM109 1h1v1h-1zM81 2h1v1h-1zM100 2h1v1h-1zM80 3h1v1h-1zM87 3h1v1h-1zM105 4h1v1h-1zM69 7h1v1h-1zM105 7h1v1h-1zM63 8h1v1h-1zM94 8h1v1h-1zM78 9h1v1h-1zM109 9h1v1h-1zM100 10h1v1h-1zM98 11h1v1h-1zM107 11h1v1h-1zM61 12h1v1h-1zM81 12h2v1h-2zM104 12h1v1h-1zM64 14h1v1h-1zM100 15h1v1h-1zM104 15h1v1h-1zM82 16h1v1h-1zM4 17h1v1h-1zM103 17h1v1h-1zM100 18h1v1h-1zM104 18h1v1h-1zM63 20h1v1h-1zM100 20h1v1h-1zM101 21h2v1h-2zM106 21h1v1h-1zM65 22h1v1h-1zM77 22h1v1h-1zM109 22h1v1h-1zM63 23h1v1h-1zM100 23h1v1h-1zM102 23h2v1h-2zM81 24h1v1h-1zM93 24h1v1h-1zM100 24h1v1h-1zM27 25h1v1h-1zM30 25h1v1h-1zM33 27h2v1h-2zM28 29h1v1h-1zM19 30h1v1h-1zM39 30h1v1h-1zM43 30h1v1h-1zM52 30h1v1h-1zM28 31h1v1h-1zM32 31h1v1h-1zM37 31h1v1h-1zM45 33h1v1h-1zM32 34h1v1h-1zM44 34h1v1h-1zM53 34h1v1h-1zM32 35h1v1h-1zM34 35h1v1h-1zM39 35h1v1h-1zM47 35h1v1h-1zM50 35h1v1h-1zM34 36h2v1h-2zM47 36h1v1h-1zM47 37h1v1h-1zM19 39h1v1h-1zM30 39h1v1h-1zM45 39h1v1h-1zM26 41h1v1h-1zM45 41h1v1h-1zM39 42h1v1h-1zM22 43h1v1h-1zM49 43h1v1h-1zM19 44h1v1h-1zM19 45h1v1h-1zM39 46h1v1h-1zM14 47h1v1h-1zM18 47h1v1h-1zM34 47h1v1h-1zM37 47h1v1h-1zM39 47h2v1h-2zM32 48h1v1h-1zM30 49h1v1h-1z"/>
<path fill="rgb(64,64,160)" d="M67 0h1v1h-1zM58 3h1v1h-1zM70 3h2v1h-2zM81 3h2v1h-2zM93 3h1v1h-1zM98 3h1v1h-1zM63 4h1v1h-1zM93 4h1v1h-1zM103 4h1v1h-1zM109 4h1v1h-1zM81 6h1v1h-1zM98 6h1v1h-1zM101 6h1v1h-1zM4 8h1v1h-1zM87 8h1v1h-1zM101 8h2v1h-2zM94 9h1v1h-1zM100 9h1v1h-1zM109 11h1v1h-1zM70 12h1v1h-1zM78 12h1v1h-1zM103 13h1v1h-1zM87 14h1v1h-1zM109 15h1v1h-1zM79 16h1v1h-1zM93 16h1v1h-1zM107 16h1v1h-1zM109 16h1v1h-1zM102 17h1v1h-1zM103 18h1v1h-1zM107 18h1v1h-1zM98 19h1v1h-1zM107 19h1v1h-1zM64 20h1v1h-1zM101 20h1v1h-1zM70 21h1v1h-1zM107 21h1v1h-1zM55 22h1v1h-1zM81 22h1v1h-1zM86 22h1v1h-1zM103 22h1v1h-1zM81 23h1v1h-1zM92 23h1v1h-1zM94 23h1v1h-1zM63 24h1v1h-1zM66 24h1v1h-1zM76 24h1v1h-1zM37 25h1v1h-1zM39 25h1v1h-1zM45 25h1v1h-1zM47 25h1v1h-1zM49 25h1v1h-1zM17 26h1v1h-1zM38 26h1v1h-1zM40 26h1v1h-1zM53 26h1v1h-1zM41 28h1v1h-1zM32 29h1v1h-1zM39 29h1v1h-1zM42 29h1v1h-1zM51 29h1v1h-1zM45 30h1v1h-1zM34 31h1v1h-1zM51 31h1v1h-1zM29 32h2v1h-2zM32 33h1v1h-1zM47 33h1v1h-1zM53 33h1v1h-1zM40 34h1v1h-1zM48 34h1v1h-1zM51 34h1v1h-1zM30 35h1v1h-1zM8 36h1v1h-1zM17 36h1v1h-1zM33 36h1v1h-1zM53 36h1v1h-1zM38 37h1v1h-1zM46 37h1v1h-1zM15 39h1v1h-1zM31 39h1v1h-1zM34 39h1v1h-1zM32 40h1v1h-1zM53 40h1v1h-1zM17 41h1v1h-1zM28 41h1v1h-1zM34 41h1v1h-1zM44 41h1v1h-1zM24 42h1v1h-1zM51 42h1v1h-1zM20 43h1v1h-1zM30 43h1v1h-1zM46 43h1v1h-1zM31 44h1v1h-1zM39 44h1v1h-1zM45 44h1v1h-1zM15 46h1v1h-1zM19 46h1v1h-1zM37 46h1v1h-1zM32 47h1v1h-1zM46 47h1v1h-1zM28 48h1v1h-1zM53 49h1v1h-1z"/>
<path fill="rgb(85,85,170)" d="M107 0h1v1h-1zM69 1h1v1h-1zM102 1h2v1h-2zM107 1h1v1h-1zM9 3h1v1h-1zM55 3h1v1h-1zM76 3h1v1h-1zM92 3h1v1h-1zM71 4h1v1h-1zM107 4h1v1h-1zM93 5h1v1h-1zM69 6h1v1h-1zM100 6h1v1h-1zM104 6h1v1h-1zM58 7h1v1h-1zM63 7h1v1h-1zM66 7h1v1h-1zM68 7h1v1h-1zM70 7h1v1h-1zM72 7h1v1h-1zM75 7h1v1h-1zM93 7h1v1h-1zM101 7h3v1h-3zM71 8h1v1h-1zM96 8h1v1h-1zM106 8h2v1h-2zM60 9h1v1h-1zM87 9h1v1h-1zM93 9h1v1h-1zM103 9h1v1h-1zM63 10h1v1h-1zM67 10h1v1h-1zM105 10h1v1h-1zM107 10h1v1h-1zM55 11h1v1h-1zM69 11h1v1h-1zM82 11h1v1h-1zM87 11h1v1h-1zM100 11h1v1h-1zM102 12h1v1h-1zM68 13h1v1h-1zM101 13h1v1h-1zM105 13h1v1h-1zM55 14h1v1h-1zM69 14h2v1h-2zM77 14h2v1h-2zM84 14h1v1h-1zM94 14h1v1h-1zM100 14h1v1h-1zM109 14h1v1h-1zM61 16h1v1h-1zM71 16h1v1h-1zM78 16h1v1h-1zM92 16h1v1h-1zM94 16h1v1h-1zM98 16h1v1h-1zM100 16h3v1h-3zM57 17h2v1h-2zM61 17h1v1h-1zM68 17h1v1h-1zM87 17h1v1h-1zM93 17h1v1h-1zM101 17h1v1h-1zM107 17h1v1h-1zM80 18h1v1h-1zM94 18h1v1h-1zM103 19h1v1h-1zM109 19h1v1h-1zM82 20h1v1h-1zM87 20h1v1h-1zM94 20h1v1h-1zM82 21h1v1h-1zM90 21h1v1h-1zM94 21h1v1h-1zM99 21h1v1h-1zM6 22h1v1h-1zM60 22h1v1h-1zM84 22h1v1h-1zM100 22h1v1h-1zM65 23h1v1h-1zM67 23h2v1h-2zM78 23h1v1h-1zM107 23h1v1h-1zM78 24h1v1h-1zM87 24h1v1h-1zM103 24h1v1h-1zM23 25h1v1h-1zM35 25h1v1h-1zM44 25h1v1h-1zM55 25h1v1h-1zM59 25h1v1h-1zM28 26h1v1h-1zM31 26h1v1h-1zM34 26h1v1h-1zM42 26h1v1h-1zM45 26h1v1h-1zM49 26h1v1h-1zM52 26h1v1h-1zM45 27h1v1h-1zM49 27h1v1h-1zM28 28h1v1h-1zM39 28h1v1h-1zM49 28h1v1h-1zM34 29h1v1h-1zM45 29h1v1h-1zM41 30h1v1h-1zM49 30h1v1h-1zM59 30h1v1h-1zM8 31h1v1h-1zM18 31h1v1h-1zM41 31h1v1h-1zM47 31h1v1h-1zM31 32h1v1h-1zM35 32h1v1h-1zM38 32h1v1h-1zM54 32h1v1h-1zM29 33h1v1h-1zM31 33h1v1h-1zM35 33h1v1h-1zM39 33h1v1h-1zM51 33h1v1h-1zM105 33h1v1h-1zM26 34h1v1h-1zM28 34h1v1h-1zM30 34h1v1h-1zM34 34h1v1h-1zM41 34h2v1h-2zM45 34h1v1h-1zM50 34h1v1h-1zM37 35h2v1h-2zM45 35h1v1h-1zM19 36h1v1h-1zM22 36h1v1h-1zM29 36h1v1h-1zM39 36h2v1h-2zM43 36h1v1h-1zM59 36h1v1h-1zM105 36h1v1h-1zM107 36h1v1h-1zM30 37h1v1h-1zM14 38h1v1h-1zM28 39h1v1h-1zM32 39h1v1h-1zM38 39h1v1h-1zM51 39h1v1h-1zM20 40h1v1h-1zM31 40h1v1h-1zM47 40h1v1h-1zM51 40h1v1h-1zM0 41h1v1h-1zM31 41h2v1h-2zM42 41h1v1h-1zM47 41h1v1h-1zM23 42h1v1h-1zM31 42h2v1h-2zM17 43h1v1h-1zM24 43h1v1h-1zM28 43h1v1h-1zM32 43h1v1h-1zM28 44h1v1h-1zM46 44h1v1h-1zM49 44h1v1h-1zM8 45h1v1h-1zM18 45h1v1h-1zM24 45h1v1h-1zM32 45h2v1h-2zM45 45h1v1h-1zM25 46h1v1h-1zM40 46h1v1h-1zM45 46h1v1h-1zM47 46h1v1h-1zM15 47h1v1h-1zM17 47h1v1h-1zM22 47h1v1h-1zM27 47h1v1h-1zM29 47h1v1h-1zM35 47h1v1h-1zM43 47h1v1h-1zM47 47h1v1h-1zM19 48h1v1h-1zM42 48h1v1h-1zM25 49h1v1h-1zM37 49h1v1h-1z"/>
<path fill="rgb(106,106,181)" d="M9 0h1v1h-1zM59 0h1v1h-1zM63 0h1v1h-1zM70 0h1v1h-1zM78 0h1v1h-1zM93 0h1v1h-1zM98 0h1v1h-1zM57 1h1v1h-1zM70 1h1v1h-1zM86 1h1v1h-1zM92 1h2v1h-2zM100 1h1v1h-1zM60 2h1v1h-1zM63 2h1v1h-1zM69 2h1v1h-1zM76 2h1v1h-1zM91 2h1v1h-1zM94 2h1v1h-1zM102 2h1v1h-1zM4 3h1v1h-1zM60 3h1v1h-1zM63 3h1v1h-1zM83 3h1v1h-1zM86 3h1v1h-1zM90 3h1v1h-1zM96 3h1v1h-1zM55 4h1v1h-1zM70 4h1v1h-1zM81 4h1v1h-1zM101 4h1v1h-1zM106 4h1v1h-1zM69 5h1v1h-1zM74 5h1v1h-1zM82 5h1v1h-1zM87 5h1v1h-1zM104 5h1v1h-1zM55 6h1v1h-1zM65 6h1v1h-1zM78 6h1v1h-1zM82 6h1v1h-1zM55 7h1v1h-1zM76 7h1v1h-1zM79 7h1v1h-1zM81 7h1v1h-1zM91 7h1v1h-1zM64 8h1v1h-1zM67 8h1v1h-1zM76 8h1v1h-1zM81 8h2v1h-2zM93 8h1v1h-1zM98 8h1v1h-1zM103 8h1v1h-1zM9 9h1v1h-1zM105 9h1v1h-1zM58 10h1v1h-1zM101 10h1v1h-1zM104 10h1v1h-1zM81 11h1v1h-1zM85 11h1v1h-1zM91 11h1v1h-1zM101 11h2v1h-2zM57 12h1v1h-1zM85 12h1v1h-1zM87 12h1v1h-1zM93 12h2v1h-2zM98 12h1v1h-1zM103 12h1v1h-1zM4 14h1v1h-1zM92 14h1v1h-1zM97 14h1v1h-1zM101 14h1v1h-1zM107 14h1v1h-1zM67 15h1v1h-1zM77 15h1v1h-1zM102 15h2v1h-2zM64 16h1v1h-1zM67 16h1v1h-1zM76 16h1v1h-1zM105 16h1v1h-1zM55 17h1v1h-1zM65 17h1v1h-1zM70 17h1v1h-1zM82 17h1v1h-1zM99 17h1v1h-1zM70 18h1v1h-1zM82 18h1v1h-1zM85 18h1v1h-1zM96 18h1v1h-1zM58 19h1v1h-1zM68 19h1v1h-1zM70 19h1v1h-1zM9 20h1v1h-1zM61 20h1v1h-1zM83 20h2v1h-2zM98 20h1v1h-1zM105 20h1v1h-1zM107 20h1v1h-1zM109 20h1v1h-1zM64 21h1v1h-1zM93 21h1v1h-1zM103 21h1v1h-1zM109 21h1v1h-1zM58 22h1v1h-1zM69 22h2v1h-2zM82 22h1v1h-1zM87 22h1v1h-1zM102 22h1v1h-1zM91 23h1v1h-1zM95 23h1v1h-1zM9 24h1v1h-1zM68 24h2v1h-2zM79 24h1v1h-1zM102 24h1v1h-1zM21 25h1v1h-1zM50 25h1v1h-1zM26 26h1v1h-1zM47 26h1v1h-1zM18 27h2v1h-2zM23 27h1v1h-1zM32 27h1v1h-1zM39 27h1v1h-1zM43 27h2v1h-2zM54 27h1v1h-1zM19 28h1v1h-1zM31 28h1v1h-1zM35 28h1v1h-1zM29 29h1v1h-1zM41 29h1v1h-1zM49 29h1v1h-1zM31 30h1v1h-1zM44 30h1v1h-1zM53 30h1v1h-1zM31 31h1v1h-1zM50 31h1v1h-1zM27 32h1v1h-1zM45 32h1v1h-1zM51 32h1v1h-1zM53 32h1v1h-1zM28 33h1v1h-1zM42 33h1v1h-1zM23 34h1v1h-1zM27 34h1v1h-1zM37 34h2v1h-2zM43 34h1v1h-1zM54 34h1v1h-1zM19 35h1v1h-1zM21 35h1v1h-1zM41 35h1v1h-1zM49 35h1v1h-1zM53 35h1v1h-1zM59 35h1v1h-1zM26 36h2v1h-2zM31 36h1v1h-1zM44 36h1v1h-1zM46 36h1v1h-1zM49 36h1v1h-1zM51 36h1v1h-1zM37 37h1v1h-1zM41 37h1v1h-1zM54 37h1v1h-1zM18 38h1v1h-1zM20 38h1v1h-1zM28 38h1v1h-1zM0 39h1v1h-1zM37 39h1v1h-1zM39 39h1v1h-1zM50 39h1v1h-1zM19 40h1v1h-1zM21 40h1v1h-1zM24 40h1v1h-1zM34 40h1v1h-1zM44 40h1v1h-1zM14 41h2v1h-2zM18 41h1v1h-1zM20 41h2v1h-2zM23 41h2v1h-2zM35 41h1v1h-1zM46 41h1v1h-1zM35 42h1v1h-1zM47 42h1v1h-1zM41 43h1v1h-1zM47 43h1v1h-1zM26 45h1v1h-1zM28 45h1v1h-1zM30 45h2v1h-2zM34 45h1v1h-1zM43 45h1v1h-1zM23 46h1v1h-1zM29 46h1v1h-1zM32 46h1v1h-1zM43 46h1v1h-1zM30 47h1v1h-1zM50 47h1v1h-1zM53 47h1v1h-1zM59 47h1v1h-1zM105 47h1v1h-1zM22 48h1v1h-1zM40 48h1v1h-1zM17 49h1v1h-1zM28 49h1v1h-1zM31 49h3v1h-3zM35 49h1v1h-1zM47 49h1v1h-1zM52 49h1v1h-1z"/>
<path fill="rgb(128,128,192)" d="M61 0h1v1h-1zM68 0h1v1h-1zM76 0h2v1h-2zM81 0h2v1h-2zM95 0h1v1h-1zM66 1h2v1h-2zM73 1h1v1h-1zM78 1h1v1h-1zM81 1h2v1h-2zM105 1h1v1h-1zM4 2h1v1h-1zM55 2h1v1h-1zM85 2h1v1h-1zM87 2h1v1h-1zM92 2h1v1h-1zM95 2h3v1h-3zM59 3h1v1h-1zM64 3h2v1h-2zM79 3h1v1h-1zM85 3h1v1h-1zM89 3h1v1h-1zM99 3h1v1h-1zM107 3h1v1h-1zM4 4h1v1h-1zM66 4h1v1h-1zM82 4h1v1h-1zM84 4h1v1h-1zM91 4h1v1h-1zM81 5h1v1h-1zM90 5h1v1h-1zM107 5h1v1h-1zM86 6h1v1h-1zM90 6h2v1h-2zM93 6h2v1h-2zM109 6h1v1h-1zM61 7h1v1h-1zM65 7h1v1h-1zM80 7h1v1h-1zM84 7h1v1h-1zM89 7h2v1h-2zM92 7h1v1h-1zM96 7h1v1h-1zM58 8h1v1h-1zM78 8h1v1h-1zM66 9h1v1h-1zM69 9h1v1h-1zM73 9h1v1h-1zM91 9h1v1h-1zM96 9h1v1h-1zM102 9h1v1h-1zM77 11h1v1h-1zM94 11h1v1h-1zM58 12h1v1h-1zM65 12h1v1h-1zM99 12h1v1h-1zM107 12h1v1h-1zM58 13h1v1h-1zM95 13h1v1h-1zM107 13h1v1h-1zM66 14h1v1h-1zM68 14h1v1h-1zM79 14h1v1h-1zM89 14h1v1h-1zM93 14h1v1h-1zM66 15h1v1h-1zM80 15h1v1h-1zM82 15h1v1h-1zM90 15h1v1h-1zM107 15h1v1h-1zM57 16h1v1h-1zM60 16h1v1h-1zM63 16h1v1h-1zM80 16h2v1h-2zM97 16h1v1h-1zM106 16h1v1h-1zM76 17h1v1h-1zM92 17h1v1h-1zM61 18h1v1h-1zM75 18h1v1h-1zM87 18h1v1h-1zM89 18h2v1h-2zM92 18h1v1h-1zM95 18h1v1h-1zM101 18h1v1h-1zM81 19h1v1h-1zM93 19h1v1h-1zM101 19h1v1h-1zM105 19h1v1h-1zM65 20h4v1h-4zM75 20h1v1h-1zM77 20h1v1h-1zM58 21h1v1h-1zM71 21h1v1h-1zM77 21h2v1h-2zM84 21h1v1h-1zM86 21h2v1h-2zM97 21h2v1h-2zM105 21h1v1h-1zM4 22h1v1h-1zM63 22h1v1h-1zM66 22h1v1h-1zM68 22h1v1h-1zM88 22h1v1h-1zM91 22h2v1h-2zM96 22h1v1h-1zM59 23h1v1h-1zM64 23h1v1h-1zM82 23h1v1h-1zM87 23h1v1h-1zM93 23h1v1h-1zM99 23h1v1h-1zM70 24h1v1h-1zM107 24h1v1h-1zM8 25h1v1h-1zM14 25h1v1h-1zM36 25h1v1h-1zM46 25h1v1h-1zM14 26h1v1h-1zM27 26h1v1h-1zM33 26h1v1h-1zM37 26h1v1h-1zM46 26h1v1h-1zM54 26h1v1h-1zM109 26h1v1h-1zM3 27h1v1h-1zM21 27h1v1h-1zM26 27h1v1h-1zM50 27h1v1h-1zM63 27h1v1h-1zM105 27h1v1h-1zM27 28h1v1h-1zM34 28h1v1h-1zM40 28h1v1h-1zM43 28h1v1h-1zM45 28h1v1h-1zM22 29h1v1h-1zM31 29h1v1h-1zM37 29h1v1h-1zM59 29h1v1h-1zM46 30h1v1h-1zM20 31h1v1h-1zM26 31h1v1h-1zM33 31h1v1h-1zM38 31h1v1h-1zM44 31h1v1h-1zM54 31h1v1h-1zM37 32h1v1h-1zM44 32h1v1h-1zM46 32h3v1h-3zM65 32h1v1h-1zM15 33h1v1h-1zM30 33h1v1h-1zM34 33h1v1h-1zM52 33h1v1h-1zM56 33h1v1h-1zM59 33h1v1h-1zM14 34h1v1h-1zM17 34h2v1h-2zM31 34h1v1h-1zM18 35h1v1h-1zM51 35h1v1h-1zM18 36h1v1h-1zM20 36h1v1h-1zM64 36h1v1h-1zM32 37h1v1h-1zM40 37h1v1h-1zM44 37h1v1h-1zM49 37h1v1h-1zM51 37h1v1h-1zM32 38h1v1h-1zM39 38h1v1h-1zM41 38h2v1h-2zM46 38h1v1h-1zM8 39h1v1h-1zM24 39h1v1h-1zM40 39h2v1h-2zM59 39h1v1h-1zM0 40h1v1h-1zM14 40h2v1h-2zM17 40h1v1h-1zM45 40h1v1h-1zM50 40h1v1h-1zM54 40h1v1h-1zM19 41h1v1h-1zM37 41h1v1h-1zM40 41h2v1h-2zM49 41h1v1h-1zM0 42h1v1h-1zM25 42h1v1h-1zM28 42h1v1h-1zM38 42h1v1h-1zM46 42h1v1h-1zM50 42h1v1h-1zM14 43h1v1h-1zM18 43h1v1h-1zM39 43h1v1h-1zM25 44h1v1h-1zM39 45h1v1h-1zM42 45h1v1h-1zM44 45h1v1h-1zM53 45h1v1h-1zM3 46h1v1h-1zM18 46h1v1h-1zM22 46h1v1h-1zM34 46h2v1h-2zM50 46h1v1h-1zM53 46h1v1h-1zM21 47h1v1h-1zM41 47h1v1h-1zM18 48h1v1h-1zM9 49h1v1h-1zM14 49h2v1h-2zM26 49h1v1h-1zM42 49h1v1h-1zM54 49h1v1h-1z"/>
<path fill="rgb(149,149,202)" d="M92 0h1v1h-1zM99 0h1v1h-1zM106 0h1v1h-1zM55 1h1v1h-1zM64 1h1v1h-1zM90 1h1v1h-1zM95 1h1v1h-1zM61 2h1v1h-1zM74 2h1v1h-1zM78 2h1v1h-1zM82 2h1v1h-1zM84 2h1v1h-1zM1 3h1v1h-1zM57 3h1v1h-1zM69 3h1v1h-1zM73 3h1v1h-1zM77 3h2v1h-2zM88 3h1v1h-1zM91 3h1v1h-1zM95 3h1v1h-1zM97 3h1v1h-1zM68 4h2v1h-2zM73 4h1v1h-1zM77 4h2v1h-2zM86 4h2v1h-2zM97 4h1v1h-1zM70 5h1v1h-1zM102 5h1v1h-1zM105 5h1v1h-1zM4 6h1v1h-1zM30 6h1v1h-1zM64 6h1v1h-1zM103 6h1v1h-1zM57 7h1v1h-1zM60 7h1v1h-1zM67 7h1v1h-1zM86 7h1v1h-1zM97 7h1v1h-1zM39 8h1v1h-1zM55 8h1v1h-1zM68 8h1v1h-1zM92 8h1v1h-1zM4 9h1v1h-1zM55 9h1v1h-1zM63 9h1v1h-1zM65 9h1v1h-1zM68 9h1v1h-1zM76 9h1v1h-1zM107 9h1v1h-1zM66 10h1v1h-1zM69 10h2v1h-2zM91 10h1v1h-1zM93 10h2v1h-2zM102 10h2v1h-2zM109 10h1v1h-1zM4 11h1v1h-1zM9 11h1v1h-1zM58 11h1v1h-1zM63 11h1v1h-1zM78 11h2v1h-2zM86 11h1v1h-1zM89 11h1v1h-1zM95 11h1v1h-1zM99 11h1v1h-1zM69 12h1v1h-1zM90 12h2v1h-2zM95 12h2v1h-2zM57 13h1v1h-1zM65 13h1v1h-1zM75 13h1v1h-1zM79 13h1v1h-1zM86 13h2v1h-2zM99 13h1v1h-1zM102 13h1v1h-1zM5 14h1v1h-1zM57 14h4v1h-4zM63 14h1v1h-1zM71 14h1v1h-1zM74 14h1v1h-1zM86 14h1v1h-1zM96 14h1v1h-1zM102 14h1v1h-1zM76 15h1v1h-1zM0 16h1v1h-1zM4 16h1v1h-1zM45 16h1v1h-1zM68 16h1v1h-1zM74 16h1v1h-1zM87 16h1v1h-1zM99 16h1v1h-1zM75 17h1v1h-1zM77 17h2v1h-2zM86 17h1v1h-1zM90 17h2v1h-2zM97 17h1v1h-1zM106 17h1v1h-1zM73 18h1v1h-1zM93 18h1v1h-1zM102 18h1v1h-1zM105 18h1v1h-1zM109 18h1v1h-1zM66 19h2v1h-2zM74 19h1v1h-1zM76 19h1v1h-1zM90 19h1v1h-1zM70 20h2v1h-2zM74 20h1v1h-1zM78 20h1v1h-1zM92 20h1v1h-1zM102 20h2v1h-2zM55 21h1v1h-1zM61 21h1v1h-1zM63 21h1v1h-1zM81 21h1v1h-1zM13 22h1v1h-1zM44 22h1v1h-1zM67 22h1v1h-1zM74 22h2v1h-2zM78 22h1v1h-1zM85 22h1v1h-1zM89 22h2v1h-2zM93 22h1v1h-1zM55 23h1v1h-1zM60 23h1v1h-1zM66 23h1v1h-1zM69 23h1v1h-1zM73 23h1v1h-1zM77 23h1v1h-1zM79 23h1v1h-1zM84 23h1v1h-1zM101 23h1v1h-1zM4 24h1v1h-1zM18 24h1v1h-1zM34 24h1v1h-1zM60 24h1v1h-1zM67 24h1v1h-1zM90 24h1v1h-1zM94 24h2v1h-2zM98 24h1v1h-1zM0 25h1v1h-1zM18 25h1v1h-1zM22 25h1v1h-1zM28 25h1v1h-1zM42 25h1v1h-1zM48 25h1v1h-1zM53 25h1v1h-1zM15 26h1v1h-1zM39 26h1v1h-1zM43 26h2v1h-2zM56 26h1v1h-1zM59 26h1v1h-1zM0 27h1v1h-1zM24 27h1v1h-1zM31 27h1v1h-1zM38 27h1v1h-1zM42 27h1v1h-1zM47 27h1v1h-1zM59 27h1v1h-1zM107 27h1v1h-1zM33 28h1v1h-1zM54 28h2v1h-2zM3 29h1v1h-1zM18 29h1v1h-1zM27 29h1v1h-1zM33 29h1v1h-1zM38 29h1v1h-1zM40 29h1v1h-1zM43 29h2v1h-2zM46 29h1v1h-1zM48 29h1v1h-1zM50 29h1v1h-1zM60 29h1v1h-1zM66 29h1v1h-1zM26 30h1v1h-1zM29 30h1v1h-1zM37 30h1v1h-1zM51 30h1v1h-1zM63 30h1v1h-1zM42 31h2v1h-2zM14 32h1v1h-1zM18 32h1v1h-1zM26 32h1v1h-1zM32 32h1v1h-1zM40 32h1v1h-1zM49 32h2v1h-2zM52 32h1v1h-1zM33 33h1v1h-1zM37 33h2v1h-2zM40 33h1v1h-1zM49 33h1v1h-1zM0 34h1v1h-1zM10 34h1v1h-1zM15 34h1v1h-1zM19 34h1v1h-1zM33 34h1v1h-1zM35 34h1v1h-1zM46 34h1v1h-1zM52 34h1v1h-1zM57 34h1v1h-1zM14 35h1v1h-1zM26 35h1v1h-1zM35 35h1v1h-1zM44 35h1v1h-1zM46 35h1v1h-1zM14 36h1v1h-1zM42 36h1v1h-1zM63 36h1v1h-1zM66 36h1v1h-1zM23 37h1v1h-1zM43 37h1v1h-1zM15 38h1v1h-1zM17 38h1v1h-1zM22 38h2v1h-2zM33 38h1v1h-1zM45 38h1v1h-1zM3 39h1v1h-1zM14 39h1v1h-1zM17 39h2v1h-2zM22 39h1v1h-1zM44 39h1v1h-1zM53 39h1v1h-1zM25 40h1v1h-1zM41 40h1v1h-1zM43 40h1v1h-1zM46 40h1v1h-1zM49 40h1v1h-1zM22 41h1v1h-1zM33 41h1v1h-1zM51 41h1v1h-1zM53 41h1v1h-1zM15 42h1v1h-1zM27 42h1v1h-1zM37 42h1v1h-1zM41 42h2v1h-2zM45 42h1v1h-1zM49 42h1v1h-1zM19 43h1v1h-1zM29 43h1v1h-1zM31 43h1v1h-1zM34 43h1v1h-1zM37 43h1v1h-1zM43 43h1v1h-1zM45 43h1v1h-1zM51 43h2v1h-2zM8 44h1v1h-1zM34 44h1v1h-1zM40 44h1v1h-1zM3 45h1v1h-1zM20 45h3v1h-3zM35 45h1v1h-1zM38 45h1v1h-1zM14 46h1v1h-1zM21 46h1v1h-1zM30 46h1v1h-1zM42 46h1v1h-1zM44 46h1v1h-1zM52 46h1v1h-1zM0 47h1v1h-1zM16 47h1v1h-1zM25 47h1v1h-1zM31 47h1v1h-1zM33 47h1v1h-1zM38 47h1v1h-1zM52 47h1v1h-1zM62 47h1v1h-1zM8 48h1v1h-1zM14 48h2v1h-2zM34 48h1v1h-1zM39 48h1v1h-1zM45 48h1v1h-1zM47 48h1v1h-1zM50 48h1v1h-1zM54 48h1v1h-1zM20 49h1v1h-1zM24 49h1v1h-1zM40 49h1v1h-1zM44 49h1v1h-1zM46 49h1v1h-1zM51 49h1v1h-1z"/>
<path fill="rgb(170,170,213)" d="M7 0h1v1h-1zM32 0h1v1h-1zM71 0h1v1h-1zM84 0h3v1h-3zM91 0h1v1h-1zM94 0h1v1h-1zM102 0h1v1h-1zM4 1h1v1h-1zM61 1h1v1h-1zM77 1h1v1h-1zM79 1h2v1h-2zM87 1h1v1h-1zM91 1h1v1h-1zM58 2h1v1h-1zM64 2h1v1h-1zM68 2h1v1h-1zM71 2h1v1h-1zM77 2h1v1h-1zM79 2h2v1h-2zM8 3h1v1h-1zM66 3h1v1h-1zM57 4h1v1h-1zM64 4h1v1h-1zM75 4h1v1h-1zM1 5h1v1h-1zM66 5h1v1h-1zM84 5h1v1h-1zM92 5h1v1h-1zM103 5h1v1h-1zM9 6h1v1h-1zM57 6h2v1h-2zM61 6h1v1h-1zM63 6h1v1h-1zM70 6h2v1h-2zM77 6h1v1h-1zM84 6h1v1h-1zM87 6h1v1h-1zM106 6h2v1h-2zM94 7h1v1h-1zM108 7h1v1h-1zM0 8h1v1h-1zM5 8h1v1h-1zM59 8h1v1h-1zM69 8h2v1h-2zM79 8h2v1h-2zM86 8h1v1h-1zM95 8h1v1h-1zM6 9h1v1h-1zM57 9h1v1h-1zM71 9h1v1h-1zM77 9h1v1h-1zM81 9h1v1h-1zM86 9h1v1h-1zM98 9h1v1h-1zM101 9h1v1h-1zM106 9h1v1h-1zM71 10h1v1h-1zM90 10h1v1h-1zM60 11h2v1h-2zM68 11h1v1h-1zM70 11h1v1h-1zM93 11h1v1h-1zM9 12h1v1h-1zM13 12h1v1h-1zM46 12h1v1h-1zM55 12h1v1h-1zM63 12h2v1h-2zM67 12h2v1h-2zM77 12h1v1h-1zM79 12h1v1h-1zM92 12h1v1h-1zM101 12h1v1h-1zM55 13h1v1h-1zM66 13h1v1h-1zM77 13h1v1h-1zM81 13h1v1h-1zM90 13h1v1h-1zM93 13h1v1h-1zM61 14h1v1h-1zM73 14h1v1h-1zM82 14h1v1h-1zM95 14h1v1h-1zM99 14h1v1h-1zM108 14h1v1h-1zM58 15h2v1h-2zM63 15h2v1h-2zM69 15h2v1h-2zM81 15h1v1h-1zM85 15h2v1h-2zM93 15h1v1h-1zM96 15h1v1h-1zM101 15h1v1h-1zM1 16h1v1h-1zM34 16h1v1h-1zM55 16h1v1h-1zM69 16h1v1h-1zM75 16h1v1h-1zM90 16h1v1h-1zM5 17h1v1h-1zM59 17h2v1h-2zM64 17h1v1h-1zM84 17h2v1h-2zM95 17h1v1h-1zM58 18h1v1h-1zM64 18h1v1h-1zM66 18h1v1h-1zM69 18h1v1h-1zM78 18h1v1h-1zM86 18h1v1h-1zM39 19h1v1h-1zM55 19h1v1h-1zM60 19h1v1h-1zM63 19h1v1h-1zM69 19h1v1h-1zM82 19h1v1h-1zM87 19h1v1h-1zM96 19h1v1h-1zM106 19h1v1h-1zM4 20h1v1h-1zM57 20h2v1h-2zM69 20h1v1h-1zM73 20h1v1h-1zM76 20h1v1h-1zM91 20h1v1h-1zM93 20h1v1h-1zM95 20h1v1h-1zM34 21h1v1h-1zM68 21h1v1h-1zM76 21h1v1h-1zM80 21h1v1h-1zM89 21h1v1h-1zM5 22h1v1h-1zM32 22h1v1h-1zM80 22h1v1h-1zM83 22h1v1h-1zM6 23h1v1h-1zM57 23h2v1h-2zM85 23h1v1h-1zM89 23h1v1h-1zM55 24h1v1h-1zM57 24h1v1h-1zM61 24h1v1h-1zM84 24h1v1h-1zM86 24h1v1h-1zM89 24h1v1h-1zM91 24h1v1h-1zM101 24h1v1h-1zM108 24h1v1h-1zM3 25h1v1h-1zM17 25h1v1h-1zM33 25h1v1h-1zM43 25h1v1h-1zM51 25h2v1h-2zM62 25h1v1h-1zM105 25h1v1h-1zM8 26h1v1h-1zM18 26h1v1h-1zM20 26h2v1h-2zM29 26h1v1h-1zM32 26h1v1h-1zM36 26h1v1h-1zM41 26h1v1h-1zM51 26h1v1h-1zM15 27h1v1h-1zM27 27h1v1h-1zM37 27h1v1h-1zM52 27h1v1h-1zM62 27h1v1h-1zM21 28h2v1h-2zM26 28h1v1h-1zM42 28h1v1h-1zM44 28h1v1h-1zM46 28h1v1h-1zM51 28h2v1h-2zM56 28h1v1h-1zM59 28h1v1h-1zM63 28h1v1h-1zM0 29h1v1h-1zM15 29h1v1h-1zM24 29h1v1h-1zM26 29h1v1h-1zM35 29h1v1h-1zM55 29h1v1h-1zM58 29h1v1h-1zM65 29h1v1h-1zM109 29h1v1h-1zM15 30h1v1h-1zM23 30h1v1h-1zM25 30h1v1h-1zM34 30h1v1h-1zM42 30h1v1h-1zM56 30h2v1h-2zM65 30h1v1h-1zM35 31h1v1h-1zM40 31h1v1h-1zM49 31h1v1h-1zM59 31h1v1h-1zM39 32h1v1h-1zM41 32h1v1h-1zM43 32h1v1h-1zM62 32h1v1h-1zM10 33h1v1h-1zM27 33h1v1h-1zM41 33h1v1h-1zM43 33h2v1h-2zM106 33h1v1h-1zM109 33h1v1h-1zM47 34h1v1h-1zM17 35h1v1h-1zM24 35h1v1h-1zM29 35h1v1h-1zM54 35h1v1h-1zM61 35h1v1h-1zM63 35h1v1h-1zM107 35h1v1h-1zM109 35h1v1h-1zM0 36h1v1h-1zM21 36h1v1h-1zM38 36h1v1h-1zM41 36h1v1h-1zM48 36h1v1h-1zM56 36h1v1h-1zM39 37h1v1h-1zM42 37h1v1h-1zM45 37h1v1h-1zM55 37h1v1h-1zM59 37h1v1h-1zM66 37h1v1h-1zM8 38h1v1h-1zM31 38h1v1h-1zM38 38h1v1h-1zM40 38h1v1h-1zM50 38h2v1h-2zM25 39h1v1h-1zM35 39h1v1h-1zM47 39h1v1h-1zM54 39h1v1h-1zM8 40h1v1h-1zM18 40h1v1h-1zM23 40h1v1h-1zM27 40h1v1h-1zM29 40h1v1h-1zM38 40h1v1h-1zM3 41h1v1h-1zM25 41h1v1h-1zM27 41h1v1h-1zM29 41h1v1h-1zM59 41h1v1h-1zM70 41h1v1h-1zM72 41h1v1h-1zM10 42h1v1h-1zM14 42h1v1h-1zM17 42h2v1h-2zM20 42h1v1h-1zM29 42h1v1h-1zM44 42h1v1h-1zM53 42h1v1h-1zM87 42h1v1h-1zM8 43h1v1h-1zM15 43h1v1h-1zM38 43h1v1h-1zM42 43h1v1h-1zM44 43h1v1h-1zM53 43h1v1h-1zM10 44h1v1h-1zM17 44h1v1h-1zM23 44h1v1h-1zM27 44h1v1h-1zM30 44h1v1h-1zM35 44h1v1h-1zM43 44h2v1h-2zM15 45h1v1h-1zM23 45h1v1h-1zM27 45h1v1h-1zM36 45h1v1h-1zM41 45h1v1h-1zM46 45h2v1h-2zM51 45h1v1h-1zM9 46h1v1h-1zM27 46h1v1h-1zM41 46h1v1h-1zM46 46h1v1h-1zM3 47h1v1h-1zM10 47h1v1h-1zM20 47h1v1h-1zM23 47h1v1h-1zM48 47h1v1h-1zM64 47h1v1h-1zM81 47h1v1h-1zM21 48h1v1h-1zM23 48h1v1h-1zM49 48h1v1h-1zM52 48h1v1h-1zM21 49h3v1h-3zM39 49h1v1h-1zM41 49h1v1h-1zM59 49h1v1h-1z"/>
<path fill="rgb(191,191,223)" d="M0 0h1v1h-1zM58 0h1v1h-1zM74 0h1v1h-1zM90 0h1v1h-1zM96 0h2v1h-2zM5 1h2v1h-2zM71 1h1v1h-1zM85 1h1v1h-1zM88 1h1v1h-1zM96 1h1v1h-1zM98 1h1v1h-1zM57 2h1v1h-1zM65 2h1v1h-1zM72 2h1v1h-1zM86 2h1v1h-1zM99 2h1v1h-1zM13 3h1v1h-1zM34 3h1v1h-1zM67 3h1v1h-1zM75 3h1v1h-1zM102 3h1v1h-1zM45 4h1v1h-1zM58 4h1v1h-1zM90 4h1v1h-1zM94 4h1v1h-1zM55 5h1v1h-1zM60 5h2v1h-2zM75 5h2v1h-2zM99 5h1v1h-1zM59 6h1v1h-1zM66 6h1v1h-1zM74 6h1v1h-1zM79 6h1v1h-1zM102 6h1v1h-1zM3 7h1v1h-1zM9 7h1v1h-1zM45 7h1v1h-1zM59 7h1v1h-1zM73 7h1v1h-1zM77 7h1v1h-1zM85 7h1v1h-1zM95 7h1v1h-1zM53 8h1v1h-1zM60 8h2v1h-2zM77 8h1v1h-1zM84 8h2v1h-2zM90 8h1v1h-1zM99 8h1v1h-1zM58 9h1v1h-1zM61 9h1v1h-1zM64 9h1v1h-1zM67 9h1v1h-1zM74 9h1v1h-1zM80 9h1v1h-1zM82 9h1v1h-1zM85 9h1v1h-1zM88 9h1v1h-1zM92 9h1v1h-1zM76 10h1v1h-1zM78 10h1v1h-1zM86 10h2v1h-2zM92 10h1v1h-1zM74 11h1v1h-1zM92 11h1v1h-1zM97 11h1v1h-1zM66 12h1v1h-1zM75 12h2v1h-2zM84 12h1v1h-1zM89 12h1v1h-1zM12 13h1v1h-1zM61 13h4v1h-4zM83 13h2v1h-2zM94 13h1v1h-1zM81 14h1v1h-1zM91 14h1v1h-1zM55 15h1v1h-1zM71 15h1v1h-1zM74 15h1v1h-1zM79 15h1v1h-1zM84 15h1v1h-1zM87 15h1v1h-1zM97 15h2v1h-2zM6 16h1v1h-1zM77 16h1v1h-1zM95 16h1v1h-1zM9 17h1v1h-1zM67 17h1v1h-1zM69 17h1v1h-1zM71 17h1v1h-1zM83 17h1v1h-1zM89 17h1v1h-1zM94 17h1v1h-1zM98 17h1v1h-1zM60 18h1v1h-1zM68 18h1v1h-1zM71 18h1v1h-1zM108 18h1v1h-1zM9 19h1v1h-1zM61 19h1v1h-1zM73 19h1v1h-1zM79 19h1v1h-1zM86 19h1v1h-1zM91 19h1v1h-1zM99 20h1v1h-1zM4 21h1v1h-1zM13 21h1v1h-1zM57 21h1v1h-1zM66 21h2v1h-2zM72 21h1v1h-1zM74 21h1v1h-1zM83 21h1v1h-1zM96 21h1v1h-1zM108 21h1v1h-1zM17 22h1v1h-1zM19 22h1v1h-1zM29 22h1v1h-1zM53 22h1v1h-1zM57 22h1v1h-1zM59 22h1v1h-1zM61 22h1v1h-1zM76 22h1v1h-1zM94 22h1v1h-1zM97 22h1v1h-1zM9 23h1v1h-1zM12 23h2v1h-2zM53 23h1v1h-1zM61 23h1v1h-1zM75 23h1v1h-1zM86 23h1v1h-1zM98 23h1v1h-1zM28 24h1v1h-1zM58 24h1v1h-1zM64 24h1v1h-1zM71 24h1v1h-1zM75 24h1v1h-1zM77 24h1v1h-1zM85 24h1v1h-1zM92 24h1v1h-1zM97 24h1v1h-1zM19 25h2v1h-2zM34 25h1v1h-1zM56 25h1v1h-1zM61 25h1v1h-1zM63 25h1v1h-1zM109 25h1v1h-1zM0 26h1v1h-1zM11 26h1v1h-1zM35 26h1v1h-1zM48 26h1v1h-1zM50 26h1v1h-1zM65 26h1v1h-1zM11 27h1v1h-1zM29 27h1v1h-1zM36 27h1v1h-1zM40 27h2v1h-2zM46 27h1v1h-1zM53 27h1v1h-1zM58 27h1v1h-1zM11 28h1v1h-1zM18 28h1v1h-1zM20 28h1v1h-1zM24 28h1v1h-1zM29 28h1v1h-1zM38 28h1v1h-1zM50 28h1v1h-1zM53 28h1v1h-1zM58 28h1v1h-1zM60 28h1v1h-1zM109 28h1v1h-1zM19 29h1v1h-1zM52 29h1v1h-1zM56 29h2v1h-2zM63 29h1v1h-1zM106 29h1v1h-1zM18 30h1v1h-1zM20 30h1v1h-1zM24 30h1v1h-1zM33 30h1v1h-1zM40 30h1v1h-1zM48 30h1v1h-1zM107 30h1v1h-1zM109 30h1v1h-1zM14 31h1v1h-1zM0 32h1v1h-1zM20 32h1v1h-1zM59 32h1v1h-1zM63 32h1v1h-1zM107 32h2v1h-2zM3 33h1v1h-1zM50 33h1v1h-1zM62 33h1v1h-1zM3 34h1v1h-1zM24 34h1v1h-1zM56 34h1v1h-1zM63 34h1v1h-1zM0 35h1v1h-1zM22 35h1v1h-1zM36 35h1v1h-1zM40 35h1v1h-1zM52 35h1v1h-1zM56 35h1v1h-1zM11 36h1v1h-1zM15 36h1v1h-1zM52 36h1v1h-1zM55 36h1v1h-1zM109 36h1v1h-1zM0 37h1v1h-1zM3 37h1v1h-1zM15 37h1v1h-1zM27 37h1v1h-1zM29 37h1v1h-1zM33 37h3v1h-3zM58 37h1v1h-1zM21 38h1v1h-1zM30 38h1v1h-1zM37 38h1v1h-1zM43 38h1v1h-1zM49 38h1v1h-1zM59 38h1v1h-1zM10 39h1v1h-1zM23 39h1v1h-1zM26 39h2v1h-2zM29 39h1v1h-1zM43 39h1v1h-1zM3 40h1v1h-1zM22 40h1v1h-1zM26 40h1v1h-1zM72 40h1v1h-1zM8 41h1v1h-1zM10 41h1v1h-1zM48 41h1v1h-1zM54 41h1v1h-1zM33 42h2v1h-2zM43 42h1v1h-1zM56 42h1v1h-1zM3 43h1v1h-1zM10 43h1v1h-1zM23 43h1v1h-1zM25 43h2v1h-2zM33 43h1v1h-1zM40 43h1v1h-1zM50 43h1v1h-1zM87 43h1v1h-1zM26 44h1v1h-1zM32 44h1v1h-1zM37 44h1v1h-1zM42 44h1v1h-1zM47 44h2v1h-2zM4 45h1v1h-1zM14 45h1v1h-1zM50 45h1v1h-1zM87 45h1v1h-1zM0 46h1v1h-1zM8 46h1v1h-1zM16 46h1v1h-1zM24 46h1v1h-1zM26 46h1v1h-1zM48 46h1v1h-1zM51 46h1v1h-1zM1 47h2v1h-2zM11 47h1v1h-1zM11 48h1v1h-1zM17 48h1v1h-1zM25 48h1v1h-1zM30 48h1v1h-1zM33 48h1v1h-1zM53 48h1v1h-1zM59 48h1v1h-1zM0 49h1v1h-1zM8 49h1v1h-1zM16 49h1v1h-1zM34 49h1v1h-1zM38 49h1v1h-1zM48 49h1v1h-1zM50 49h1v1h-1z"/>
<path fill="rgb(212,212,234)" d="M55 0h1v1h-1zM60 0h1v1h-1zM64 0h3v1h-3zM73 0h1v1h-1zM88 0h1v1h-1zM8 1h1v1h-1zM28 1h1v1h-1zM34 1h1v1h-1zM59 1h2v1h-2zM63 1h1v1h-1zM68 1h1v1h-1zM89 1h1v1h-1zM49 2h1v1h-1zM73 2h1v1h-1zM89 2h1v1h-1zM101 2h1v1h-1zM108 2h1v1h-1zM15 3h1v1h-1zM21 3h1v1h-1zM30 3h1v1h-1zM42 3h1v1h-1zM61 3h1v1h-1zM84 3h1v1h-1zM108 3h1v1h-1zM5 4h1v1h-1zM61 4h1v1h-1zM65 4h1v1h-1zM76 4h1v1h-1zM92 4h1v1h-1zM99 4h1v1h-1zM102 4h1v1h-1zM37 5h1v1h-1zM58 5h1v1h-1zM63 5h1v1h-1zM68 5h1v1h-1zM73 5h1v1h-1zM77 5h1v1h-1zM86 5h1v1h-1zM94 5h1v1h-1zM96 5h1v1h-1zM60 6h1v1h-1zM67 6h2v1h-2zM75 6h1v1h-1zM85 6h1v1h-1zM89 6h1v1h-1zM92 6h1v1h-1zM99 6h1v1h-1zM4 7h1v1h-1zM6 7h1v1h-1zM12 7h1v1h-1zM64 7h1v1h-1zM74 7h1v1h-1zM88 7h1v1h-1zM98 7h2v1h-2zM28 8h1v1h-1zM57 8h1v1h-1zM65 8h2v1h-2zM88 8h1v1h-1zM108 8h1v1h-1zM5 9h1v1h-1zM18 9h1v1h-1zM30 9h1v1h-1zM56 9h1v1h-1zM79 9h1v1h-1zM83 9h2v1h-2zM90 9h1v1h-1zM4 10h1v1h-1zM55 10h1v1h-1zM61 10h1v1h-1zM80 10h3v1h-3zM84 10h1v1h-1zM32 11h1v1h-1zM57 11h1v1h-1zM66 11h2v1h-2zM73 11h1v1h-1zM76 11h1v1h-1zM80 11h1v1h-1zM84 11h1v1h-1zM90 11h1v1h-1zM96 11h1v1h-1zM4 12h1v1h-1zM8 12h1v1h-1zM71 12h1v1h-1zM74 12h1v1h-1zM86 12h1v1h-1zM97 12h1v1h-1zM1 13h1v1h-1zM9 13h1v1h-1zM59 13h1v1h-1zM69 13h1v1h-1zM78 13h1v1h-1zM82 13h1v1h-1zM89 13h1v1h-1zM44 14h1v1h-1zM65 14h1v1h-1zM75 14h2v1h-2zM95 15h1v1h-1zM7 16h1v1h-1zM58 16h1v1h-1zM84 16h1v1h-1zM86 16h1v1h-1zM91 16h1v1h-1zM96 16h1v1h-1zM0 17h1v1h-1zM72 17h1v1h-1zM81 17h1v1h-1zM108 17h1v1h-1zM57 18h1v1h-1zM74 18h1v1h-1zM97 18h1v1h-1zM99 18h1v1h-1zM65 19h1v1h-1zM71 19h1v1h-1zM77 19h2v1h-2zM85 19h1v1h-1zM89 19h1v1h-1zM92 19h1v1h-1zM102 19h1v1h-1zM0 20h1v1h-1zM14 20h1v1h-1zM59 20h1v1h-1zM81 20h1v1h-1zM89 20h1v1h-1zM97 20h1v1h-1zM106 20h1v1h-1zM108 20h1v1h-1zM8 21h1v1h-1zM12 21h1v1h-1zM95 21h1v1h-1zM1 22h1v1h-1zM22 22h1v1h-1zM28 22h1v1h-1zM46 22h2v1h-2zM64 22h1v1h-1zM79 22h1v1h-1zM99 22h1v1h-1zM108 22h1v1h-1zM45 23h1v1h-1zM70 23h1v1h-1zM74 23h1v1h-1zM83 23h1v1h-1zM88 23h1v1h-1zM96 23h2v1h-2zM106 23h1v1h-1zM108 23h1v1h-1zM5 24h2v1h-2zM45 24h1v1h-1zM59 24h1v1h-1zM62 24h1v1h-1zM65 24h1v1h-1zM74 24h1v1h-1zM80 24h1v1h-1zM82 24h1v1h-1zM96 24h1v1h-1zM99 24h1v1h-1zM106 24h1v1h-1zM26 25h1v1h-1zM58 25h1v1h-1zM87 25h1v1h-1zM104 25h1v1h-1zM106 25h1v1h-1zM23 26h2v1h-2zM61 26h1v1h-1zM8 27h1v1h-1zM10 27h1v1h-1zM20 27h1v1h-1zM48 27h1v1h-1zM51 27h1v1h-1zM56 27h1v1h-1zM61 27h1v1h-1zM64 27h1v1h-1zM109 27h1v1h-1zM3 28h1v1h-1zM8 28h1v1h-1zM23 28h1v1h-1zM37 28h1v1h-1zM47 28h1v1h-1zM105 28h1v1h-1zM14 29h1v1h-1zM21 29h1v1h-1zM4 30h1v1h-1zM14 30h1v1h-1zM50 30h1v1h-1zM54 30h2v1h-2zM58 30h1v1h-1zM61 30h1v1h-1zM105 30h1v1h-1zM3 31h1v1h-1zM19 31h1v1h-1zM22 31h1v1h-1zM24 31h1v1h-1zM29 31h1v1h-1zM53 31h1v1h-1zM55 31h1v1h-1zM62 31h1v1h-1zM64 31h1v1h-1zM109 31h1v1h-1zM1 32h1v1h-1zM3 32h1v1h-1zM15 32h2v1h-2zM21 32h1v1h-1zM34 32h1v1h-1zM56 32h1v1h-1zM106 32h1v1h-1zM109 32h1v1h-1zM19 33h1v1h-1zM21 33h1v1h-1zM46 33h1v1h-1zM54 33h1v1h-1zM63 33h1v1h-1zM107 33h1v1h-1zM2 34h1v1h-1zM4 34h1v1h-1zM36 34h1v1h-1zM64 34h1v1h-1zM92 34h1v1h-1zM104 34h1v1h-1zM109 34h1v1h-1zM2 35h1v1h-1zM10 35h1v1h-1zM15 35h1v1h-1zM25 35h1v1h-1zM27 35h1v1h-1zM31 35h1v1h-1zM43 35h1v1h-1zM48 35h1v1h-1zM55 35h1v1h-1zM66 35h1v1h-1zM106 35h1v1h-1zM16 36h1v1h-1zM25 36h1v1h-1zM54 36h1v1h-1zM57 36h2v1h-2zM62 36h1v1h-1zM65 36h1v1h-1zM72 36h1v1h-1zM106 36h1v1h-1zM108 36h1v1h-1zM8 37h1v1h-1zM19 37h1v1h-1zM21 37h1v1h-1zM31 37h1v1h-1zM36 37h1v1h-1zM48 37h1v1h-1zM52 37h2v1h-2zM56 37h1v1h-1zM19 38h1v1h-1zM24 38h4v1h-4zM34 38h1v1h-1zM47 38h1v1h-1zM53 38h1v1h-1zM56 38h1v1h-1zM20 39h1v1h-1zM42 39h1v1h-1zM49 39h1v1h-1zM86 39h1v1h-1zM2 40h1v1h-1zM16 40h1v1h-1zM33 40h1v1h-1zM37 40h1v1h-1zM48 40h1v1h-1zM105 40h1v1h-1zM2 41h1v1h-1zM11 41h1v1h-1zM38 41h1v1h-1zM43 41h1v1h-1zM50 41h1v1h-1zM87 41h1v1h-1zM1 42h1v1h-1zM4 42h1v1h-1zM21 42h2v1h-2zM26 42h1v1h-1zM40 42h1v1h-1zM59 42h1v1h-1zM21 43h1v1h-1zM27 43h1v1h-1zM0 44h1v1h-1zM18 44h1v1h-1zM24 44h1v1h-1zM33 44h1v1h-1zM52 44h1v1h-1zM55 44h1v1h-1zM17 45h1v1h-1zM40 45h1v1h-1zM49 45h1v1h-1zM54 45h1v1h-1zM59 45h1v1h-1zM20 46h1v1h-1zM38 46h1v1h-1zM54 46h1v1h-1zM59 46h1v1h-1zM71 46h1v1h-1zM4 47h1v1h-1zM51 47h1v1h-1zM69 47h1v1h-1zM71 47h1v1h-1zM87 47h1v1h-1zM109 47h1v1h-1zM20 48h1v1h-1zM24 48h1v1h-1zM26 48h1v1h-1zM37 48h1v1h-1zM44 48h1v1h-1zM19 49h1v1h-1zM29 49h1v1h-1zM43 49h1v1h-1zM45 49h1v1h-1zM72 49h1v1h-1z"/>
<path fill="rgb(234,234,244)" d="M11 0h1v1h-1zM19 0h1v1h-1zM42 0h1v1h-1zM57 0h1v1h-1zM72 0h1v1h-1zM75 0h1v1h-1zM83 0h1v1h-1zM1 1h1v1h-1zM7 1h1v1h-1zM58 1h1v1h-1zM74 1h1v1h-1zM83 1h2v1h-2zM106 1h1v1h-1zM9 2h1v1h-1zM12 2h1v1h-1zM27 2h1v1h-1zM30 2h1v1h-1zM59 2h1v1h-1zM66 2h1v1h-1zM70 2h1v1h-1zM75 2h1v1h-1zM88 2h1v1h-1zM90 2h1v1h-1zM98 2h1v1h-1zM0 3h1v1h-1zM3 3h1v1h-1zM5 3h1v1h-1zM7 3h1v1h-1zM12 3h1v1h-1zM19 3h1v1h-1zM24 3h1v1h-1zM32 3h1v1h-1zM39 3h1v1h-1zM56 3h1v1h-1zM74 3h1v1h-1zM106 3h1v1h-1zM60 4h1v1h-1zM67 4h1v1h-1zM79 4h1v1h-1zM85 4h1v1h-1zM96 4h1v1h-1zM98 4h1v1h-1zM30 5h1v1h-1zM95 5h1v1h-1zM98 5h1v1h-1zM80 6h1v1h-1zM97 6h1v1h-1zM1 7h1v1h-1zM7 7h1v1h-1zM30 7h1v1h-1zM9 8h1v1h-1zM30 8h1v1h-1zM49 8h1v1h-1zM19 9h1v1h-1zM39 9h1v1h-1zM49 9h1v1h-1zM59 9h1v1h-1zM75 9h1v1h-1zM95 9h1v1h-1zM97 9h1v1h-1zM5 10h1v1h-1zM57 10h1v1h-1zM59 10h1v1h-1zM64 10h1v1h-1zM68 10h1v1h-1zM95 10h1v1h-1zM97 10h1v1h-1zM3 11h1v1h-1zM8 11h1v1h-1zM34 11h1v1h-1zM45 11h1v1h-1zM65 11h1v1h-1zM71 11h1v1h-1zM88 11h1v1h-1zM5 12h1v1h-1zM28 12h1v1h-1zM62 12h1v1h-1zM80 12h1v1h-1zM106 12h1v1h-1zM108 12h1v1h-1zM4 13h1v1h-1zM20 13h1v1h-1zM39 13h1v1h-1zM60 13h1v1h-1zM73 13h1v1h-1zM92 13h1v1h-1zM96 13h1v1h-1zM98 13h1v1h-1zM40 14h1v1h-1zM67 14h1v1h-1zM85 14h1v1h-1zM90 14h1v1h-1zM106 14h1v1h-1zM53 15h1v1h-1zM68 15h1v1h-1zM88 15h1v1h-1zM91 15h1v1h-1zM94 15h1v1h-1zM8 16h2v1h-2zM19 16h1v1h-1zM39 16h1v1h-1zM49 16h1v1h-1zM85 16h1v1h-1zM88 16h1v1h-1zM7 17h2v1h-2zM28 17h1v1h-1zM74 17h1v1h-1zM5 18h1v1h-1zM15 18h1v1h-1zM24 18h1v1h-1zM41 18h1v1h-1zM63 18h1v1h-1zM77 18h1v1h-1zM79 18h1v1h-1zM81 18h1v1h-1zM98 18h1v1h-1zM64 19h1v1h-1zM83 19h1v1h-1zM94 19h2v1h-2zM99 19h1v1h-1zM28 20h1v1h-1zM79 20h1v1h-1zM86 20h1v1h-1zM1 21h1v1h-1zM9 21h1v1h-1zM59 21h1v1h-1zM69 21h1v1h-1zM79 21h1v1h-1zM3 22h1v1h-1zM14 22h1v1h-1zM30 22h1v1h-1zM45 22h1v1h-1zM72 22h2v1h-2zM95 22h1v1h-1zM106 22h1v1h-1zM32 23h1v1h-1zM76 23h1v1h-1zM80 23h1v1h-1zM7 24h1v1h-1zM39 24h1v1h-1zM73 24h1v1h-1zM83 24h1v1h-1zM2 25h1v1h-1zM11 25h1v1h-1zM15 25h1v1h-1zM24 25h1v1h-1zM29 25h1v1h-1zM64 25h2v1h-2zM3 26h1v1h-1zM10 26h1v1h-1zM58 26h1v1h-1zM63 26h1v1h-1zM2 27h1v1h-1zM9 27h1v1h-1zM60 27h1v1h-1zM66 27h1v1h-1zM72 27h1v1h-1zM0 28h1v1h-1zM17 28h1v1h-1zM32 28h1v1h-1zM62 28h1v1h-1zM64 28h1v1h-1zM8 29h1v1h-1zM10 29h1v1h-1zM20 29h1v1h-1zM23 29h1v1h-1zM54 29h1v1h-1zM61 29h2v1h-2zM105 29h1v1h-1zM3 30h1v1h-1zM8 30h1v1h-1zM11 30h1v1h-1zM17 30h1v1h-1zM21 30h1v1h-1zM35 30h1v1h-1zM60 30h1v1h-1zM66 30h1v1h-1zM72 30h1v1h-1zM0 31h1v1h-1zM10 31h1v1h-1zM25 31h1v1h-1zM27 31h1v1h-1zM46 31h1v1h-1zM48 31h1v1h-1zM57 31h1v1h-1zM106 31h1v1h-1zM8 32h1v1h-1zM23 32h3v1h-3zM36 32h1v1h-1zM42 32h1v1h-1zM58 32h1v1h-1zM64 32h1v1h-1zM66 32h1v1h-1zM105 32h1v1h-1zM8 33h1v1h-1zM26 33h1v1h-1zM36 33h1v1h-1zM48 33h1v1h-1zM65 33h1v1h-1zM8 34h1v1h-1zM20 34h2v1h-2zM29 34h1v1h-1zM61 34h1v1h-1zM105 34h1v1h-1zM108 34h1v1h-1zM20 35h1v1h-1zM33 35h1v1h-1zM64 35h1v1h-1zM105 35h1v1h-1zM3 36h1v1h-1zM23 36h1v1h-1zM36 36h1v1h-1zM50 36h1v1h-1zM60 36h1v1h-1zM14 37h1v1h-1zM17 37h1v1h-1zM26 37h1v1h-1zM50 37h1v1h-1zM60 37h1v1h-1zM105 37h1v1h-1zM10 38h1v1h-1zM29 38h1v1h-1zM35 38h1v1h-1zM62 38h1v1h-1zM9 39h1v1h-1zM11 39h1v1h-1zM46 39h1v1h-1zM52 39h1v1h-1zM63 39h1v1h-1zM105 39h1v1h-1zM10 40h1v1h-1zM35 40h1v1h-1zM42 40h1v1h-1zM106 40h1v1h-1zM4 41h1v1h-1zM69 41h1v1h-1zM106 41h1v1h-1zM48 42h1v1h-1zM52 42h1v1h-1zM54 42h1v1h-1zM11 43h1v1h-1zM16 43h1v1h-1zM35 43h1v1h-1zM54 43h1v1h-1zM72 43h1v1h-1zM15 44h1v1h-1zM22 44h1v1h-1zM38 44h1v1h-1zM50 44h2v1h-2zM53 44h2v1h-2zM59 44h1v1h-1zM11 45h1v1h-1zM29 45h1v1h-1zM48 45h1v1h-1zM90 45h1v1h-1zM11 46h1v1h-1zM31 46h1v1h-1zM33 46h1v1h-1zM36 46h1v1h-1zM69 46h1v1h-1zM81 46h1v1h-1zM108 46h1v1h-1zM26 47h1v1h-1zM57 47h1v1h-1zM67 47h2v1h-2zM84 47h1v1h-1zM9 48h1v1h-1zM29 48h1v1h-1zM43 48h1v1h-1zM51 48h1v1h-1zM56 49h1v1h-1zM70 49h1v1h-1zM109 49h1v1h-1z"/>
<path fill="rgb(255,255,255)" d="M1 0h1v1h-1zM4 0h3v1h-3zM12 0h1v1h-1zM15 0h1v1h-1zM22 0h1v1h-1zM28 0h1v1h-1zM31 0h1v1h-1zM9 1h1v1h-1zM13 1h1v1h-1zM17 1h2v1h-2zM27 1h1v1h-1zM39 1h1v1h-1zM42 1h1v1h-1zM65 1h1v1h-1zM76 1h1v1h-1zM97 1h1v1h-1zM99 1h1v1h-1zM108 1h1v1h-1zM3 2h1v1h-1zM13 2h1v1h-1zM6 3h1v1h-1zM14 3h1v1h-1zM17 3h1v1h-1zM20 3h1v1h-1zM25 3h1v1h-1zM28 3h1v1h-1zM43 3h1v1h-1zM53 3h2v1h-2zM0 4h1v1h-1zM3 4h1v1h-1zM7 4h1v1h-1zM22 4h1v1h-1zM39 4h3v1h-3zM74 4h1v1h-1zM95 4h1v1h-1zM19 5h1v1h-1zM57 5h1v1h-1zM64 5h1v1h-1zM67 5h1v1h-1zM79 5h1v1h-1zM83 5h1v1h-1zM89 5h1v1h-1zM97 5h1v1h-1zM5 6h1v1h-1zM73 6h1v1h-1zM76 6h1v1h-1zM95 6h2v1h-2zM10 7h1v1h-1zM20 7h1v1h-1zM22 7h1v1h-1zM25 7h1v1h-1zM27 7h1v1h-1zM32 7h1v1h-1zM56 7h1v1h-1zM83 7h1v1h-1zM17 8h2v1h-2zM47 8h1v1h-1zM72 8h1v1h-1zM75 8h1v1h-1zM97 8h1v1h-1zM1 9h1v1h-1zM99 9h1v1h-1zM19 10h1v1h-1zM75 10h1v1h-1zM79 10h1v1h-1zM85 10h1v1h-1zM98 10h1v1h-1zM7 11h1v1h-1zM30 11h1v1h-1zM59 11h1v1h-1zM64 11h1v1h-1zM75 11h1v1h-1zM1 12h1v1h-1zM6 12h1v1h-1zM17 12h1v1h-1zM32 12h1v1h-1zM53 12h1v1h-1zM72 12h1v1h-1zM6 13h1v1h-1zM70 13h1v1h-1zM74 13h1v1h-1zM80 13h1v1h-1zM106 13h1v1h-1zM9 14h1v1h-1zM19 14h1v1h-1zM30 14h1v1h-1zM83 14h1v1h-1zM4 15h1v1h-1zM60 15h2v1h-2zM78 15h1v1h-1zM89 15h1v1h-1zM99 15h1v1h-1zM5 16h1v1h-1zM10 16h1v1h-1zM17 16h1v1h-1zM28 16h1v1h-1zM44 16h1v1h-1zM89 16h1v1h-1zM12 17h1v1h-1zM31 17h1v1h-1zM33 17h1v1h-1zM62 17h1v1h-1zM73 17h1v1h-1zM96 17h1v1h-1zM8 18h1v1h-1zM13 18h1v1h-1zM18 18h2v1h-2zM34 18h1v1h-1zM37 18h1v1h-1zM65 18h1v1h-1zM7 19h1v1h-1zM59 19h1v1h-1zM75 19h1v1h-1zM88 19h1v1h-1zM97 19h1v1h-1zM5 20h1v1h-1zM7 20h1v1h-1zM12 20h1v1h-1zM30 20h2v1h-2zM42 20h1v1h-1zM60 20h1v1h-1zM80 20h1v1h-1zM90 20h1v1h-1zM30 21h1v1h-1zM32 21h1v1h-1zM44 21h2v1h-2zM49 21h1v1h-1zM62 21h1v1h-1zM91 21h2v1h-2zM9 22h1v1h-1zM18 22h1v1h-1zM27 22h1v1h-1zM37 22h1v1h-1zM40 22h1v1h-1zM42 22h1v1h-1zM5 23h1v1h-1zM7 23h1v1h-1zM10 23h1v1h-1zM21 23h1v1h-1zM28 23h1v1h-1zM30 23h1v1h-1zM39 23h1v1h-1zM42 23h1v1h-1zM32 24h1v1h-1zM49 24h1v1h-1zM51 24h1v1h-1zM88 24h1v1h-1zM38 25h1v1h-1zM54 25h1v1h-1zM60 25h1v1h-1zM72 25h1v1h-1zM16 26h1v1h-1zM19 26h1v1h-1zM22 26h1v1h-1zM55 26h1v1h-1zM62 26h1v1h-1zM106 26h1v1h-1zM4 27h1v1h-1zM17 27h1v1h-1zM55 27h1v1h-1zM4 28h1v1h-1zM9 28h1v1h-1zM25 28h1v1h-1zM48 28h1v1h-1zM65 28h1v1h-1zM36 29h1v1h-1zM64 29h1v1h-1zM0 30h1v1h-1zM36 30h1v1h-1zM64 30h1v1h-1zM15 31h1v1h-1zM17 31h1v1h-1zM52 31h1v1h-1zM60 31h1v1h-1zM2 32h1v1h-1zM19 32h1v1h-1zM33 32h1v1h-1zM55 32h1v1h-1zM60 32h2v1h-2zM0 33h1v1h-1zM18 33h1v1h-1zM22 33h1v1h-1zM55 33h1v1h-1zM66 33h1v1h-1zM5 34h1v1h-1zM16 34h1v1h-1zM55 34h1v1h-1zM59 34h1v1h-1zM65 34h1v1h-1zM4 35h1v1h-1zM6 35h1v1h-1zM8 35h1v1h-1zM11 35h1v1h-1zM16 35h1v1h-1zM42 35h1v1h-1zM104 35h1v1h-1zM24 36h1v1h-1zM81 36h1v1h-1zM4 37h1v1h-1zM18 37h1v1h-1zM57 37h1v1h-1zM109 37h1v1h-1zM0 38h1v1h-1zM6 38h1v1h-1zM55 38h1v1h-1zM4 39h1v1h-1zM48 39h1v1h-1zM9 40h1v1h-1zM52 40h1v1h-1zM56 40h1v1h-1zM59 40h1v1h-1zM68 40h1v1h-1zM87 40h1v1h-1zM16 41h1v1h-1zM52 41h1v1h-1zM90 41h1v1h-1zM109 41h1v1h-1zM3 42h1v1h-1zM16 42h1v1h-1zM62 42h1v1h-1zM82 42h1v1h-1zM2 43h1v1h-1zM4 43h1v1h-1zM59 43h1v1h-1zM69 43h1v1h-1zM76 43h1v1h-1zM4 44h1v1h-1zM16 44h1v1h-1zM41 44h1v1h-1zM70 44h1v1h-1zM72 44h1v1h-1zM0 45h1v1h-1zM16 45h1v1h-1zM25 45h1v1h-1zM55 45h1v1h-1zM105 45h1v1h-1zM55 46h1v1h-1zM78 46h1v1h-1zM86 46h1v1h-1zM90 46h1v1h-1zM6 47h1v1h-1zM9 47h1v1h-1zM55 47h1v1h-1zM58 47h1v1h-1zM65 47h1v1h-1zM72 47h1v1h-1zM77 47h3v1h-3zM0 48h1v1h-1zM3 48h2v1h-2zM27 48h1v1h-1zM31 48h1v1h-1zM46 48h1v1h-1zM72 48h1v1h-1zM2 49h2v1h-2zM10 49h1v1h-1zM27 49h1v1h-1zM36 49h1v1h-1zM63 49h1v1h-1z"/>
<path fill="rgb(251,237,237)" d="M2 0h1v1h-1zM8 0h1v1h-1zM30 0h1v1h-1zM39 0h1v1h-1zM43 0h1v1h-1zM52 0h1v1h-1zM62 0h1v1h-1zM79 0h2v1h-2zM0 1h1v1h-1zM21 1h1v1h-1zM94 1h1v1h-1zM0 2h2v1h-2zM23 2h1v1h-1zM44 2h1v1h-1zM52 2h1v1h-1zM83 2h1v1h-1zM106 2h1v1h-1zM22 3h2v1h-2zM35 3h1v1h-1zM37 3h1v1h-1zM40 3h1v1h-1zM45 3h1v1h-1zM51 3h1v1h-1zM62 3h1v1h-1zM6 4h1v1h-1zM28 4h2v1h-2zM33 4h1v1h-1zM88 4h1v1h-1zM108 4h1v1h-1zM4 5h1v1h-1zM6 5h1v1h-1zM80 5h1v1h-1zM7 6h1v1h-1zM13 6h1v1h-1zM24 6h1v1h-1zM33 6h1v1h-1zM39 6h1v1h-1zM45 6h1v1h-1zM83 6h1v1h-1zM14 7h1v1h-1zM39 7h1v1h-1zM44 7h1v1h-1zM49 7h1v1h-1zM27 8h1v1h-1zM62 8h1v1h-1zM73 8h1v1h-1zM89 8h1v1h-1zM91 8h1v1h-1zM3 9h1v1h-1zM17 9h1v1h-1zM32 9h1v1h-1zM70 9h1v1h-1zM89 9h1v1h-1zM1 10h1v1h-1zM9 10h1v1h-1zM13 10h1v1h-1zM60 10h1v1h-1zM72 10h3v1h-3zM77 10h1v1h-1zM96 10h1v1h-1zM99 10h1v1h-1zM108 10h1v1h-1zM2 11h1v1h-1zM39 11h2v1h-2zM19 12h1v1h-1zM21 12h1v1h-1zM30 12h1v1h-1zM34 12h1v1h-1zM56 12h1v1h-1zM73 12h1v1h-1zM83 12h1v1h-1zM5 13h1v1h-1zM13 13h1v1h-1zM47 13h1v1h-1zM71 13h2v1h-2zM91 13h1v1h-1zM1 14h2v1h-2zM11 14h1v1h-1zM18 14h1v1h-1zM20 14h1v1h-1zM42 14h1v1h-1zM45 14h1v1h-1zM62 14h1v1h-1zM15 15h1v1h-1zM28 15h1v1h-1zM75 15h1v1h-1zM83 15h1v1h-1zM92 15h1v1h-1zM106 15h1v1h-1zM108 15h1v1h-1zM13 16h1v1h-1zM29 16h1v1h-1zM43 16h1v1h-1zM47 16h1v1h-1zM51 16h1v1h-1zM59 16h1v1h-1zM65 16h1v1h-1zM73 16h1v1h-1zM83 16h1v1h-1zM17 17h2v1h-2zM30 17h1v1h-1zM34 17h2v1h-2zM45 17h1v1h-1zM66 17h1v1h-1zM88 17h1v1h-1zM0 18h2v1h-2zM4 18h1v1h-1zM9 18h1v1h-1zM29 18h1v1h-1zM33 18h1v1h-1zM53 18h1v1h-1zM55 18h1v1h-1zM67 18h1v1h-1zM72 18h1v1h-1zM76 18h1v1h-1zM83 18h1v1h-1zM88 18h1v1h-1zM91 18h1v1h-1zM4 19h1v1h-1zM22 19h1v1h-1zM30 19h1v1h-1zM40 19h1v1h-1zM49 19h1v1h-1zM1 20h1v1h-1zM6 20h1v1h-1zM13 20h1v1h-1zM40 20h1v1h-1zM43 20h1v1h-1zM45 20h1v1h-1zM6 21h2v1h-2zM11 21h1v1h-1zM16 21h4v1h-4zM28 21h1v1h-1zM31 21h1v1h-1zM60 21h1v1h-1zM73 21h1v1h-1zM85 21h1v1h-1zM8 22h1v1h-1zM23 22h1v1h-1zM43 22h1v1h-1zM56 22h1v1h-1zM0 23h1v1h-1zM4 23h1v1h-1zM8 23h1v1h-1zM20 23h1v1h-1zM22 23h1v1h-1zM34 23h1v1h-1zM37 23h1v1h-1zM43 23h1v1h-1zM50 23h1v1h-1zM1 24h1v1h-1zM13 24h1v1h-1zM24 24h1v1h-1zM30 24h2v1h-2zM47 24h1v1h-1zM4 25h1v1h-1zM10 25h1v1h-1zM25 25h1v1h-1zM66 25h1v1h-1zM107 25h2v1h-2zM4 26h1v1h-1zM14 27h1v1h-1zM22 27h1v1h-1zM25 27h1v1h-1zM57 27h1v1h-1zM65 27h1v1h-1zM93 27h1v1h-1zM106 27h1v1h-1zM15 28h1v1h-1zM57 28h1v1h-1zM61 28h1v1h-1zM107 28h1v1h-1zM17 29h1v1h-1zM25 29h1v1h-1zM70 29h1v1h-1zM104 29h1v1h-1zM2 30h1v1h-1zM10 30h1v1h-1zM38 30h1v1h-1zM95 30h1v1h-1zM97 30h1v1h-1zM106 30h1v1h-1zM11 31h1v1h-1zM23 31h1v1h-1zM36 31h1v1h-1zM56 31h1v1h-1zM61 31h1v1h-1zM63 31h1v1h-1zM104 31h2v1h-2zM10 32h1v1h-1zM22 32h1v1h-1zM17 33h1v1h-1zM20 33h1v1h-1zM23 33h3v1h-3zM60 33h2v1h-2zM108 33h1v1h-1zM11 34h1v1h-1zM22 34h1v1h-1zM58 34h1v1h-1zM72 34h1v1h-1zM2 36h1v1h-1zM10 36h1v1h-1zM11 37h1v1h-1zM22 37h1v1h-1zM24 37h1v1h-1zM62 37h4v1h-4zM72 37h1v1h-1zM106 37h3v1h-3zM44 38h1v1h-1zM71 38h2v1h-2zM98 38h1v1h-1zM103 38h1v1h-1zM6 39h2v1h-2zM21 39h1v1h-1zM33 39h1v1h-1zM85 39h1v1h-1zM87 39h1v1h-1zM90 39h1v1h-1zM100 39h1v1h-1zM107 39h1v1h-1zM7 40h1v1h-1zM36 40h1v1h-1zM85 40h1v1h-1zM90 40h1v1h-1zM107 40h1v1h-1zM109 40h1v1h-1zM71 41h1v1h-1zM77 41h1v1h-1zM82 41h1v1h-1zM85 41h1v1h-1zM5 42h1v1h-1zM9 42h1v1h-1zM61 42h1v1h-1zM72 42h1v1h-1zM86 42h1v1h-1zM105 42h1v1h-1zM0 43h1v1h-1zM48 43h1v1h-1zM105 43h1v1h-1zM109 43h1v1h-1zM3 44h1v1h-1zM20 44h2v1h-2zM62 44h1v1h-1zM105 44h1v1h-1zM5 45h1v1h-1zM37 45h1v1h-1zM56 45h1v1h-1zM72 45h1v1h-1zM81 45h1v1h-1zM85 45h1v1h-1zM2 46h1v1h-1zM4 46h1v1h-1zM56 46h1v1h-1zM64 46h1v1h-1zM70 46h1v1h-1zM76 46h1v1h-1zM92 46h1v1h-1zM36 47h1v1h-1zM75 47h1v1h-1zM80 47h1v1h-1zM90 47h1v1h-1zM100 47h1v1h-1zM107 47h1v1h-1zM2 48h1v1h-1zM10 48h1v1h-1zM38 48h1v1h-1zM48 48h1v1h-1zM79 48h1v1h-1zM109 48h1v1h-1zM1 49h1v1h-1zM4 49h1v1h-1z"/>
<path fill="rgb(247,219,219)" d="M20 0h2v1h-2zM23 0h1v1h-1zM40 0h2v1h-2zM45 0h1v1h-1zM51 0h1v1h-1zM89 0h1v1h-1zM108 0h1v1h-1zM45 1h1v1h-1zM47 1h1v1h-1zM49 1h1v1h-1zM54 1h1v1h-1zM75 1h1v1h-1zM5 2h1v1h-1zM14 2h1v1h-1zM20 2h2v1h-2zM28 2h1v1h-1zM32 2h1v1h-1zM39 2h1v1h-1zM47 2h1v1h-1zM53 2h2v1h-2zM62 2h1v1h-1zM31 3h1v1h-1zM41 3h1v1h-1zM47 3h1v1h-1zM50 3h1v1h-1zM1 4h1v1h-1zM8 4h1v1h-1zM11 4h1v1h-1zM13 4h1v1h-1zM18 4h2v1h-2zM53 4h1v1h-1zM83 4h1v1h-1zM89 4h1v1h-1zM7 5h1v1h-1zM12 5h1v1h-1zM23 5h1v1h-1zM27 5h1v1h-1zM53 5h1v1h-1zM65 5h1v1h-1zM71 5h1v1h-1zM91 5h1v1h-1zM1 6h1v1h-1zM3 6h1v1h-1zM8 7h1v1h-1zM11 7h1v1h-1zM21 7h1v1h-1zM23 7h1v1h-1zM34 7h2v1h-2zM42 7h2v1h-2zM46 7h1v1h-1zM62 7h1v1h-1zM106 7h1v1h-1zM1 8h1v1h-1zM12 8h1v1h-1zM32 8h2v1h-2zM35 8h1v1h-1zM45 8h1v1h-1zM51 8h1v1h-1zM56 8h1v1h-1zM74 8h1v1h-1zM8 9h1v1h-1zM24 9h1v1h-1zM31 9h1v1h-1zM33 9h1v1h-1zM72 9h1v1h-1zM6 10h1v1h-1zM10 10h1v1h-1zM28 10h1v1h-1zM30 10h1v1h-1zM65 10h1v1h-1zM106 10h1v1h-1zM5 11h1v1h-1zM12 11h1v1h-1zM15 11h1v1h-1zM37 11h1v1h-1zM47 11h1v1h-1zM50 11h1v1h-1zM72 11h1v1h-1zM0 12h1v1h-1zM7 12h1v1h-1zM23 12h1v1h-1zM60 12h1v1h-1zM88 12h1v1h-1zM0 13h1v1h-1zM3 13h1v1h-1zM34 13h1v1h-1zM42 13h1v1h-1zM49 13h1v1h-1zM53 13h1v1h-1zM56 13h1v1h-1zM76 13h1v1h-1zM88 13h1v1h-1zM97 13h1v1h-1zM0 14h1v1h-1zM8 14h1v1h-1zM21 14h1v1h-1zM25 14h1v1h-1zM34 14h2v1h-2zM80 14h1v1h-1zM98 14h1v1h-1zM6 15h2v1h-2zM9 15h1v1h-1zM34 15h1v1h-1zM45 15h1v1h-1zM57 15h1v1h-1zM2 16h1v1h-1zM12 16h1v1h-1zM20 16h1v1h-1zM35 16h1v1h-1zM40 16h1v1h-1zM52 16h1v1h-1zM56 16h1v1h-1zM1 17h2v1h-2zM6 17h1v1h-1zM19 17h1v1h-1zM21 17h1v1h-1zM23 17h1v1h-1zM37 17h1v1h-1zM40 17h1v1h-1zM44 17h1v1h-1zM79 17h2v1h-2zM6 18h1v1h-1zM11 18h1v1h-1zM20 18h2v1h-2zM30 18h1v1h-1zM39 18h1v1h-1zM59 18h1v1h-1zM12 19h1v1h-1zM28 19h1v1h-1zM57 19h1v1h-1zM3 20h1v1h-1zM15 20h1v1h-1zM18 20h1v1h-1zM20 20h1v1h-1zM25 20h1v1h-1zM29 20h1v1h-1zM32 20h1v1h-1zM39 20h1v1h-1zM56 20h1v1h-1zM72 20h1v1h-1zM85 20h1v1h-1zM96 20h1v1h-1zM5 21h1v1h-1zM15 21h1v1h-1zM27 21h1v1h-1zM29 21h1v1h-1zM39 21h2v1h-2zM46 21h1v1h-1zM75 21h1v1h-1zM88 21h1v1h-1zM0 22h1v1h-1zM12 22h1v1h-1zM20 22h1v1h-1zM33 22h2v1h-2zM18 23h1v1h-1zM41 23h1v1h-1zM44 23h1v1h-1zM46 23h1v1h-1zM49 23h1v1h-1zM56 23h1v1h-1zM2 24h1v1h-1zM8 24h1v1h-1zM19 24h1v1h-1zM23 24h1v1h-1zM25 24h1v1h-1zM33 24h1v1h-1zM16 25h1v1h-1zM57 25h1v1h-1zM97 25h1v1h-1zM103 25h1v1h-1zM2 26h1v1h-1zM6 26h1v1h-1zM105 26h1v1h-1zM107 26h1v1h-1zM69 27h1v1h-1zM104 27h1v1h-1zM14 28h1v1h-1zM66 28h1v1h-1zM93 28h1v1h-1zM106 28h1v1h-1zM11 29h1v1h-1zM16 29h1v1h-1zM107 29h1v1h-1zM1 30h1v1h-1zM9 30h1v1h-1zM16 30h1v1h-1zM62 30h1v1h-1zM82 30h1v1h-1zM93 30h1v1h-1zM100 30h1v1h-1zM1 31h1v1h-1zM58 31h1v1h-1zM69 31h1v1h-1zM90 31h1v1h-1zM107 31h1v1h-1zM9 32h1v1h-1zM11 32h1v1h-1zM17 32h1v1h-1zM1 33h2v1h-2zM4 33h1v1h-1zM14 33h1v1h-1zM16 33h1v1h-1zM57 33h1v1h-1zM64 33h1v1h-1zM9 34h1v1h-1zM25 34h1v1h-1zM60 34h1v1h-1zM62 34h1v1h-1zM66 34h1v1h-1zM69 34h1v1h-1zM106 34h2v1h-2zM1 35h1v1h-1zM57 35h2v1h-2zM60 35h1v1h-1zM62 35h1v1h-1zM65 35h1v1h-1zM72 35h1v1h-1zM82 35h1v1h-1zM108 35h1v1h-1zM4 36h1v1h-1zM13 36h1v1h-1zM61 36h1v1h-1zM93 36h1v1h-1zM97 36h1v1h-1zM100 36h1v1h-1zM103 36h1v1h-1zM92 37h1v1h-1zM3 38h1v1h-1zM16 38h1v1h-1zM48 38h1v1h-1zM84 38h1v1h-1zM109 38h1v1h-1zM2 39h1v1h-1zM5 39h1v1h-1zM55 39h1v1h-1zM70 39h3v1h-3zM81 39h2v1h-2zM92 39h2v1h-2zM106 39h1v1h-1zM11 40h1v1h-1zM63 40h1v1h-1zM65 40h1v1h-1zM69 40h1v1h-1zM79 40h1v1h-1zM81 40h2v1h-2zM104 40h1v1h-1zM5 41h2v1h-2zM9 41h1v1h-1zM55 41h1v1h-1zM62 41h1v1h-1zM66 41h1v1h-1zM75 41h1v1h-1zM89 41h1v1h-1zM91 41h1v1h-1zM93 41h1v1h-1zM6 42h1v1h-1zM8 42h1v1h-1zM11 42h1v1h-1zM13 42h1v1h-1zM36 42h1v1h-1zM69 42h2v1h-2zM71 43h1v1h-1zM82 43h1v1h-1zM2 44h1v1h-1zM9 44h1v1h-1zM14 44h1v1h-1zM29 44h1v1h-1zM71 45h1v1h-1zM82 45h2v1h-2zM94 45h1v1h-1zM5 46h1v1h-1zM12 46h1v1h-1zM67 46h1v1h-1zM72 46h1v1h-1zM74 46h1v1h-1zM82 46h1v1h-1zM84 46h1v1h-1zM100 46h1v1h-1zM104 46h2v1h-2zM107 46h1v1h-1zM109 46h1v1h-1zM5 47h1v1h-1zM56 47h1v1h-1zM74 47h1v1h-1zM82 47h1v1h-1zM86 47h1v1h-1zM104 47h1v1h-1zM106 47h1v1h-1zM35 48h1v1h-1zM70 48h1v1h-1zM76 48h1v1h-1zM82 48h1v1h-1zM87 48h1v1h-1zM105 48h2v1h-2zM6 49h1v1h-1zM11 49h1v1h-1zM61 49h1v1h-1zM66 49h1v1h-1zM69 49h1v1h-1zM71 49h1v1h-1zM81 49h1v1h-1zM84 49h1v1h-1zM87 49h1v1h-1zM107 49h1v1h-1z"/>
<path fill="rgb(242,201,201)" d="M29 0h1v1h-1zM56 0h1v1h-1zM23 1h1v1h-1zM29 1h2v1h-2zM33 1h1v1h-1zM50 1h1v1h-1zM6 2h3v1h-3zM17 2h2v1h-2zM34 2h2v1h-2zM41 2h1v1h-1zM43 2h1v1h-1zM51 2h1v1h-1zM56 2h1v1h-1zM2 3h1v1h-1zM10 3h1v1h-1zM29 3h1v1h-1zM49 3h1v1h-1zM12 4h1v1h-1zM17 4h1v1h-1zM23 4h2v1h-2zM30 4h1v1h-1zM32 4h1v1h-1zM34 4h2v1h-2zM42 4h1v1h-1zM46 4h1v1h-1zM56 4h1v1h-1zM59 4h1v1h-1zM62 4h1v1h-1zM0 5h1v1h-1zM9 5h2v1h-2zM33 5h2v1h-2zM49 5h1v1h-1zM52 5h1v1h-1zM78 5h1v1h-1zM8 6h1v1h-1zM11 6h1v1h-1zM15 6h1v1h-1zM17 6h1v1h-1zM28 6h1v1h-1zM32 6h1v1h-1zM37 6h1v1h-1zM44 6h1v1h-1zM50 6h1v1h-1zM72 6h1v1h-1zM108 6h1v1h-1zM0 7h1v1h-1zM2 7h1v1h-1zM28 7h1v1h-1zM37 7h1v1h-1zM54 7h1v1h-1zM6 8h3v1h-3zM13 8h2v1h-2zM19 8h3v1h-3zM24 8h1v1h-1zM34 8h1v1h-1zM52 8h1v1h-1zM83 8h1v1h-1zM0 9h1v1h-1zM7 9h1v1h-1zM12 9h1v1h-1zM14 9h2v1h-2zM38 9h1v1h-1zM40 9h1v1h-1zM108 9h1v1h-1zM39 10h1v1h-1zM43 10h1v1h-1zM62 10h1v1h-1zM88 10h2v1h-2zM0 11h2v1h-2zM10 11h1v1h-1zM17 11h1v1h-1zM27 11h1v1h-1zM42 11h1v1h-1zM44 11h1v1h-1zM56 11h1v1h-1zM83 11h1v1h-1zM10 12h1v1h-1zM12 12h1v1h-1zM14 12h1v1h-1zM20 12h1v1h-1zM27 12h1v1h-1zM33 12h1v1h-1zM35 12h1v1h-1zM39 12h1v1h-1zM43 12h1v1h-1zM45 12h1v1h-1zM47 12h1v1h-1zM50 12h1v1h-1zM30 13h1v1h-1zM38 13h1v1h-1zM85 13h1v1h-1zM12 14h1v1h-1zM14 14h2v1h-2zM24 14h1v1h-1zM28 14h1v1h-1zM46 14h1v1h-1zM72 14h1v1h-1zM5 15h1v1h-1zM10 15h3v1h-3zM24 15h1v1h-1zM32 15h1v1h-1zM37 15h1v1h-1zM39 15h1v1h-1zM42 15h1v1h-1zM47 15h1v1h-1zM73 15h1v1h-1zM11 16h1v1h-1zM14 16h1v1h-1zM18 16h1v1h-1zM25 16h2v1h-2zM37 16h1v1h-1zM42 16h1v1h-1zM53 16h1v1h-1zM108 16h1v1h-1zM3 17h1v1h-1zM11 17h1v1h-1zM22 17h1v1h-1zM25 17h1v1h-1zM41 17h2v1h-2zM2 18h2v1h-2zM7 18h1v1h-1zM32 18h1v1h-1zM43 18h2v1h-2zM47 18h1v1h-1zM50 18h1v1h-1zM84 18h1v1h-1zM106 18h1v1h-1zM3 19h1v1h-1zM5 19h1v1h-1zM18 19h1v1h-1zM25 19h1v1h-1zM43 19h1v1h-1zM47 19h1v1h-1zM108 19h1v1h-1zM33 20h1v1h-1zM35 20h1v1h-1zM51 20h1v1h-1zM88 20h1v1h-1zM2 21h1v1h-1zM21 21h1v1h-1zM37 21h1v1h-1zM41 21h1v1h-1zM53 21h1v1h-1zM65 21h1v1h-1zM25 22h1v1h-1zM38 22h1v1h-1zM48 22h1v1h-1zM51 22h2v1h-2zM62 22h1v1h-1zM1 23h1v1h-1zM3 23h1v1h-1zM15 23h1v1h-1zM17 23h1v1h-1zM19 23h1v1h-1zM24 23h1v1h-1zM31 23h1v1h-1zM38 23h1v1h-1zM47 23h1v1h-1zM51 23h1v1h-1zM11 24h1v1h-1zM17 24h1v1h-1zM20 24h1v1h-1zM22 24h1v1h-1zM27 24h1v1h-1zM42 24h1v1h-1zM53 24h2v1h-2zM56 24h1v1h-1zM9 25h1v1h-1zM77 25h1v1h-1zM25 26h1v1h-1zM60 26h1v1h-1zM64 26h1v1h-1zM66 26h1v1h-1zM108 26h1v1h-1zM78 27h1v1h-1zM100 27h1v1h-1zM108 27h1v1h-1zM2 28h1v1h-1zM10 28h1v1h-1zM36 28h1v1h-1zM103 28h1v1h-1zM108 28h1v1h-1zM2 29h1v1h-1zM4 29h1v1h-1zM9 29h1v1h-1zM72 29h1v1h-1zM6 30h1v1h-1zM22 30h1v1h-1zM69 30h1v1h-1zM91 30h1v1h-1zM103 30h2v1h-2zM2 31h1v1h-1zM5 31h1v1h-1zM65 31h1v1h-1zM67 31h1v1h-1zM4 32h1v1h-1zM6 32h1v1h-1zM9 33h1v1h-1zM11 33h1v1h-1zM58 33h1v1h-1zM71 34h1v1h-1zM81 34h1v1h-1zM100 34h1v1h-1zM3 35h1v1h-1zM5 35h1v1h-1zM9 35h1v1h-1zM78 35h1v1h-1zM1 36h1v1h-1zM6 36h1v1h-1zM9 36h1v1h-1zM104 36h1v1h-1zM2 37h1v1h-1zM10 37h1v1h-1zM20 37h1v1h-1zM25 37h1v1h-1zM61 37h1v1h-1zM70 37h1v1h-1zM1 38h1v1h-1zM4 38h1v1h-1zM9 38h1v1h-1zM36 38h1v1h-1zM52 38h1v1h-1zM58 38h1v1h-1zM68 38h1v1h-1zM70 38h1v1h-1zM81 38h2v1h-2zM86 38h1v1h-1zM104 38h1v1h-1zM1 39h1v1h-1zM16 39h1v1h-1zM56 39h1v1h-1zM65 39h1v1h-1zM67 39h1v1h-1zM75 39h1v1h-1zM83 39h1v1h-1zM109 39h1v1h-1zM55 40h1v1h-1zM67 40h1v1h-1zM71 40h1v1h-1zM86 40h1v1h-1zM100 40h1v1h-1zM13 41h1v1h-1zM36 41h1v1h-1zM56 41h2v1h-2zM60 41h1v1h-1zM63 41h1v1h-1zM67 41h1v1h-1zM92 41h1v1h-1zM94 41h1v1h-1zM100 41h1v1h-1zM104 41h2v1h-2zM108 41h1v1h-1zM73 42h1v1h-1zM89 42h1v1h-1zM107 42h1v1h-1zM5 43h1v1h-1zM36 43h1v1h-1zM93 43h1v1h-1zM107 43h1v1h-1zM77 44h2v1h-2zM62 45h1v1h-1zM109 45h1v1h-1zM6 46h1v1h-1zM62 46h2v1h-2zM68 46h1v1h-1zM77 46h1v1h-1zM94 46h1v1h-1zM60 47h1v1h-1zM63 47h1v1h-1zM66 47h1v1h-1zM70 47h1v1h-1zM76 47h1v1h-1zM83 47h1v1h-1zM98 47h1v1h-1zM103 47h1v1h-1zM5 48h2v1h-2zM16 48h1v1h-1zM41 48h1v1h-1zM58 48h1v1h-1zM61 48h1v1h-1zM66 48h1v1h-1zM93 48h1v1h-1zM104 48h1v1h-1zM55 49h1v1h-1zM64 49h1v1h-1zM68 49h1v1h-1zM77 49h1v1h-1zM79 49h1v1h-1zM86 49h1v1h-1zM105 49h2v1h-2z"/>
<path fill="rgb(238,183,183)" d="M13 0h1v1h-1zM18 0h1v1h-1zM27 0h1v1h-1zM37 0h2v1h-2zM44 0h1v1h-1zM46 0h1v1h-1zM49 0h1v1h-1zM53 0h2v1h-2zM11 1h1v1h-1zM19 1h1v1h-1zM24 1h2v1h-2zM35 1h1v1h-1zM43 1h2v1h-2zM53 1h1v1h-1zM62 1h1v1h-1zM2 2h1v1h-1zM25 2h1v1h-1zM29 2h1v1h-1zM40 2h1v1h-1zM42 2h1v1h-1zM45 2h1v1h-1zM16 3h1v1h-1zM18 3h1v1h-1zM26 3h1v1h-1zM46 3h1v1h-1zM14 4h1v1h-1zM47 4h1v1h-1zM52 4h1v1h-1zM80 4h1v1h-1zM5 5h1v1h-1zM8 5h1v1h-1zM13 5h1v1h-1zM18 5h1v1h-1zM25 5h1v1h-1zM32 5h1v1h-1zM39 5h1v1h-1zM42 5h1v1h-1zM88 5h1v1h-1zM106 5h1v1h-1zM108 5h1v1h-1zM0 6h1v1h-1zM6 6h1v1h-1zM12 6h1v1h-1zM20 6h1v1h-1zM26 6h1v1h-1zM38 6h1v1h-1zM43 6h1v1h-1zM46 6h1v1h-1zM5 7h1v1h-1zM41 7h1v1h-1zM47 7h1v1h-1zM53 7h1v1h-1zM10 8h2v1h-2zM15 8h1v1h-1zM23 8h1v1h-1zM37 8h1v1h-1zM40 8h1v1h-1zM46 8h1v1h-1zM50 8h1v1h-1zM54 8h1v1h-1zM13 9h1v1h-1zM23 9h1v1h-1zM34 9h1v1h-1zM37 9h1v1h-1zM45 9h1v1h-1zM53 9h1v1h-1zM0 10h1v1h-1zM7 10h2v1h-2zM12 10h1v1h-1zM17 10h1v1h-1zM22 10h1v1h-1zM32 10h1v1h-1zM34 10h1v1h-1zM83 10h1v1h-1zM19 11h2v1h-2zM23 11h1v1h-1zM28 11h1v1h-1zM33 11h1v1h-1zM35 11h1v1h-1zM51 11h1v1h-1zM106 11h1v1h-1zM108 11h1v1h-1zM2 12h1v1h-1zM22 12h1v1h-1zM31 12h1v1h-1zM38 12h1v1h-1zM40 12h1v1h-1zM51 12h1v1h-1zM59 12h1v1h-1zM10 13h1v1h-1zM28 13h1v1h-1zM32 13h1v1h-1zM35 13h1v1h-1zM37 13h1v1h-1zM41 13h1v1h-1zM52 13h1v1h-1zM108 13h1v1h-1zM7 14h1v1h-1zM13 14h1v1h-1zM22 14h1v1h-1zM29 14h1v1h-1zM33 14h1v1h-1zM39 14h1v1h-1zM50 14h1v1h-1zM52 14h1v1h-1zM54 14h1v1h-1zM88 14h1v1h-1zM0 15h1v1h-1zM8 15h1v1h-1zM19 15h1v1h-1zM21 15h1v1h-1zM49 15h2v1h-2zM65 15h1v1h-1zM3 16h1v1h-1zM30 16h4v1h-4zM41 16h1v1h-1zM50 16h1v1h-1zM62 16h1v1h-1zM72 16h1v1h-1zM10 17h1v1h-1zM15 17h1v1h-1zM24 17h1v1h-1zM29 17h1v1h-1zM38 17h1v1h-1zM46 17h2v1h-2zM49 17h2v1h-2zM17 18h1v1h-1zM23 18h1v1h-1zM31 18h1v1h-1zM35 18h1v1h-1zM45 18h1v1h-1zM51 18h1v1h-1zM56 18h1v1h-1zM62 18h1v1h-1zM1 19h1v1h-1zM6 19h1v1h-1zM19 19h1v1h-1zM23 19h1v1h-1zM33 19h1v1h-1zM37 19h1v1h-1zM80 19h1v1h-1zM8 20h1v1h-1zM17 20h1v1h-1zM22 20h1v1h-1zM27 20h1v1h-1zM34 20h1v1h-1zM47 20h1v1h-1zM3 21h1v1h-1zM20 21h1v1h-1zM24 21h1v1h-1zM33 21h1v1h-1zM47 21h1v1h-1zM2 22h1v1h-1zM7 22h1v1h-1zM11 22h1v1h-1zM15 22h1v1h-1zM24 22h1v1h-1zM39 22h1v1h-1zM41 22h1v1h-1zM49 22h1v1h-1zM14 23h1v1h-1zM26 23h1v1h-1zM48 23h1v1h-1zM0 24h1v1h-1zM10 24h1v1h-1zM14 24h2v1h-2zM29 24h1v1h-1zM35 24h1v1h-1zM40 24h1v1h-1zM50 24h1v1h-1zM5 25h1v1h-1zM7 25h1v1h-1zM12 25h1v1h-1zM70 25h1v1h-1zM74 25h1v1h-1zM95 25h1v1h-1zM7 26h1v1h-1zM9 26h1v1h-1zM57 26h1v1h-1zM72 26h1v1h-1zM81 26h1v1h-1zM104 26h1v1h-1zM5 27h1v1h-1zM76 27h1v1h-1zM81 27h1v1h-1zM95 27h2v1h-2zM6 28h1v1h-1zM101 28h1v1h-1zM7 29h1v1h-1zM67 29h1v1h-1zM76 29h1v1h-1zM97 29h1v1h-1zM4 31h1v1h-1zM21 31h1v1h-1zM72 31h1v1h-1zM93 31h1v1h-1zM95 31h1v1h-1zM100 31h1v1h-1zM7 34h1v1h-1zM12 34h1v1h-1zM93 34h1v1h-1zM23 35h1v1h-1zM69 35h1v1h-1zM87 35h1v1h-1zM67 36h1v1h-1zM90 36h1v1h-1zM92 36h1v1h-1zM13 37h1v1h-1zM68 37h1v1h-1zM2 38h1v1h-1zM69 38h1v1h-1zM79 38h1v1h-1zM87 38h1v1h-1zM100 38h1v1h-1zM105 38h3v1h-3zM36 39h1v1h-1zM62 39h1v1h-1zM64 39h1v1h-1zM66 39h1v1h-1zM69 39h1v1h-1zM79 39h1v1h-1zM101 39h1v1h-1zM104 39h1v1h-1zM6 40h1v1h-1zM62 40h1v1h-1zM83 40h2v1h-2zM12 41h1v1h-1zM65 41h1v1h-1zM76 41h1v1h-1zM78 41h1v1h-1zM81 41h1v1h-1zM84 41h1v1h-1zM2 42h1v1h-1zM55 42h1v1h-1zM57 42h1v1h-1zM78 42h2v1h-2zM81 42h1v1h-1zM84 42h1v1h-1zM92 42h1v1h-1zM94 42h1v1h-1zM104 42h1v1h-1zM106 42h1v1h-1zM109 42h1v1h-1zM6 43h1v1h-1zM9 43h1v1h-1zM55 43h1v1h-1zM62 43h1v1h-1zM67 43h2v1h-2zM94 43h1v1h-1zM98 43h1v1h-1zM104 43h1v1h-1zM57 44h1v1h-1zM80 44h1v1h-1zM109 44h1v1h-1zM2 45h1v1h-1zM7 45h1v1h-1zM10 45h1v1h-1zM13 45h1v1h-1zM57 45h2v1h-2zM63 45h2v1h-2zM79 45h1v1h-1zM106 45h2v1h-2zM10 46h1v1h-1zM13 46h1v1h-1zM57 46h2v1h-2zM61 46h1v1h-1zM87 46h1v1h-1zM103 46h1v1h-1zM61 47h1v1h-1zM88 47h2v1h-2zM94 47h1v1h-1zM97 47h1v1h-1zM99 47h1v1h-1zM13 48h1v1h-1zM56 48h1v1h-1zM62 48h1v1h-1zM108 48h1v1h-1zM75 49h1v1h-1zM80 49h1v1h-1zM108 49h1v1h-1z"/>
<path fill="rgb(234,165,165)" d="M16 0h2v1h-2zM33 0h1v1h-1zM3 1h1v1h-1zM16 1h1v1h-1zM56 1h1v1h-1zM72 1h1v1h-1zM10 2h1v1h-1zM15 2h1v1h-1zM19 2h1v1h-1zM22 2h1v1h-1zM24 2h1v1h-1zM26 2h1v1h-1zM38 2h1v1h-1zM48 2h1v1h-1zM27 3h1v1h-1zM72 3h1v1h-1zM2 4h1v1h-1zM9 4h1v1h-1zM31 4h1v1h-1zM37 4h1v1h-1zM44 4h1v1h-1zM51 4h1v1h-1zM15 5h1v1h-1zM17 5h1v1h-1zM21 5h1v1h-1zM31 5h1v1h-1zM45 5h1v1h-1zM56 5h1v1h-1zM59 5h1v1h-1zM72 5h1v1h-1zM14 6h1v1h-1zM23 6h1v1h-1zM35 6h1v1h-1zM42 6h1v1h-1zM47 6h1v1h-1zM53 6h1v1h-1zM62 6h1v1h-1zM88 6h1v1h-1zM13 7h1v1h-1zM15 7h1v1h-1zM18 7h2v1h-2zM50 7h1v1h-1zM29 8h1v1h-1zM42 8h1v1h-1zM44 8h1v1h-1zM10 9h1v1h-1zM20 9h1v1h-1zM28 9h1v1h-1zM44 9h1v1h-1zM51 9h2v1h-2zM62 9h1v1h-1zM3 10h1v1h-1zM14 10h1v1h-1zM18 10h1v1h-1zM40 10h3v1h-3zM45 10h1v1h-1zM51 10h1v1h-1zM6 11h1v1h-1zM18 11h1v1h-1zM22 11h1v1h-1zM24 11h1v1h-1zM31 11h1v1h-1zM52 11h2v1h-2zM62 11h1v1h-1zM18 12h1v1h-1zM24 12h1v1h-1zM29 12h1v1h-1zM41 12h2v1h-2zM44 12h1v1h-1zM7 13h2v1h-2zM22 13h1v1h-1zM24 13h2v1h-2zM33 13h1v1h-1zM46 13h1v1h-1zM50 13h1v1h-1zM3 14h1v1h-1zM17 14h1v1h-1zM23 14h1v1h-1zM27 14h1v1h-1zM31 14h2v1h-2zM47 14h1v1h-1zM56 14h1v1h-1zM14 15h1v1h-1zM30 15h1v1h-1zM40 15h1v1h-1zM43 15h1v1h-1zM15 16h1v1h-1zM24 16h1v1h-1zM46 16h1v1h-1zM13 17h1v1h-1zM16 17h1v1h-1zM32 17h1v1h-1zM39 17h1v1h-1zM43 17h1v1h-1zM51 17h3v1h-3zM56 17h1v1h-1zM22 18h1v1h-1zM25 18h1v1h-1zM27 18h2v1h-2zM42 18h1v1h-1zM52 18h1v1h-1zM0 19h1v1h-1zM8 19h1v1h-1zM10 19h1v1h-1zM15 19h1v1h-1zM17 19h1v1h-1zM27 19h1v1h-1zM32 19h1v1h-1zM34 19h1v1h-1zM51 19h1v1h-1zM56 19h1v1h-1zM72 19h1v1h-1zM10 20h1v1h-1zM21 20h1v1h-1zM62 20h1v1h-1zM0 21h1v1h-1zM10 21h1v1h-1zM14 21h1v1h-1zM22 21h1v1h-1zM35 21h1v1h-1zM51 21h1v1h-1zM56 21h1v1h-1zM26 22h1v1h-1zM31 22h1v1h-1zM50 22h1v1h-1zM54 22h1v1h-1zM23 23h1v1h-1zM27 23h1v1h-1zM35 23h1v1h-1zM54 23h1v1h-1zM72 23h1v1h-1zM21 24h1v1h-1zM37 24h1v1h-1zM41 24h1v1h-1zM48 24h1v1h-1zM72 24h1v1h-1zM1 25h1v1h-1zM71 25h1v1h-1zM78 25h1v1h-1zM82 25h1v1h-1zM92 25h2v1h-2zM5 26h1v1h-1zM13 26h1v1h-1zM70 26h1v1h-1zM93 26h2v1h-2zM103 26h1v1h-1zM16 27h1v1h-1zM87 27h1v1h-1zM102 27h1v1h-1zM16 28h1v1h-1zM81 28h1v1h-1zM102 28h1v1h-1zM104 28h1v1h-1zM13 29h1v1h-1zM82 29h1v1h-1zM100 29h1v1h-1zM5 30h1v1h-1zM7 30h1v1h-1zM70 30h1v1h-1zM76 30h1v1h-1zM84 30h1v1h-1zM87 30h1v1h-1zM90 30h1v1h-1zM92 30h1v1h-1zM108 30h1v1h-1zM13 31h1v1h-1zM16 31h1v1h-1zM70 31h1v1h-1zM87 31h1v1h-1zM98 31h1v1h-1zM5 32h1v1h-1zM7 32h1v1h-1zM57 32h1v1h-1zM70 32h1v1h-1zM72 32h1v1h-1zM79 32h2v1h-2zM87 32h1v1h-1zM90 32h1v1h-1zM99 32h1v1h-1zM7 33h1v1h-1zM72 33h1v1h-1zM85 33h1v1h-1zM103 33h1v1h-1zM6 34h1v1h-1zM13 34h1v1h-1zM70 34h1v1h-1zM77 34h1v1h-1zM87 34h1v1h-1zM7 35h1v1h-1zM93 35h1v1h-1zM69 36h2v1h-2zM74 36h2v1h-2zM77 36h1v1h-1zM79 36h1v1h-1zM84 36h2v1h-2zM87 36h1v1h-1zM91 36h1v1h-1zM98 36h1v1h-1zM102 36h1v1h-1zM1 37h1v1h-1zM5 37h1v1h-1zM71 37h1v1h-1zM82 37h1v1h-1zM97 37h1v1h-1zM104 37h1v1h-1zM57 38h1v1h-1zM108 38h1v1h-1zM60 39h1v1h-1zM68 39h1v1h-1zM74 39h1v1h-1zM88 39h1v1h-1zM91 39h1v1h-1zM102 39h2v1h-2zM4 40h2v1h-2zM12 40h1v1h-1zM57 40h1v1h-1zM60 40h2v1h-2zM64 40h1v1h-1zM66 40h1v1h-1zM75 40h1v1h-1zM80 40h1v1h-1zM93 40h1v1h-1zM7 41h1v1h-1zM61 41h1v1h-1zM74 41h1v1h-1zM103 41h1v1h-1zM107 41h1v1h-1zM12 42h1v1h-1zM65 42h1v1h-1zM68 42h1v1h-1zM71 42h1v1h-1zM74 42h2v1h-2zM88 42h1v1h-1zM13 43h1v1h-1zM56 43h1v1h-1zM58 43h1v1h-1zM63 43h1v1h-1zM73 43h1v1h-1zM77 43h1v1h-1zM79 43h1v1h-1zM108 43h1v1h-1zM66 44h1v1h-1zM76 44h1v1h-1zM85 44h1v1h-1zM87 44h1v1h-1zM93 44h1v1h-1zM12 45h1v1h-1zM60 45h2v1h-2zM66 45h2v1h-2zM75 45h1v1h-1zM89 45h1v1h-1zM93 45h1v1h-1zM108 45h1v1h-1zM60 46h1v1h-1zM66 46h1v1h-1zM89 46h1v1h-1zM93 46h1v1h-1zM97 46h1v1h-1zM106 46h1v1h-1zM7 47h1v1h-1zM91 47h3v1h-3zM108 47h1v1h-1zM36 48h1v1h-1zM55 48h1v1h-1zM74 48h1v1h-1zM77 48h1v1h-1zM85 48h1v1h-1zM94 48h1v1h-1zM107 48h1v1h-1zM62 49h1v1h-1zM65 49h1v1h-1zM73 49h1v1h-1zM82 49h1v1h-1zM85 49h1v1h-1zM98 49h1v1h-1z"/>
<path fill="rgb(230,146,146)" d="M10 0h1v1h-1zM34 0h2v1h-2zM47 0h1v1h-1zM2 1h1v1h-1zM10 1h1v1h-1zM12 1h1v1h-1zM14 1h2v1h-2zM22 1h1v1h-1zM26 1h1v1h-1zM40 1h1v1h-1zM46 1h1v1h-1zM11 2h1v1h-1zM46 2h1v1h-1zM50 2h1v1h-1zM52 3h1v1h-1zM49 4h1v1h-1zM54 4h1v1h-1zM3 5h1v1h-1zM11 5h1v1h-1zM28 5h2v1h-2zM38 5h1v1h-1zM40 5h1v1h-1zM62 5h1v1h-1zM85 5h1v1h-1zM2 6h1v1h-1zM10 6h1v1h-1zM18 6h2v1h-2zM22 6h1v1h-1zM31 6h1v1h-1zM34 6h1v1h-1zM41 6h1v1h-1zM49 6h1v1h-1zM52 6h1v1h-1zM54 6h1v1h-1zM56 6h1v1h-1zM26 7h1v1h-1zM33 7h1v1h-1zM38 7h1v1h-1zM51 7h2v1h-2zM2 8h2v1h-2zM2 9h1v1h-1zM16 9h1v1h-1zM21 9h2v1h-2zM25 9h2v1h-2zM35 9h1v1h-1zM47 9h1v1h-1zM21 10h1v1h-1zM26 10h1v1h-1zM33 10h1v1h-1zM35 10h1v1h-1zM38 10h1v1h-1zM46 10h1v1h-1zM49 10h1v1h-1zM11 11h1v1h-1zM13 11h2v1h-2zM26 11h1v1h-1zM29 11h1v1h-1zM36 11h1v1h-1zM49 11h1v1h-1zM54 11h1v1h-1zM3 12h1v1h-1zM11 12h1v1h-1zM15 12h2v1h-2zM25 12h1v1h-1zM2 13h1v1h-1zM14 13h1v1h-1zM29 13h1v1h-1zM43 13h1v1h-1zM45 13h1v1h-1zM51 13h1v1h-1zM54 13h1v1h-1zM37 14h1v1h-1zM43 14h1v1h-1zM49 14h1v1h-1zM3 15h1v1h-1zM23 15h1v1h-1zM25 15h1v1h-1zM33 15h1v1h-1zM35 15h1v1h-1zM38 15h1v1h-1zM44 15h1v1h-1zM62 15h1v1h-1zM26 17h1v1h-1zM54 17h1v1h-1zM40 18h1v1h-1zM11 19h1v1h-1zM14 19h1v1h-1zM24 19h1v1h-1zM42 19h1v1h-1zM23 20h1v1h-1zM23 21h1v1h-1zM26 21h1v1h-1zM42 21h1v1h-1zM48 21h1v1h-1zM52 21h1v1h-1zM54 21h1v1h-1zM10 22h1v1h-1zM16 22h1v1h-1zM21 22h1v1h-1zM35 22h1v1h-1zM33 23h1v1h-1zM40 23h1v1h-1zM52 23h1v1h-1zM62 23h1v1h-1zM12 24h1v1h-1zM26 24h1v1h-1zM43 24h2v1h-2zM68 25h1v1h-1zM84 25h1v1h-1zM94 25h1v1h-1zM96 25h1v1h-1zM1 26h1v1h-1zM71 26h1v1h-1zM78 26h1v1h-1zM82 26h1v1h-1zM84 26h1v1h-1zM97 26h1v1h-1zM6 27h1v1h-1zM12 27h1v1h-1zM71 27h1v1h-1zM98 27h1v1h-1zM103 27h1v1h-1zM1 28h1v1h-1zM5 28h1v1h-1zM72 28h1v1h-1zM94 28h1v1h-1zM78 29h1v1h-1zM81 29h1v1h-1zM83 29h1v1h-1zM93 29h2v1h-2zM68 30h1v1h-1zM71 30h1v1h-1zM79 30h1v1h-1zM98 30h1v1h-1zM101 30h1v1h-1zM66 31h1v1h-1zM79 31h1v1h-1zM81 31h1v1h-1zM85 31h1v1h-1zM94 31h1v1h-1zM67 32h1v1h-1zM96 32h1v1h-1zM5 33h2v1h-2zM13 33h1v1h-1zM71 33h1v1h-1zM82 33h1v1h-1zM84 33h1v1h-1zM86 33h1v1h-1zM93 33h2v1h-2zM100 33h1v1h-1zM68 34h1v1h-1zM73 34h4v1h-4zM90 34h2v1h-2zM101 34h1v1h-1zM70 35h1v1h-1zM103 35h1v1h-1zM5 36h1v1h-1zM68 36h1v1h-1zM76 36h1v1h-1zM82 36h2v1h-2zM94 36h1v1h-1zM96 36h1v1h-1zM9 37h1v1h-1zM81 37h1v1h-1zM90 37h1v1h-1zM95 37h1v1h-1zM100 37h1v1h-1zM63 38h1v1h-1zM90 38h1v1h-1zM92 38h1v1h-1zM57 39h2v1h-2zM61 39h1v1h-1zM80 39h1v1h-1zM84 39h1v1h-1zM94 39h1v1h-1zM108 39h1v1h-1zM70 40h1v1h-1zM74 40h1v1h-1zM95 40h1v1h-1zM58 41h1v1h-1zM79 41h1v1h-1zM88 41h1v1h-1zM95 41h1v1h-1zM7 42h1v1h-1zM60 42h1v1h-1zM63 42h2v1h-2zM67 42h1v1h-1zM76 42h1v1h-1zM85 42h1v1h-1zM90 42h1v1h-1zM95 42h1v1h-1zM97 42h1v1h-1zM108 42h1v1h-1zM1 43h1v1h-1zM7 43h1v1h-1zM64 43h1v1h-1zM84 43h1v1h-1zM86 43h1v1h-1zM90 43h1v1h-1zM97 43h1v1h-1zM11 44h1v1h-1zM61 44h1v1h-1zM69 44h1v1h-1zM73 44h1v1h-1zM82 44h1v1h-1zM84 44h1v1h-1zM86 44h1v1h-1zM100 44h1v1h-1zM106 44h1v1h-1zM1 45h1v1h-1zM6 45h1v1h-1zM9 45h1v1h-1zM74 45h1v1h-1zM86 45h1v1h-1zM91 45h1v1h-1zM97 45h1v1h-1zM104 45h1v1h-1zM75 46h1v1h-1zM79 46h1v1h-1zM12 47h1v1h-1zM85 47h1v1h-1zM102 47h1v1h-1zM7 48h1v1h-1zM67 48h2v1h-2zM81 48h1v1h-1zM83 48h1v1h-1zM88 48h1v1h-1zM90 48h1v1h-1zM5 49h1v1h-1zM13 49h1v1h-1zM60 49h1v1h-1zM76 49h1v1h-1zM78 49h1v1h-1zM83 49h1v1h-1zM88 49h1v1h-1zM90 49h1v1h-1zM93 49h1v1h-1zM100 49h1v1h-1zM103 49h1v1h-1z"/>
<path fill="rgb(226,128,128)" d="M24 0h2v1h-2zM38 1h1v1h-1zM41 1h1v1h-1zM52 1h1v1h-1zM16 2h1v1h-1zM33 3h1v1h-1zM38 3h1v1h-1zM44 3h1v1h-1zM48 3h1v1h-1zM15 4h1v1h-1zM21 4h1v1h-1zM26 4h2v1h-2zM38 4h1v1h-1zM50 4h1v1h-1zM72 4h1v1h-1zM22 5h1v1h-1zM35 5h1v1h-1zM47 5h1v1h-1zM51 5h1v1h-1zM16 6h1v1h-1zM21 6h1v1h-1zM25 6h1v1h-1zM51 6h1v1h-1zM17 7h1v1h-1zM48 7h1v1h-1zM25 8h1v1h-1zM11 9h1v1h-1zM43 9h1v1h-1zM46 9h1v1h-1zM54 9h1v1h-1zM2 10h1v1h-1zM15 10h1v1h-1zM20 10h1v1h-1zM29 10h1v1h-1zM31 10h1v1h-1zM44 10h1v1h-1zM52 10h2v1h-2zM21 11h1v1h-1zM25 11h1v1h-1zM37 12h1v1h-1zM52 12h1v1h-1zM11 13h1v1h-1zM26 13h1v1h-1zM31 13h1v1h-1zM40 13h1v1h-1zM48 13h1v1h-1zM6 14h1v1h-1zM26 14h1v1h-1zM38 14h1v1h-1zM41 14h1v1h-1zM53 14h1v1h-1zM13 15h1v1h-1zM17 15h1v1h-1zM22 15h1v1h-1zM31 15h1v1h-1zM46 15h1v1h-1zM51 15h1v1h-1zM54 15h1v1h-1zM56 15h1v1h-1zM72 15h1v1h-1zM21 16h1v1h-1zM23 16h1v1h-1zM48 16h1v1h-1zM54 16h1v1h-1zM14 17h1v1h-1zM27 17h1v1h-1zM38 18h1v1h-1zM49 18h1v1h-1zM54 18h1v1h-1zM20 19h2v1h-2zM29 19h1v1h-1zM35 19h1v1h-1zM41 19h1v1h-1zM44 19h1v1h-1zM46 19h1v1h-1zM53 19h2v1h-2zM62 19h1v1h-1zM16 20h1v1h-1zM19 20h1v1h-1zM24 20h1v1h-1zM50 20h1v1h-1zM53 20h2v1h-2zM38 21h1v1h-1zM43 21h1v1h-1zM29 23h1v1h-1zM3 24h1v1h-1zM67 25h1v1h-1zM81 25h1v1h-1zM83 25h1v1h-1zM85 25h1v1h-1zM90 25h1v1h-1zM79 26h1v1h-1zM86 26h1v1h-1zM1 27h1v1h-1zM7 27h1v1h-1zM13 27h1v1h-1zM70 27h1v1h-1zM94 27h1v1h-1zM7 28h1v1h-1zM13 28h1v1h-1zM69 28h1v1h-1zM82 28h1v1h-1zM69 29h1v1h-1zM85 29h1v1h-1zM87 29h1v1h-1zM91 29h1v1h-1zM81 30h1v1h-1zM85 30h1v1h-1zM7 31h1v1h-1zM12 31h1v1h-1zM78 31h1v1h-1zM92 31h1v1h-1zM96 31h1v1h-1zM13 32h1v1h-1zM91 32h1v1h-1zM97 32h1v1h-1zM100 32h1v1h-1zM69 33h2v1h-2zM77 33h2v1h-2zM90 33h2v1h-2zM95 33h1v1h-1zM1 34h1v1h-1zM67 34h1v1h-1zM86 34h1v1h-1zM67 35h1v1h-1zM92 35h1v1h-1zM98 35h3v1h-3zM12 36h1v1h-1zM73 36h1v1h-1zM86 36h1v1h-1zM6 37h1v1h-1zM74 37h1v1h-1zM11 38h2v1h-2zM65 38h1v1h-1zM74 38h2v1h-2zM77 38h2v1h-2zM83 38h1v1h-1zM88 38h1v1h-1zM101 38h1v1h-1zM12 39h2v1h-2zM77 39h1v1h-1zM89 39h1v1h-1zM97 39h1v1h-1zM1 40h1v1h-1zM77 40h1v1h-1zM89 40h1v1h-1zM94 40h1v1h-1zM101 40h1v1h-1zM103 40h1v1h-1zM64 41h1v1h-1zM68 41h1v1h-1zM86 41h1v1h-1zM97 41h2v1h-2zM65 43h1v1h-1zM75 43h1v1h-1zM80 43h1v1h-1zM83 43h1v1h-1zM89 43h1v1h-1zM100 43h1v1h-1zM5 44h1v1h-1zM56 44h1v1h-1zM60 44h1v1h-1zM63 44h1v1h-1zM67 44h1v1h-1zM79 44h1v1h-1zM104 44h1v1h-1zM65 45h1v1h-1zM69 45h2v1h-2zM76 45h1v1h-1zM92 45h1v1h-1zM100 45h1v1h-1zM103 45h1v1h-1zM1 46h1v1h-1zM65 46h1v1h-1zM73 46h1v1h-1zM95 46h2v1h-2zM13 47h1v1h-1zM60 48h1v1h-1zM71 48h1v1h-1zM73 48h1v1h-1zM75 48h1v1h-1zM86 48h1v1h-1zM91 48h1v1h-1zM103 48h1v1h-1zM7 49h1v1h-1zM12 49h1v1h-1zM57 49h2v1h-2zM101 49h1v1h-1z"/>
<path fill="rgb(222,110,110)" d="M14 0h1v1h-1zM48 0h1v1h-1zM50 0h1v1h-1zM20 1h1v1h-1zM32 1h1v1h-1zM36 1h1v1h-1zM48 1h1v1h-1zM51 1h1v1h-1zM31 2h1v1h-1zM37 2h1v1h-1zM11 3h1v1h-1zM20 4h1v1h-1zM25 4h1v1h-1zM43 4h1v1h-1zM16 5h1v1h-1zM20 5h1v1h-1zM44 5h1v1h-1zM27 6h1v1h-1zM29 6h1v1h-1zM48 6h1v1h-1zM29 7h1v1h-1zM31 7h1v1h-1zM36 7h1v1h-1zM40 7h1v1h-1zM22 8h1v1h-1zM31 8h1v1h-1zM36 8h1v1h-1zM41 8h1v1h-1zM29 9h1v1h-1zM42 9h1v1h-1zM50 9h1v1h-1zM23 10h1v1h-1zM37 10h1v1h-1zM47 10h2v1h-2zM54 10h1v1h-1zM56 10h1v1h-1zM38 11h1v1h-1zM26 12h1v1h-1zM49 12h1v1h-1zM16 13h2v1h-2zM19 13h1v1h-1zM21 13h1v1h-1zM23 13h1v1h-1zM10 14h1v1h-1zM16 14h1v1h-1zM48 14h1v1h-1zM2 15h1v1h-1zM27 16h1v1h-1zM20 17h1v1h-1zM12 18h1v1h-1zM14 18h1v1h-1zM26 18h1v1h-1zM48 18h1v1h-1zM2 19h1v1h-1zM13 19h1v1h-1zM26 19h1v1h-1zM38 19h1v1h-1zM50 19h1v1h-1zM2 20h1v1h-1zM44 20h1v1h-1zM49 20h1v1h-1zM52 20h1v1h-1zM2 23h1v1h-1zM25 23h1v1h-1zM38 24h1v1h-1zM46 24h1v1h-1zM52 24h1v1h-1zM6 25h1v1h-1zM73 25h1v1h-1zM80 25h1v1h-1zM91 25h1v1h-1zM98 25h1v1h-1zM100 25h1v1h-1zM68 26h1v1h-1zM85 26h1v1h-1zM100 26h1v1h-1zM67 27h2v1h-2zM73 27h1v1h-1zM82 27h1v1h-1zM91 27h1v1h-1zM99 27h1v1h-1zM101 27h1v1h-1zM68 28h1v1h-1zM70 28h2v1h-2zM76 28h1v1h-1zM92 28h1v1h-1zM96 28h1v1h-1zM98 28h3v1h-3zM1 29h1v1h-1zM6 29h1v1h-1zM84 29h1v1h-1zM103 29h1v1h-1zM108 29h1v1h-1zM12 30h1v1h-1zM83 30h1v1h-1zM86 30h1v1h-1zM6 31h1v1h-1zM9 31h1v1h-1zM77 31h1v1h-1zM86 31h1v1h-1zM91 31h1v1h-1zM99 31h1v1h-1zM101 31h2v1h-2zM12 32h1v1h-1zM82 32h1v1h-1zM93 32h2v1h-2zM92 33h1v1h-1zM104 33h1v1h-1zM82 34h1v1h-1zM84 34h1v1h-1zM97 34h1v1h-1zM99 34h1v1h-1zM103 34h1v1h-1zM12 35h2v1h-2zM73 35h4v1h-4zM79 35h1v1h-1zM83 35h1v1h-1zM71 36h1v1h-1zM78 36h1v1h-1zM89 36h1v1h-1zM101 36h1v1h-1zM7 37h1v1h-1zM67 37h1v1h-1zM78 37h2v1h-2zM84 37h1v1h-1zM87 37h1v1h-1zM5 38h1v1h-1zM13 38h1v1h-1zM60 38h1v1h-1zM64 38h1v1h-1zM67 38h1v1h-1zM85 38h1v1h-1zM93 38h1v1h-1zM97 38h1v1h-1zM58 40h1v1h-1zM76 40h1v1h-1zM78 40h1v1h-1zM88 40h1v1h-1zM92 40h1v1h-1zM98 40h1v1h-1zM102 40h1v1h-1zM108 40h1v1h-1zM1 41h1v1h-1zM102 41h1v1h-1zM66 42h1v1h-1zM77 42h1v1h-1zM83 42h1v1h-1zM60 43h1v1h-1zM70 43h1v1h-1zM74 43h1v1h-1zM78 43h1v1h-1zM88 43h1v1h-1zM91 43h2v1h-2zM95 43h1v1h-1zM103 43h1v1h-1zM106 43h1v1h-1zM6 44h1v1h-1zM12 44h1v1h-1zM36 44h1v1h-1zM68 44h1v1h-1zM74 44h2v1h-2zM81 44h1v1h-1zM90 44h1v1h-1zM95 44h1v1h-1zM98 44h1v1h-1zM108 44h1v1h-1zM68 45h1v1h-1zM73 45h1v1h-1zM77 45h1v1h-1zM80 45h1v1h-1zM88 45h1v1h-1zM99 45h1v1h-1zM7 46h1v1h-1zM80 46h1v1h-1zM83 46h1v1h-1zM98 46h1v1h-1zM101 47h1v1h-1zM1 48h1v1h-1zM64 48h2v1h-2zM69 48h1v1h-1zM84 48h1v1h-1zM99 48h2v1h-2zM74 49h1v1h-1zM89 49h1v1h-1z"/>
<path fill="rgb(218,92,92)" d="M31 1h1v1h-1zM37 1h1v1h-1zM16 4h1v1h-1zM36 4h1v1h-1zM14 5h1v1h-1zM24 5h1v1h-1zM54 5h1v1h-1zM43 8h1v1h-1zM27 9h1v1h-1zM41 9h1v1h-1zM50 10h1v1h-1zM43 11h1v1h-1zM48 12h1v1h-1zM54 12h1v1h-1zM18 13h1v1h-1zM27 13h1v1h-1zM44 13h1v1h-1zM36 14h1v1h-1zM51 14h1v1h-1zM1 15h1v1h-1zM18 15h1v1h-1zM27 15h1v1h-1zM41 15h1v1h-1zM16 16h1v1h-1zM22 16h1v1h-1zM36 16h1v1h-1zM38 16h1v1h-1zM48 17h1v1h-1zM31 19h1v1h-1zM45 19h1v1h-1zM48 19h1v1h-1zM52 19h1v1h-1zM38 20h1v1h-1zM41 20h1v1h-1zM46 20h1v1h-1zM25 21h1v1h-1zM50 21h1v1h-1zM11 23h1v1h-1zM13 25h1v1h-1zM75 25h1v1h-1zM79 25h1v1h-1zM86 25h1v1h-1zM101 25h1v1h-1zM67 26h1v1h-1zM69 26h1v1h-1zM77 26h1v1h-1zM75 27h1v1h-1zM86 27h1v1h-1zM97 27h1v1h-1zM67 28h1v1h-1zM73 28h1v1h-1zM87 28h1v1h-1zM90 28h1v1h-1zM77 29h1v1h-1zM95 29h1v1h-1zM98 29h1v1h-1zM74 30h1v1h-1zM89 30h1v1h-1zM94 30h1v1h-1zM99 30h1v1h-1zM84 31h1v1h-1zM108 31h1v1h-1zM68 32h2v1h-2zM74 32h1v1h-1zM84 32h2v1h-2zM95 32h1v1h-1zM98 32h1v1h-1zM103 32h2v1h-2zM67 33h1v1h-1zM80 34h1v1h-1zM89 34h1v1h-1zM98 34h1v1h-1zM71 35h1v1h-1zM84 35h2v1h-2zM94 35h2v1h-2zM88 36h1v1h-1zM95 36h1v1h-1zM16 37h1v1h-1zM101 37h3v1h-3zM54 38h1v1h-1zM61 38h1v1h-1zM66 38h1v1h-1zM76 39h1v1h-1zM78 39h1v1h-1zM73 40h1v1h-1zM91 40h1v1h-1zM73 41h1v1h-1zM80 41h1v1h-1zM83 41h1v1h-1zM58 42h1v1h-1zM80 42h1v1h-1zM93 42h1v1h-1zM98 42h1v1h-1zM100 42h1v1h-1zM12 43h1v1h-1zM57 43h1v1h-1zM61 43h1v1h-1zM66 43h1v1h-1zM102 43h1v1h-1zM7 44h1v1h-1zM88 44h1v1h-1zM92 44h1v1h-1zM94 44h1v1h-1zM101 44h1v1h-1zM103 44h1v1h-1zM107 44h1v1h-1zM78 45h1v1h-1zM84 45h1v1h-1zM96 45h1v1h-1zM102 46h1v1h-1zM73 47h1v1h-1zM95 47h1v1h-1zM12 48h1v1h-1zM57 48h1v1h-1zM78 48h1v1h-1zM96 48h1v1h-1zM101 48h1v1h-1zM96 49h1v1h-1zM99 49h1v1h-1zM104 49h1v1h-1z"/>
<path fill="rgb(213,74,74)" d="M36 2h1v1h-1zM10 4h1v1h-1zM2 5h1v1h-1zM41 5h1v1h-1zM46 5h1v1h-1zM48 5h1v1h-1zM50 5h1v1h-1zM24 7h1v1h-1zM48 9h1v1h-1zM11 10h1v1h-1zM25 10h1v1h-1zM27 10h1v1h-1zM16 11h1v1h-1zM41 11h1v1h-1zM46 11h1v1h-1zM48 11h1v1h-1zM15 13h1v1h-1zM29 15h1v1h-1zM46 18h1v1h-1zM16 19h1v1h-1zM36 19h1v1h-1zM11 20h1v1h-1zM37 20h1v1h-1zM16 24h1v1h-1zM36 24h1v1h-1zM99 25h1v1h-1zM102 25h1v1h-1zM12 26h1v1h-1zM73 26h1v1h-1zM76 26h1v1h-1zM98 26h1v1h-1zM84 27h2v1h-2zM88 27h1v1h-1zM90 27h1v1h-1zM75 28h1v1h-1zM78 28h1v1h-1zM85 28h2v1h-2zM89 28h1v1h-1zM5 29h1v1h-1zM68 29h1v1h-1zM89 29h2v1h-2zM92 29h1v1h-1zM13 30h1v1h-1zM67 30h1v1h-1zM75 30h1v1h-1zM77 30h2v1h-2zM74 31h3v1h-3zM89 31h1v1h-1zM71 32h1v1h-1zM75 32h1v1h-1zM86 32h1v1h-1zM92 32h1v1h-1zM101 32h1v1h-1zM74 33h1v1h-1zM80 33h1v1h-1zM89 33h1v1h-1zM98 33h1v1h-1zM78 34h2v1h-2zM83 34h1v1h-1zM94 34h2v1h-2zM102 34h1v1h-1zM68 35h1v1h-1zM77 35h1v1h-1zM81 35h1v1h-1zM88 35h4v1h-4zM96 35h2v1h-2zM99 36h1v1h-1zM69 37h1v1h-1zM76 37h1v1h-1zM93 37h1v1h-1zM99 37h1v1h-1zM7 38h1v1h-1zM73 38h1v1h-1zM94 38h3v1h-3zM73 39h1v1h-1zM99 39h1v1h-1zM13 40h1v1h-1zM96 41h1v1h-1zM102 42h1v1h-1zM81 43h1v1h-1zM58 44h1v1h-1zM65 44h1v1h-1zM71 44h1v1h-1zM83 44h1v1h-1zM97 44h1v1h-1zM95 45h1v1h-1zM102 45h1v1h-1zM101 46h1v1h-1zM96 47h1v1h-1zM63 48h1v1h-1zM80 48h1v1h-1zM97 48h1v1h-1zM91 49h1v1h-1zM102 49h1v1h-1z"/>
<path fill="rgb(209,56,56)" d="M3 0h1v1h-1zM26 0h1v1h-1zM36 3h1v1h-1zM26 5h1v1h-1zM36 6h1v1h-1zM38 8h1v1h-1zM48 8h1v1h-1zM24 10h1v1h-1zM36 10h1v1h-1zM36 12h1v1h-1zM36 13h1v1h-1zM20 15h1v1h-1zM26 15h1v1h-1zM36 18h1v1h-1zM36 20h1v1h-1zM36 21h1v1h-1zM36 23h1v1h-1zM87 26h1v1h-1zM91 26h2v1h-2zM99 26h1v1h-1zM101 26h1v1h-1zM74 27h1v1h-1zM89 27h1v1h-1zM12 28h1v1h-1zM77 28h1v1h-1zM91 28h1v1h-1zM95 28h1v1h-1zM97 28h1v1h-1zM12 29h1v1h-1zM71 29h1v1h-1zM102 29h1v1h-1zM73 30h1v1h-1zM88 30h1v1h-1zM102 30h1v1h-1zM71 31h1v1h-1zM82 31h1v1h-1zM78 32h1v1h-1zM81 32h1v1h-1zM102 32h1v1h-1zM73 33h1v1h-1zM81 33h1v1h-1zM87 33h2v1h-2zM85 34h1v1h-1zM80 35h1v1h-1zM86 35h1v1h-1zM101 35h1v1h-1zM7 36h1v1h-1zM86 37h1v1h-1zM94 37h1v1h-1zM98 37h1v1h-1zM80 38h1v1h-1zM89 38h1v1h-1zM96 39h1v1h-1zM98 39h1v1h-1zM101 41h1v1h-1zM91 42h1v1h-1zM101 42h1v1h-1zM103 42h1v1h-1zM101 43h1v1h-1zM1 44h1v1h-1zM64 44h1v1h-1zM96 44h1v1h-1zM98 45h1v1h-1zM85 46h1v1h-1zM88 46h1v1h-1zM91 46h1v1h-1zM89 48h1v1h-1zM92 48h1v1h-1zM95 48h1v1h-1zM102 48h1v1h-1zM67 49h1v1h-1zM92 49h1v1h-1zM95 49h1v1h-1zM97 49h1v1h-1z"/>
<path fill="rgb(205,38,38)" d="M33 2h1v1h-1zM48 4h1v1h-1zM36 5h1v1h-1zM40 6h1v1h-1zM16 8h1v1h-1zM26 8h1v1h-1zM36 15h1v1h-1zM48 15h1v1h-1zM52 15h1v1h-1zM10 18h1v1h-1zM16 18h1v1h-1zM26 20h1v1h-1zM36 22h1v1h-1zM16 23h1v1h-1zM76 25h1v1h-1zM88 25h1v1h-1zM74 26h1v1h-1zM83 26h1v1h-1zM95 26h1v1h-1zM80 27h1v1h-1zM92 27h1v1h-1zM74 28h1v1h-1zM79 28h2v1h-2zM84 28h1v1h-1zM74 29h2v1h-2zM80 29h1v1h-1zM86 29h1v1h-1zM88 29h1v1h-1zM99 29h1v1h-1zM101 29h1v1h-1zM96 30h1v1h-1zM68 31h1v1h-1zM73 31h1v1h-1zM88 31h1v1h-1zM97 31h1v1h-1zM103 31h1v1h-1zM73 32h1v1h-1zM12 33h1v1h-1zM97 33h1v1h-1zM101 33h1v1h-1zM88 34h1v1h-1zM102 35h1v1h-1zM80 37h1v1h-1zM85 37h1v1h-1zM76 38h1v1h-1zM99 38h1v1h-1zM102 38h1v1h-1zM97 40h1v1h-1zM99 41h1v1h-1zM99 42h1v1h-1zM85 43h1v1h-1zM13 44h1v1h-1zM91 44h1v1h-1zM99 46h1v1h-1zM94 49h1v1h-1z"/>
<path fill="rgb(205,38,38)" d="M43 5h1v1h-1zM16 7h1v1h-1zM36 9h1v1h-1zM16 10h1v1h-1zM16 15h1v1h-1zM69 25h1v1h-1zM89 25h1v1h-1zM75 26h1v1h-1zM88 26h1v1h-1zM90 26h1v1h-1zM96 26h1v1h-1zM77 27h1v1h-1zM79 27h1v1h-1zM83 28h1v1h-1zM88 28h1v1h-1zM73 29h1v1h-1zM79 29h1v1h-1zM83 31h1v1h-1zM76 32h2v1h-2zM89 32h1v1h-1zM68 33h1v1h-1zM75 33h2v1h-2zM79 33h1v1h-1zM96 33h1v1h-1zM91 37h1v1h-1zM91 38h1v1h-1zM95 39h1v1h-1zM99 40h1v1h-1zM99 43h1v1h-1zM89 44h1v1h-1zM101 45h1v1h-1zM98 48h1v1h-1z"/>
<path fill="rgb(205,38,38)" d="M36 0h1v1h-1zM36 17h1v1h-1zM48 20h1v1h-1zM89 26h1v1h-1zM102 26h1v1h-1zM83 27h1v1h-1zM96 29h1v1h-1zM99 33h1v1h-1zM102 33h1v1h-1zM75 37h1v1h-1zM83 37h1v1h-1zM89 37h1v1h-1zM96 37h1v1h-1zM96 40h1v1h-1zM96 43h1v1h-1zM102 44h1v1h-1z"/>
<path fill="rgb(205,38,38)" d="M80 26h1v1h-1zM80 30h1v1h-1zM80 31h1v1h-1zM83 32h1v1h-1zM80 36h1v1h-1zM12 37h1v1h-1zM96 42h1v1h-1zM99 44h1v1h-1z"/>
<path fill="rgb(205,38,38)" d="M88 32h1v1h-1zM96 34h1v1h-1zM77 37h1v1h-1z"/>
<path fill="rgb(205,38,38)" d="M83 33h1v1h-1zM73 37h1v1h-1zM88 37h1v1h-1z"/>
</g>
<path fill="#f88a82" d="M404.90 365.8h1.927v5.7h-1.927zM408.71 365.8h1.927v5.7h-1.927zM410.62 365.8h1.927v5.7h-1.927zM420.16 365.8h1.927v5.7h-1.927zM423.97 365.8h1.927v5.7h-1.927zM425.88 365.8h1.927v5.7h-1.927zM431.60 365.8h1.927v5.7h-1.927zM433.51 365.8h1.927v5.7h-1.927zM435.42 365.8h1.927v5.7h-1.927zM437.32 365.8h1.927v5.7h-1.927zM439.23 365.8h1.927v5.7h-1.927zM441.14 365.8h1.927v5.7h-1.927zM443.05 365.8h1.927v5.7h-1.927zM444.95 365.8h1.927v5.7h-1.927zM446.86 365.8h1.927v5.7h-1.927zM448.77 365.8h1.927v5.7h-1.927zM450.67 365.8h1.927v5.7h-1.927zM452.58 365.8h1.927v5.7h-1.927zM454.49 365.8h1.927v5.7h-1.927zM456.40 365.8h1.927v5.7h-1.927zM458.30 365.8h1.927v5.7h-1.927zM460.21 365.8h1.927v5.7h-1.927zM462.12 365.8h1.927v5.7h-1.927zM464.03 365.8h1.927v5.7h-1.927zM465.93 365.8h1.927v5.7h-1.927zM467.84 365.8h1.927v5.7h-1.927zM469.75 365.8h1.927v5.7h-1.927zM471.65 365.8h1.927v5.7h-1.927zM473.56 365.8h1.927v5.7h-1.927zM475.47 365.8h1.927v5.7h-1.927zM477.38 365.8h1.927v5.7h-1.927zM479.28 365.8h1.927v5.7h-1.927zM481.19 365.8h1.927v5.7h-1.927zM483.10 365.8h1.927v5.7h-1.927zM485.01 365.8h1.927v5.7h-1.927zM486.91 365.8h1.927v5.7h-1.927zM488.82 365.8h1.927v5.7h-1.927zM490.73 365.8h1.927v5.7h-1.927zM492.63 365.8h1.927v5.7h-1.927zM494.54 365.8h1.927v5.7h-1.927zM496.45 365.8h1.927v5.7h-1.927zM498.36 365.8h1.927v5.7h-1.927zM500.26 365.8h1.927v5.7h-1.927zM502.17 365.8h1.927v5.7h-1.927zM504.08 365.8h1.927v5.7h-1.927zM505.99 365.8h1.927v5.7h-1.927zM507.89 365.8h1.927v5.7h-1.927zM511.71 365.8h1.927v5.7h-1.927zM517.43 365.8h1.927v5.7h-1.927zM523.15 365.8h1.927v5.7h-1.927zM542.22 365.8h1.927v5.7h-1.927zM607.07 365.8h1.927v5.7h-1.927zM610.89 365.8h1.927v5.7h-1.927z"/><path fill="#0ccdd3" d="M406.81 365.8h1.927v5.7h-1.927zM412.53 365.8h1.927v5.7h-1.927zM414.44 365.8h1.927v5.7h-1.927zM416.34 365.8h1.927v5.7h-1.927zM418.25 365.8h1.927v5.7h-1.927zM422.07 365.8h1.927v5.7h-1.927zM427.79 365.8h1.927v5.7h-1.927zM429.69 365.8h1.927v5.7h-1.927zM509.80 365.8h1.927v5.7h-1.927zM513.61 365.8h1.927v5.7h-1.927zM515.52 365.8h1.927v5.7h-1.927zM519.34 365.8h1.927v5.7h-1.927zM521.24 365.8h1.927v5.7h-1.927zM525.06 365.8h1.927v5.7h-1.927zM526.97 365.8h1.927v5.7h-1.927zM528.87 365.8h1.927v5.7h-1.927zM530.78 365.8h1.927v5.7h-1.927zM532.69 365.8h1.927v5.7h-1.927zM534.59 365.8h1.927v5.7h-1.927zM536.50 365.8h1.927v5.7h-1.927zM538.41 365.8h1.927v5.7h-1.927zM540.32 365.8h1.927v5.7h-1.927zM544.13 365.8h1.927v5.7h-1.927zM546.04 365.8h1.927v5.7h-1.927zM547.95 365.8h1.927v5.7h-1.927zM549.85 365.8h1.927v5.7h-1.927zM551.76 365.8h1.927v5.7h-1.927zM553.67 365.8h1.927v5.7h-1.927zM555.57 365.8h1.927v5.7h-1.927zM557.48 365.8h1.927v5.7h-1.927zM559.39 365.8h1.927v5.7h-1.927zM561.30 365.8h1.927v5.7h-1.927zM563.20 365.8h1.927v5.7h-1.927zM565.11 365.8h1.927v5.7h-1.927zM567.02 365.8h1.927v5.7h-1.927zM568.93 365.8h1.927v5.7h-1.927zM570.83 365.8h1.927v5.7h-1.927zM572.74 365.8h1.927v5.7h-1.927zM574.65 365.8h1.927v5.7h-1.927zM576.55 365.8h1.927v5.7h-1.927zM578.46 365.8h1.927v5.7h-1.927zM580.37 365.8h1.927v5.7h-1.927zM582.28 365.8h1.927v5.7h-1.927zM584.18 365.8h1.927v5.7h-1.927zM586.09 365.8h1.927v5.7h-1.927zM588.00 365.8h1.927v5.7h-1.927zM589.91 365.8h1.927v5.7h-1.927zM591.81 365.8h1.927v5.7h-1.927zM593.72 365.8h1.927v5.7h-1.927zM595.63 365.8h1.927v5.7h-1.927zM597.53 365.8h1.927v5.7h-1.927zM599.44 365.8h1.927v5.7h-1.927zM601.35 365.8h1.927v5.7h-1.927zM603.26 365.8h1.927v5.7h-1.927zM605.16 365.8h1.927v5.7h-1.927zM608.98 365.8h1.927v5.7h-1.927zM612.79 365.8h1.927v5.7h-1.927z"/>
<path d="M409.67 365.30V362.05H411.58V365.30M413.48 365.30V362.93H415.39V365.30M410.62 362.05V360.69H414.44V362.93M407.76 365.30V358.78H412.53V360.69M417.30 365.30V362.15H419.20V365.30M418.25 362.15V360.69H421.11V365.30M410.14 358.78V356.82H419.68V360.69M426.83 365.30V362.71H428.74V365.30M424.93 365.30V361.86H427.79V362.71M426.36 361.86V361.09H430.65V365.30M423.02 365.30V358.68H428.50V361.09M414.91 356.82V353.70H425.76V358.68M405.85 365.30V352.40H420.34V353.70M440.18 365.30V364.73H442.09V365.30M441.14 364.73V364.40H444.00V365.30M442.57 364.40V364.19H445.91V365.30M438.28 365.30V363.98H444.24V364.19M449.72 365.30V364.90H451.63V365.30M450.67 364.90V364.73H453.54V365.30M447.81 365.30V364.31H452.10V364.73M441.26 363.98V363.35H449.96V364.31M455.44 365.30V364.58H457.35V365.30M459.26 365.30V364.42H461.16V365.30M456.40 364.58V364.01H460.21V364.42M445.61 363.35V362.17H458.30V364.01M464.98 365.30V364.35H466.89V365.30M472.61 365.30V364.83H474.52V365.30M470.70 365.30V364.71H473.56V364.83M468.79 365.30V364.27H472.13V364.71M465.93 364.35V363.68H470.46V364.27M463.07 365.30V363.30H468.20V363.68M480.24 365.30V365.12H482.14V365.30M481.19 365.12V365.02H484.05V365.30M478.33 365.30V364.87H482.62V365.02M476.42 365.30V364.79H480.48V364.87M485.96 365.30V364.92H487.87V365.30M478.45 364.79V364.66H486.91V364.92M491.68 365.30V365.07H493.59V365.30M489.77 365.30V364.89H492.63V365.07M491.20 364.89V364.66H495.50V365.30M482.68 364.66V364.15H493.35V364.66M488.02 364.15V363.67H497.40V365.30M503.12 365.30V365.03H505.03V365.30M501.22 365.30V364.85H504.08V365.03M499.31 365.30V364.76H502.65V364.85M500.98 364.76V364.43H506.94V365.30M492.71 363.67V363.29H503.96V364.43M465.63 363.30V361.96H498.33V363.29M481.98 361.96V360.90H508.85V365.30M451.96 362.17V358.67H495.42V360.90M436.37 365.30V354.52H473.69V358.67M434.46 365.30V351.90H455.03V354.52M432.56 365.30V350.90H444.75V351.90M413.10 352.40V347.50H438.65V350.90M516.48 365.30V361.84H518.38V365.30M514.57 365.30V360.59H517.43V361.84M512.66 365.30V358.57H516.00V360.59M510.75 365.30V357.25H514.33V358.57M520.29 365.30V358.28H522.20V365.30M512.54 357.25V353.40H521.24V358.28M526.01 365.30V363.35H527.92V365.30M524.10 365.30V362.64H526.97V363.35M529.83 365.30V363.38H531.73V365.30M525.53 362.64V361.86H530.78V363.38M528.16 361.86V360.47H533.64V365.30M537.46 365.30V364.27H539.36V365.30M535.55 365.30V363.47H538.41V364.27M536.98 363.47V362.81H541.27V365.30M543.18 365.30V364.46H545.08V365.30M544.13 364.46V363.99H546.99V365.30M548.90 365.30V364.16H550.81V365.30M545.56 363.99V363.42H549.85V364.16M552.71 365.30V363.98H554.62V365.30M547.71 363.42V362.41H553.67V363.98M539.12 362.81V360.49H550.69V362.41M530.90 360.47V357.42H544.91V360.49M558.44 365.30V363.33H560.34V365.30M556.53 365.30V362.42H559.39V363.33M562.25 365.30V363.12H564.16V365.30M557.96 362.42V360.99H563.20V363.12M567.97 365.30V362.85H569.88V365.30M566.06 365.30V361.86H568.93V362.85M567.50 361.86V360.66H571.79V365.30M560.58 360.99V357.86H569.64V360.66M537.90 357.42V351.30H565.11V357.86M573.69 365.30V362.84H575.60V365.30M577.51 365.30V363.15H579.42V365.30M581.32 365.30V363.14H583.23V365.30M578.46 363.15V362.05H582.28V363.14M574.65 362.84V361.19H580.37V362.05M585.14 365.30V362.88H587.04V365.30M577.51 361.19V359.47H586.09V362.88M588.95 365.30V362.51H590.86V365.30M589.91 362.51V361.02H592.77V365.30M581.80 359.47V357.48H591.34V361.02M596.58 365.30V362.59H598.49V365.30M594.67 365.30V360.63H597.53V362.59M602.30 365.30V362.27H604.21V365.30M600.40 365.30V361.11H603.26V362.27M596.10 360.63V358.24H601.83V361.11M586.57 357.48V352.80H598.97V358.24M609.93 365.30V363.01H611.84V365.30M608.02 365.30V361.63H610.89V363.01M609.45 361.63V358.92H613.75V365.30M606.12 365.30V356.30H611.60V358.92M592.77 352.80V350.20H608.86V356.30M551.51 351.30V347.40H600.81V350.20M516.89 353.40V346.10H576.16V347.40M425.87 347.50V337.40H546.53V346.10" stroke="#6a6a6a" stroke-width="0.55" fill="none"/>
<path d="M404.60 381.29H398.10V386.69H404.60M404.60 392.09H395.88V397.48H404.60M398.10 383.99H392.10V394.78H395.88M404.60 375.90H389.60V389.39H392.10M404.60 408.27H399.70V413.67H404.60M404.60 424.46H401.47V429.86H404.60M404.60 435.25H402.98V440.65H404.60M402.98 437.95H401.75V446.05H404.60M401.47 427.16H399.50V442.00H401.75M404.60 419.07H397.23V434.58H399.50M399.70 410.97H394.55V426.82H397.23M404.60 402.88H391.10V418.90H394.55M404.60 456.84H401.75V462.23H404.60M401.75 459.54H400.22V467.63H404.60M404.60 451.44H397.79V463.58H400.22M404.60 473.03H402.18V478.42H404.60M402.18 475.72H401.39V483.82H404.60M401.39 479.77H399.42V489.21H404.60M397.79 457.51H394.40V484.49H399.42M404.60 494.61H401.20V500.01H404.60M401.20 497.31H398.46V505.40H404.60M394.40 471.00H390.40V501.36H398.46M391.10 410.89H388.50V486.18H390.40M389.60 382.64H387.30V448.53H388.50M404.60 521.59H402.33V526.99H404.60M404.60 516.19H401.33V524.29H402.33M404.60 553.97H404.11V559.36H404.60M404.60 548.57H403.89V556.66H404.11M403.89 552.62H403.64V564.76H404.60M403.64 558.69H403.22V570.15H404.60M404.60 543.17H402.32V564.42H403.22M404.60 537.78H401.54V553.80H402.32M404.60 532.38H399.46V545.79H401.54M401.33 520.24H398.19V539.08H399.46M404.60 510.80H395.81V529.66H398.19M395.81 520.23H392.90V575.55H404.60M404.60 591.74H400.77V597.13H404.60M404.60 586.34H398.33V594.44H400.77M404.60 602.53H399.25V607.93H404.60M404.60 618.72H401.62V624.11H404.60M404.60 629.51H402.36V634.91H404.60M401.62 621.42H400.19V632.21H402.36M404.60 613.32H398.09V626.81H400.19M398.09 620.07H396.03V640.30H404.60M399.25 605.23H394.24V630.18H396.03M398.33 590.39H392.13V617.71H394.24M404.60 580.95H388.70V604.05H392.13M392.90 547.89H385.50V592.50H388.70M387.30 415.59H377.20V570.19H385.50" stroke="#6a6a6a" stroke-width="0.55" fill="none"/>
<text x="617.00" y="377.65" font-size="5.10" stroke="#000" stroke-width="0.13">SCGB3A1</text>
<text x="617.00" y="383.04" font-size="5.10" stroke="#000" stroke-width="0.13">ELAPOR1</text>
<text x="617.00" y="388.44" font-size="5.10" stroke="#000" stroke-width="0.13">HM13</text>
<text x="617.00" y="393.84" font-size="5.10" stroke="#000" stroke-width="0.13">COQ8A</text>
<text x="617.00" y="399.23" font-size="5.10" stroke="#000" stroke-width="0.13">NFIC</text>
<text x="617.00" y="404.63" font-size="5.10" stroke="#000" stroke-width="0.13">TMBIM6</text>
<text x="617.00" y="410.02" font-size="5.10" stroke="#000" stroke-width="0.13">ALDOA</text>
<text x="617.00" y="415.42" font-size="5.10" stroke="#000" stroke-width="0.13">WNK2</text>
<text x="617.00" y="420.82" font-size="5.10" stroke="#000" stroke-width="0.13">CLUH</text>
<text x="617.00" y="426.21" font-size="5.10" stroke="#000" stroke-width="0.13">PTPRO</text>
<text x="617.00" y="431.61" font-size="5.10" stroke="#000" stroke-width="0.13">SRRM2</text>
<text x="617.00" y="437.00" font-size="5.10" stroke="#000" stroke-width="0.13">MINDY1</text>
<text x="617.00" y="442.40" font-size="5.10" stroke="#000" stroke-width="0.13">TLE2</text>
<text x="617.00" y="447.80" font-size="5.10" stroke="#000" stroke-width="0.13">ATP2A3</text>
<text x="617.00" y="453.19" font-size="5.10" stroke="#000" stroke-width="0.13">MLXIP</text>
<text x="617.00" y="458.59" font-size="5.10" stroke="#000" stroke-width="0.13">WDR6</text>
<text x="617.00" y="463.98" font-size="5.10" stroke="#000" stroke-width="0.13">WASF2</text>
<text x="617.00" y="469.38" font-size="5.10" stroke="#000" stroke-width="0.13">MLEC</text>
<text x="617.00" y="474.78" font-size="5.10" stroke="#000" stroke-width="0.13">GPI</text>
<text x="617.00" y="480.17" font-size="5.10" stroke="#000" stroke-width="0.13">TCF25</text>
<text x="617.00" y="485.57" font-size="5.10" stroke="#000" stroke-width="0.13">SLC25A6</text>
<text x="617.00" y="490.96" font-size="5.10" stroke="#000" stroke-width="0.13">P4HB</text>
<text x="617.00" y="496.36" font-size="5.10" stroke="#000" stroke-width="0.13">ACADVL</text>
<text x="617.00" y="501.76" font-size="5.10" stroke="#000" stroke-width="0.13">ENO1</text>
<text x="617.00" y="507.15" font-size="5.10" stroke="#000" stroke-width="0.13">NCOR2</text>
<text x="617.00" y="512.55" font-size="5.10" stroke="#000" stroke-width="0.13">CMPK2</text>
<text x="617.00" y="517.94" font-size="5.10" stroke="#000" stroke-width="0.13">DDX60</text>
<text x="617.00" y="523.34" font-size="5.10" stroke="#000" stroke-width="0.13">EPSTI1</text>
<text x="617.00" y="528.74" font-size="5.10" stroke="#000" stroke-width="0.13">SAMD9L</text>
<text x="617.00" y="534.13" font-size="5.10" stroke="#000" stroke-width="0.13">XAF1</text>
<text x="617.00" y="539.53" font-size="5.10" stroke="#000" stroke-width="0.13">IFIT1</text>
<text x="617.00" y="544.92" font-size="5.10" stroke="#000" stroke-width="0.13">IFIT3</text>
<text x="617.00" y="550.32" font-size="5.10" stroke="#000" stroke-width="0.13">RSAD2</text>
<text x="617.00" y="555.72" font-size="5.10" stroke="#000" stroke-width="0.13">IFI44L</text>
<text x="617.00" y="561.11" font-size="5.10" stroke="#000" stroke-width="0.13">IFI44</text>
<text x="617.00" y="566.51" font-size="5.10" stroke="#000" stroke-width="0.13">IFI27</text>
<text x="617.00" y="571.90" font-size="5.10" stroke="#000" stroke-width="0.13">ISG15</text>
<text x="617.00" y="577.30" font-size="5.10" stroke="#000" stroke-width="0.13">IFI6</text>
<text x="617.00" y="582.70" font-size="5.10" stroke="#000" stroke-width="0.13">CXCL9</text>
<text x="617.00" y="588.09" font-size="5.10" stroke="#000" stroke-width="0.13">SAMSN1</text>
<text x="617.00" y="593.49" font-size="5.10" stroke="#000" stroke-width="0.13">CD69</text>
<text x="617.00" y="598.88" font-size="5.10" stroke="#000" stroke-width="0.13">EVI2A</text>
<text x="617.00" y="604.28" font-size="5.10" stroke="#000" stroke-width="0.13">GIMAP2</text>
<text x="617.00" y="609.68" font-size="5.10" stroke="#000" stroke-width="0.13">GZMA</text>
<text x="617.00" y="615.07" font-size="5.10" stroke="#000" stroke-width="0.13">CD48</text>
<text x="617.00" y="620.47" font-size="5.10" stroke="#000" stroke-width="0.13">MS4A1</text>
<text x="617.00" y="625.86" font-size="5.10" stroke="#000" stroke-width="0.13">STAP1</text>
<text x="617.00" y="631.26" font-size="5.10" stroke="#000" stroke-width="0.13">CALHM6</text>
<text x="617.00" y="636.66" font-size="5.10" stroke="#000" stroke-width="0.13">CXCL10</text>
<text x="617.00" y="642.05" font-size="5.10" stroke="#000" stroke-width="0.13">SAMD9</text>
<text x="617.00" y="370.20" font-size="6.40" font-weight="bold" textLength="20.00" lengthAdjust="spacingAndGlyphs">Group</text>
<defs><linearGradient id="hmg" x1="0" y1="0" x2="0" y2="1"><stop offset="0" stop-color="#cd2626"/><stop offset="0.5" stop-color="#fff"/><stop offset="1" stop-color="#000080"/></linearGradient></defs>
<rect x="645.2" y="365.6" width="5.5" height="80" fill="url(#hmg)"/>
<text x="652.80" y="367.60" font-size="5.00" fill="#111">2</text>
<text x="652.80" y="387.60" font-size="5.00" fill="#111">1</text>
<text x="652.80" y="407.80" font-size="5.00" fill="#111">0</text>
<text x="652.80" y="428.00" font-size="5.00" fill="#111">−1</text>
<text x="652.80" y="448.10" font-size="5.00" fill="#111">−2</text>
<text x="659.10" y="367.50" font-size="8.40" font-weight="bold">Group</text>
<rect x="660.4" y="371.1" width="8" height="7.9" fill="#0ccdd3"/><rect x="660.4" y="379" width="8" height="7.9" fill="#f88a82"/>
<text x="669.90" y="376.70" font-size="6.90" fill="#111">pSS</text>
<text x="669.90" y="384.60" font-size="6.90" fill="#111">HC</text>
<defs><linearGradient id="qg" x1="0" y1="0" x2="0" y2="1"><stop offset="0.00" stop-color="#ff0000"/><stop offset="0.10" stop-color="#f6002a"/><stop offset="0.20" stop-color="#ed0044"/><stop offset="0.30" stop-color="#e3005b"/><stop offset="0.40" stop-color="#d70072"/><stop offset="0.50" stop-color="#ca0088"/><stop offset="0.60" stop-color="#ba009f"/><stop offset="0.70" stop-color="#a600b7"/><stop offset="0.80" stop-color="#8d00ce"/><stop offset="0.90" stop-color="#6800e7"/><stop offset="1.00" stop-color="#0000ff"/></linearGradient></defs>
<text x="3.60" y="678.40" font-size="15.50" textLength="9.00" lengthAdjust="spacingAndGlyphs" stroke="#000" stroke-width="0.3">E</text>
<text x="360.60" y="679.80" font-size="15.00" textLength="7.40" lengthAdjust="spacingAndGlyphs" stroke="#000" stroke-width="0.3">F</text>
<path d="M218.09 678.30V759.40M238.86 678.30V759.40M259.64 678.30V759.40M280.41 678.30V759.40M301.19 678.30V759.40" stroke="#f0f0f0" stroke-width="0.4" fill="none"/>
<path d="M207.70 678.30V759.40M228.47 678.30V759.40M249.25 678.30V759.40M270.02 678.30V759.40M290.80 678.30V759.40M311.57 678.30V759.40M203.30 683.07H312.40M203.30 691.02H312.40M203.30 698.97H312.40M203.30 706.92H312.40M203.30 714.87H312.40M203.30 722.83H312.40M203.30 730.78H312.40M203.30 738.73H312.40M203.30 746.68H312.40M203.30 754.63H312.40" stroke="#e6e6e6" stroke-width="0.55" fill="none"/>
<rect x="207.70" y="679.49" width="95.57" height="7.16" fill="#ff0000"/>
<text x="200.50" y="685.05" font-size="5.50" text-anchor="end" fill="#111" stroke="#111" stroke-width="0.16">defense response to virus</text>
<rect x="207.70" y="687.44" width="99.72" height="7.16" fill="#ff0000"/>
<text x="200.50" y="693.00" font-size="5.50" text-anchor="end" fill="#111" stroke="#111" stroke-width="0.16">response to virus</text>
<rect x="207.70" y="695.39" width="49.86" height="7.16" fill="#ff0000"/>
<text x="200.50" y="700.95" font-size="5.50" text-anchor="end" fill="#111" stroke="#111" stroke-width="0.16">type I interferon signaling pathway</text>
<rect x="207.70" y="703.35" width="49.86" height="7.16" fill="#ff0000"/>
<text x="200.50" y="708.90" font-size="5.50" text-anchor="end" fill="#111" stroke="#111" stroke-width="0.16">cellular response to type I interferon</text>
<rect x="207.70" y="711.30" width="49.86" height="7.16" fill="#ff0000"/>
<text x="200.50" y="716.85" font-size="5.50" text-anchor="end" fill="#111" stroke="#111" stroke-width="0.16">response to type I interferon</text>
<rect x="207.70" y="719.25" width="49.86" height="7.16" fill="#ff0000"/>
<text x="200.50" y="724.81" font-size="5.50" text-anchor="end" fill="#111" stroke="#111" stroke-width="0.16">regulation of viral life cycle</text>
<rect x="207.70" y="727.20" width="54.02" height="7.16" fill="#ff0000"/>
<text x="200.50" y="732.76" font-size="5.50" text-anchor="end" fill="#111" stroke="#111" stroke-width="0.16">regulation of viral process</text>
<rect x="207.70" y="735.15" width="54.02" height="7.16" fill="#ff0000"/>
<text x="200.50" y="740.71" font-size="5.50" text-anchor="end" fill="#111" stroke="#111" stroke-width="0.16">regulation of symbiotic process</text>
<rect x="207.70" y="743.10" width="33.24" height="7.16" fill="#ff0000"/>
<text x="200.50" y="748.66" font-size="5.50" text-anchor="end" fill="#111" stroke="#111" stroke-width="0.16">negative regulation of viral genome replication</text>
<rect x="207.70" y="751.05" width="37.40" height="7.16" fill="#ff0000"/>
<text x="200.50" y="756.61" font-size="5.50" text-anchor="end" fill="#111" stroke="#111" stroke-width="0.16">regulation of viral genome replication</text>
<path d="M200.80 683.07h2.50M200.80 691.02h2.50M200.80 698.97h2.50M200.80 706.92h2.50M200.80 714.87h2.50M200.80 722.83h2.50M200.80 730.78h2.50M200.80 738.73h2.50M200.80 746.68h2.50M200.80 754.63h2.50" stroke="#333" stroke-width="0.6" fill="none"/>
<rect x="203.30" y="678.30" width="109.10" height="81.10" fill="none" stroke="#555" stroke-width="0.6"/>
<rect x="312.40" y="678.30" width="7.40" height="81.10" fill="#d9d9d9" stroke="#666" stroke-width="0.5"/>
<text x="0.00" y="0.00" font-size="6.60" text-anchor="middle" fill="#1a1a1a" transform="translate(314.30 718.85) rotate(90)">BP</text>
<path d="M218.09 762.50V843.50M238.86 762.50V843.50M259.64 762.50V843.50M280.41 762.50V843.50M301.19 762.50V843.50" stroke="#f0f0f0" stroke-width="0.4" fill="none"/>
<path d="M207.70 762.50V843.50M228.47 762.50V843.50M249.25 762.50V843.50M270.02 762.50V843.50M290.80 762.50V843.50M311.57 762.50V843.50M203.30 767.26H312.40M203.30 775.21H312.40M203.30 783.15H312.40M203.30 791.09H312.40M203.30 799.03H312.40M203.30 806.97H312.40M203.30 814.91H312.40M203.30 822.85H312.40M203.30 830.79H312.40M203.30 838.74H312.40" stroke="#e6e6e6" stroke-width="0.55" fill="none"/>
<rect x="207.70" y="763.69" width="12.46" height="7.15" fill="#f00030"/>
<text x="200.50" y="769.24" font-size="5.50" text-anchor="end" fill="#111" stroke="#111" stroke-width="0.16">MHC class II protein complex</text>
<rect x="207.70" y="771.63" width="12.46" height="7.15" fill="#ee0036"/>
<text x="200.50" y="777.19" font-size="5.50" text-anchor="end" fill="#111" stroke="#111" stroke-width="0.16">MHC protein complex</text>
<rect x="207.70" y="779.57" width="12.46" height="7.15" fill="#ec003c"/>
<text x="200.50" y="785.13" font-size="5.50" text-anchor="end" fill="#111" stroke="#111" stroke-width="0.16">integral component of lumenal side of endoplasmic reticulum membrane</text>
<rect x="207.70" y="787.51" width="12.46" height="7.15" fill="#ea0040"/>
<text x="200.50" y="793.07" font-size="5.50" text-anchor="end" fill="#111" stroke="#111" stroke-width="0.16">lumenal side of endoplasmic reticulum membrane</text>
<rect x="207.70" y="795.46" width="12.46" height="7.15" fill="#e70046"/>
<text x="200.50" y="801.01" font-size="5.50" text-anchor="end" fill="#111" stroke="#111" stroke-width="0.16">lumenal side of membrane</text>
<rect x="207.70" y="803.40" width="12.46" height="7.15" fill="#e2004c"/>
<text x="200.50" y="808.95" font-size="5.50" text-anchor="end" fill="#111" stroke="#111" stroke-width="0.16">clathrin−coated endocytic vesicle membrane</text>
<rect x="207.70" y="811.34" width="20.78" height="7.15" fill="#c4009a"/>
<text x="200.50" y="816.89" font-size="5.50" text-anchor="end" fill="#111" stroke="#111" stroke-width="0.16">mitochondrial outer membrane</text>
<rect x="207.70" y="819.28" width="12.46" height="7.15" fill="#b400a8"/>
<text x="200.50" y="824.83" font-size="5.50" text-anchor="end" fill="#111" stroke="#111" stroke-width="0.16">clathrin−coated endocytic vesicle</text>
<rect x="207.70" y="827.22" width="12.46" height="7.15" fill="#b400a8"/>
<text x="200.50" y="832.77" font-size="5.50" text-anchor="end" fill="#111" stroke="#111" stroke-width="0.16">ER to Golgi transport vesicle membrane</text>
<rect x="207.70" y="835.16" width="20.78" height="7.15" fill="#b000ac"/>
<text x="200.50" y="840.72" font-size="5.50" text-anchor="end" fill="#111" stroke="#111" stroke-width="0.16">organelle outer membrane</text>
<path d="M200.80 767.26h2.50M200.80 775.21h2.50M200.80 783.15h2.50M200.80 791.09h2.50M200.80 799.03h2.50M200.80 806.97h2.50M200.80 814.91h2.50M200.80 822.85h2.50M200.80 830.79h2.50M200.80 838.74h2.50" stroke="#333" stroke-width="0.6" fill="none"/>
<rect x="203.30" y="762.50" width="109.10" height="81.00" fill="none" stroke="#555" stroke-width="0.6"/>
<rect x="312.40" y="762.50" width="7.40" height="81.00" fill="#d9d9d9" stroke="#666" stroke-width="0.5"/>
<text x="0.00" y="0.00" font-size="6.60" text-anchor="middle" fill="#1a1a1a" transform="translate(314.30 803.00) rotate(90)">CC</text>
<path d="M218.09 846.30V927.20M238.86 846.30V927.20M259.64 846.30V927.20M280.41 846.30V927.20M301.19 846.30V927.20" stroke="#f0f0f0" stroke-width="0.4" fill="none"/>
<path d="M207.70 846.30V927.20M228.47 846.30V927.20M249.25 846.30V927.20M270.02 846.30V927.20M290.80 846.30V927.20M311.57 846.30V927.20M203.30 851.06H312.40M203.30 858.99H312.40M203.30 866.92H312.40M203.30 874.85H312.40M203.30 882.78H312.40M203.30 890.72H312.40M203.30 898.65H312.40M203.30 906.58H312.40M203.30 914.51H312.40M203.30 922.44H312.40" stroke="#e6e6e6" stroke-width="0.55" fill="none"/>
<rect x="207.70" y="847.49" width="12.46" height="7.14" fill="#ee0038"/>
<text x="200.50" y="853.04" font-size="5.50" text-anchor="end" fill="#111" stroke="#111" stroke-width="0.16">CXCR chemokine receptor binding</text>
<rect x="207.70" y="855.42" width="16.62" height="7.14" fill="#e20050"/>
<text x="200.50" y="860.97" font-size="5.50" text-anchor="end" fill="#111" stroke="#111" stroke-width="0.16">chemokine receptor binding</text>
<rect x="207.70" y="863.35" width="12.46" height="7.14" fill="#e20050"/>
<text x="200.50" y="868.90" font-size="5.50" text-anchor="end" fill="#111" stroke="#111" stroke-width="0.16">peptide antigen binding</text>
<rect x="207.70" y="871.28" width="16.62" height="7.14" fill="#e20050"/>
<text x="200.50" y="876.83" font-size="5.50" text-anchor="end" fill="#111" stroke="#111" stroke-width="0.16">double−stranded RNA binding</text>
<rect x="207.70" y="879.22" width="8.31" height="7.14" fill="#cc0070"/>
<text x="200.50" y="884.76" font-size="5.50" text-anchor="end" fill="#111" stroke="#111" stroke-width="0.16">MHC class II receptor activity</text>
<rect x="207.70" y="887.15" width="20.78" height="7.14" fill="#c80076"/>
<text x="200.50" y="892.70" font-size="5.50" text-anchor="end" fill="#111" stroke="#111" stroke-width="0.16">antigen binding</text>
<rect x="207.70" y="895.08" width="8.31" height="7.14" fill="#cc0070"/>
<text x="200.50" y="900.63" font-size="5.50" text-anchor="end" fill="#111" stroke="#111" stroke-width="0.16">transmembrane receptor protein tyrosine kinase adaptor activity</text>
<rect x="207.70" y="903.01" width="12.46" height="7.14" fill="#cc0070"/>
<text x="200.50" y="908.56" font-size="5.50" text-anchor="end" fill="#111" stroke="#111" stroke-width="0.16">chemokine activity</text>
<rect x="207.70" y="910.94" width="8.31" height="7.14" fill="#a800a8"/>
<text x="200.50" y="916.49" font-size="5.50" text-anchor="end" fill="#111" stroke="#111" stroke-width="0.16">MHC class II protein complex binding</text>
<rect x="207.70" y="918.87" width="12.46" height="7.14" fill="#0000ff"/>
<text x="200.50" y="924.42" font-size="5.50" text-anchor="end" fill="#111" stroke="#111" stroke-width="0.16">signaling adaptor activity</text>
<path d="M200.80 851.06h2.50M200.80 858.99h2.50M200.80 866.92h2.50M200.80 874.85h2.50M200.80 882.78h2.50M200.80 890.72h2.50M200.80 898.65h2.50M200.80 906.58h2.50M200.80 914.51h2.50M200.80 922.44h2.50" stroke="#333" stroke-width="0.6" fill="none"/>
<rect x="203.30" y="846.30" width="109.10" height="80.90" fill="none" stroke="#555" stroke-width="0.6"/>
<rect x="312.40" y="846.30" width="7.40" height="80.90" fill="#d9d9d9" stroke="#666" stroke-width="0.5"/>
<text x="0.00" y="0.00" font-size="6.60" text-anchor="middle" fill="#1a1a1a" transform="translate(314.30 886.75) rotate(90)">MF</text>
<text x="207.70" y="934.20" font-size="6.20" text-anchor="middle" fill="#222">0</text>
<text x="228.47" y="934.20" font-size="6.20" text-anchor="middle" fill="#222">5</text>
<text x="249.25" y="934.20" font-size="6.20" text-anchor="middle" fill="#222">10</text>
<text x="270.02" y="934.20" font-size="6.20" text-anchor="middle" fill="#222">15</text>
<text x="290.80" y="934.20" font-size="6.20" text-anchor="middle" fill="#222">20</text>
<text x="311.57" y="934.20" font-size="6.20" text-anchor="middle" fill="#222">25</text>
<path d="M207.70 927.2v2.3M228.47 927.2v2.3M249.25 927.2v2.3M270.02 927.2v2.3M290.80 927.2v2.3M311.57 927.2v2.3" stroke="#444" stroke-width="0.5" fill="none"/>
<text x="327.70" y="783.00" font-size="6.00" textLength="17.30" lengthAdjust="spacingAndGlyphs" fill="#111" stroke="#111" stroke-width="0.1">qvalue</text>
<rect x="327.7" y="786.1" width="8.2" height="40.6" fill="url(#qg)"/>
<text x="338.00" y="797.70" font-size="4.40" textLength="10.70" lengthAdjust="spacingAndGlyphs" fill="#111" stroke="#111" stroke-width="0.1">0.025</text>
<text x="338.00" y="807.10" font-size="4.40" textLength="10.70" lengthAdjust="spacingAndGlyphs" fill="#111" stroke="#111" stroke-width="0.1">0.050</text>
<text x="338.00" y="816.70" font-size="4.40" textLength="10.70" lengthAdjust="spacingAndGlyphs" fill="#111" stroke="#111" stroke-width="0.1">0.075</text>
<text x="338.00" y="825.90" font-size="4.40" textLength="10.70" lengthAdjust="spacingAndGlyphs" fill="#111" stroke="#111" stroke-width="0.1">0.100</text>
<path d="M327.7 796.1h1.6M334.3 796.1h1.6M327.7 805.5h1.6M334.3 805.5h1.6M327.7 815.1h1.6M334.3 815.1h1.6M327.7 824.3h1.6M334.3 824.3h1.6" stroke="#fff" stroke-width="0.4" fill="none"/>
<path d="M564.73 679.90V925.80M587.38 679.90V925.80M610.02 679.90V925.80M632.67 679.90V925.80" stroke="#f0f0f0" stroke-width="0.4" fill="none"/>
<path d="M553.40 679.90V925.80M576.05 679.90V925.80M598.70 679.90V925.80M621.35 679.90V925.80M644.00 679.90V925.80M549.60 684.95H648.40M549.60 693.37H648.40M549.60 701.80H648.40M549.60 710.22H648.40M549.60 718.64H648.40M549.60 727.06H648.40M549.60 735.48H648.40M549.60 743.90H648.40M549.60 752.32H648.40M549.60 760.74H648.40M549.60 769.17H648.40M549.60 777.59H648.40M549.60 786.01H648.40M549.60 794.43H648.40M549.60 802.85H648.40M549.60 811.27H648.40M549.60 819.69H648.40M549.60 828.11H648.40M549.60 836.53H648.40M549.60 844.96H648.40M549.60 853.38H648.40M549.60 861.80H648.40M549.60 870.22H648.40M549.60 878.64H648.40M549.60 887.06H648.40M549.60 895.48H648.40M549.60 903.90H648.40M549.60 912.33H648.40M549.60 920.75H648.40" stroke="#e6e6e6" stroke-width="0.55" fill="none"/>
<rect x="553.40" y="681.16" width="90.60" height="7.58" fill="#ff0000"/>
<text x="545.60" y="687.26" font-size="6.40" text-anchor="end" fill="#111" stroke="#111" stroke-width="0.16">Influenza A</text>
<rect x="553.40" y="689.58" width="45.30" height="7.58" fill="#ff0000"/>
<text x="545.60" y="695.68" font-size="6.40" text-anchor="end" fill="#111" stroke="#111" stroke-width="0.16">Intestinal immune network for IgA production</text>
<rect x="553.40" y="698.01" width="72.48" height="7.58" fill="#ff0000"/>
<text x="545.60" y="704.10" font-size="6.40" text-anchor="end" fill="#111" stroke="#111" stroke-width="0.16">Epstein−Barr virus infection</text>
<rect x="553.40" y="706.43" width="63.42" height="7.58" fill="#ff0000"/>
<text x="545.60" y="712.52" font-size="6.40" text-anchor="end" fill="#111" stroke="#111" stroke-width="0.16">Hepatitis C</text>
<rect x="553.40" y="714.85" width="72.48" height="7.58" fill="#ff0000"/>
<text x="545.60" y="720.94" font-size="6.40" text-anchor="end" fill="#111" stroke="#111" stroke-width="0.16">Coronavirus disease − COVID−19</text>
<rect x="553.40" y="723.27" width="45.30" height="7.58" fill="#fe0004"/>
<text x="545.60" y="729.36" font-size="6.40" text-anchor="end" fill="#111" stroke="#111" stroke-width="0.16">Leishmaniasis</text>
<rect x="553.40" y="731.69" width="45.30" height="7.58" fill="#fa0010"/>
<text x="545.60" y="737.78" font-size="6.40" text-anchor="end" fill="#111" stroke="#111" stroke-width="0.16">Hematopoietic cell lineage</text>
<rect x="553.40" y="740.11" width="45.30" height="7.58" fill="#f70018"/>
<text x="545.60" y="746.21" font-size="6.40" text-anchor="end" fill="#111" stroke="#111" stroke-width="0.16">Toxoplasmosis</text>
<rect x="553.40" y="748.53" width="36.24" height="7.58" fill="#f5001c"/>
<text x="545.60" y="754.63" font-size="6.40" text-anchor="end" fill="#111" stroke="#111" stroke-width="0.16">Inflammatory bowel disease</text>
<rect x="553.40" y="756.95" width="54.36" height="7.58" fill="#f40020"/>
<text x="545.60" y="763.05" font-size="6.40" text-anchor="end" fill="#111" stroke="#111" stroke-width="0.16">NOD−like receptor signaling pathway</text>
<rect x="553.40" y="765.38" width="27.18" height="7.58" fill="#f20024"/>
<text x="545.60" y="771.47" font-size="6.40" text-anchor="end" fill="#111" stroke="#111" stroke-width="0.16">Asthma</text>
<rect x="553.40" y="773.80" width="45.30" height="7.58" fill="#f20026"/>
<text x="545.60" y="779.89" font-size="6.40" text-anchor="end" fill="#111" stroke="#111" stroke-width="0.16">Measles</text>
<rect x="553.40" y="782.22" width="27.18" height="7.58" fill="#f0002a"/>
<text x="545.60" y="788.31" font-size="6.40" text-anchor="end" fill="#111" stroke="#111" stroke-width="0.16">Allograft rejection</text>
<rect x="553.40" y="790.64" width="27.18" height="7.58" fill="#f0002e"/>
<text x="545.60" y="796.73" font-size="6.40" text-anchor="end" fill="#111" stroke="#111" stroke-width="0.16">Graft−versus−host disease</text>
<rect x="553.40" y="799.06" width="36.24" height="7.58" fill="#ee0034"/>
<text x="545.60" y="805.15" font-size="6.40" text-anchor="end" fill="#111" stroke="#111" stroke-width="0.16">Th1 and Th2 cell differentiation</text>
<rect x="553.40" y="807.48" width="27.18" height="7.58" fill="#ec0038"/>
<text x="545.60" y="813.58" font-size="6.40" text-anchor="end" fill="#111" stroke="#111" stroke-width="0.16">Type I diabetes mellitus</text>
<rect x="553.40" y="815.90" width="36.24" height="7.58" fill="#e8003f"/>
<text x="545.60" y="822.00" font-size="6.40" text-anchor="end" fill="#111" stroke="#111" stroke-width="0.16">Toll−like receptor signaling pathway</text>
<rect x="553.40" y="824.32" width="36.24" height="7.58" fill="#e60044"/>
<text x="545.60" y="830.42" font-size="6.40" text-anchor="end" fill="#111" stroke="#111" stroke-width="0.16">Th17 cell differentiation</text>
<rect x="553.40" y="832.75" width="27.18" height="7.58" fill="#e60044"/>
<text x="545.60" y="838.84" font-size="6.40" text-anchor="end" fill="#111" stroke="#111" stroke-width="0.16">Autoimmune thyroid disease</text>
<rect x="553.40" y="841.17" width="27.18" height="7.58" fill="#e4004a"/>
<text x="545.60" y="847.26" font-size="6.40" text-anchor="end" fill="#111" stroke="#111" stroke-width="0.16">Pyrimidine metabolism</text>
<rect x="553.40" y="849.59" width="27.18" height="7.58" fill="#e0004f"/>
<text x="545.60" y="855.68" font-size="6.40" text-anchor="end" fill="#111" stroke="#111" stroke-width="0.16">Viral myocarditis</text>
<rect x="553.40" y="858.01" width="27.18" height="7.58" fill="#d20064"/>
<text x="545.60" y="864.10" font-size="6.40" text-anchor="end" fill="#111" stroke="#111" stroke-width="0.16">RIG−I−like receptor signaling pathway</text>
<rect x="553.40" y="866.43" width="27.18" height="7.58" fill="#b8008a"/>
<text x="545.60" y="872.52" font-size="6.40" text-anchor="end" fill="#111" stroke="#111" stroke-width="0.16">Antigen processing and presentation</text>
<rect x="553.40" y="874.85" width="36.24" height="7.58" fill="#a000a8"/>
<text x="545.60" y="880.95" font-size="6.40" text-anchor="end" fill="#111" stroke="#111" stroke-width="0.16">Cell adhesion molecules</text>
<rect x="553.40" y="883.27" width="27.18" height="7.58" fill="#9200b8"/>
<text x="545.60" y="889.37" font-size="6.40" text-anchor="end" fill="#111" stroke="#111" stroke-width="0.16">Nucleotide metabolism</text>
<rect x="553.40" y="891.69" width="27.18" height="7.58" fill="#5800e0"/>
<text x="545.60" y="897.79" font-size="6.40" text-anchor="end" fill="#111" stroke="#111" stroke-width="0.16">Rheumatoid arthritis</text>
<rect x="553.40" y="900.12" width="27.18" height="7.58" fill="#4000f0"/>
<text x="545.60" y="906.21" font-size="6.40" text-anchor="end" fill="#111" stroke="#111" stroke-width="0.16">Staphylococcus aureus infection</text>
<rect x="553.40" y="908.54" width="36.24" height="7.58" fill="#2800f5"/>
<text x="545.60" y="914.63" font-size="6.40" text-anchor="end" fill="#111" stroke="#111" stroke-width="0.16">Tuberculosis</text>
<rect x="553.40" y="916.96" width="27.18" height="7.58" fill="#0000ff"/>
<text x="545.60" y="923.05" font-size="6.40" text-anchor="end" fill="#111" stroke="#111" stroke-width="0.16">Viral protein interaction with cytokine and cytokine receptor</text>
<path d="M546.60 684.95h3.00M546.60 693.37h3.00M546.60 701.80h3.00M546.60 710.22h3.00M546.60 718.64h3.00M546.60 727.06h3.00M546.60 735.48h3.00M546.60 743.90h3.00M546.60 752.32h3.00M546.60 760.74h3.00M546.60 769.17h3.00M546.60 777.59h3.00M546.60 786.01h3.00M546.60 794.43h3.00M546.60 802.85h3.00M546.60 811.27h3.00M546.60 819.69h3.00M546.60 828.11h3.00M546.60 836.53h3.00M546.60 844.96h3.00M546.60 853.38h3.00M546.60 861.80h3.00M546.60 870.22h3.00M546.60 878.64h3.00M546.60 887.06h3.00M546.60 895.48h3.00M546.60 903.90h3.00M546.60 912.33h3.00M546.60 920.75h3.00" stroke="#333" stroke-width="0.6" fill="none"/>
<rect x="549.60" y="679.90" width="98.80" height="245.90" fill="none" stroke="#555" stroke-width="0.6"/>
<text x="553.40" y="933.30" font-size="6.40" text-anchor="middle" fill="#222">0.0</text>
<text x="576.05" y="933.30" font-size="6.40" text-anchor="middle" fill="#222">2.5</text>
<text x="598.70" y="933.30" font-size="6.40" text-anchor="middle" fill="#222">5.0</text>
<text x="621.35" y="933.30" font-size="6.40" text-anchor="middle" fill="#222">7.5</text>
<text x="644.00" y="933.30" font-size="6.40" text-anchor="middle" fill="#222">10.0</text>
<path d="M553.40 925.8v2.6M576.05 925.8v2.6M598.70 925.8v2.6M621.35 925.8v2.6M644.00 925.8v2.6" stroke="#444" stroke-width="0.5" fill="none"/>
<text x="657.20" y="781.00" font-size="6.00" textLength="17.40" lengthAdjust="spacingAndGlyphs" fill="#111" stroke="#111" stroke-width="0.1">qvalue</text>
<rect x="657.2" y="784.1" width="9.7" height="46.5" fill="url(#qg)"/>
<text x="669.50" y="796.30" font-size="4.50" textLength="9.40" lengthAdjust="spacingAndGlyphs" fill="#111" stroke="#111" stroke-width="0.1">0.01</text>
<text x="669.50" y="806.30" font-size="4.50" textLength="9.40" lengthAdjust="spacingAndGlyphs" fill="#111" stroke="#111" stroke-width="0.1">0.02</text>
<text x="669.50" y="816.30" font-size="4.50" textLength="9.40" lengthAdjust="spacingAndGlyphs" fill="#111" stroke="#111" stroke-width="0.1">0.03</text>
<text x="669.50" y="826.30" font-size="4.50" textLength="9.40" lengthAdjust="spacingAndGlyphs" fill="#111" stroke="#111" stroke-width="0.1">0.04</text>
<path d="M657.2 794.7h1.9M665.0 794.7h1.9M657.2 804.7h1.9M665.0 804.7h1.9M657.2 814.7h1.9M665.0 814.7h1.9M657.2 824.7h1.9M665.0 824.7h1.9" stroke="#fff" stroke-width="0.4" fill="none"/>
</g>
</svg></body></html>
